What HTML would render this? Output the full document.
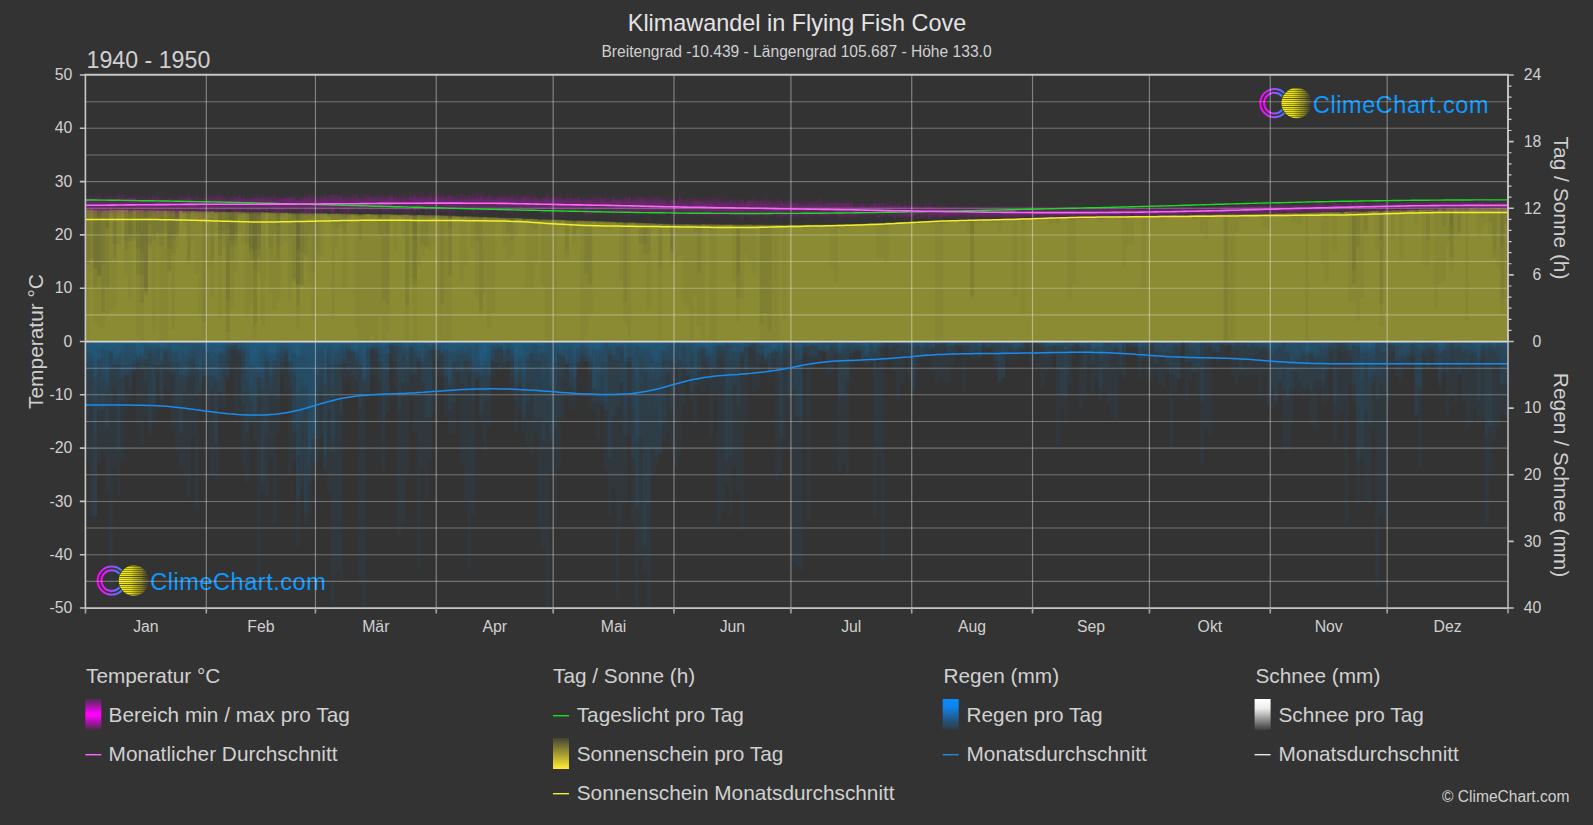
<!DOCTYPE html>
<html lang="de"><head><meta charset="utf-8"><title>Klimawandel in Flying Fish Cove</title>
<style>
html,body{margin:0;padding:0;background:#333333;}
body{width:1593px;height:825px;overflow:hidden;}
svg{display:block;}
text{font-family:"Liberation Sans",Arial,sans-serif;fill:#d0d0d0;}
.tk{font-size:15.8px;}
.lg{font-size:20.8px;}
.ax{font-size:20.9px;}
</style></head><body>
<svg width="1593" height="825" viewBox="0 0 1593 825">
<defs>
<linearGradient id="gRing" x1="0" y1="0" x2="1" y2="0"><stop offset="0" stop-color="#ff00ff"/><stop offset="0.45" stop-color="#b044ff"/><stop offset="1" stop-color="#1e90ff"/></linearGradient>
<linearGradient id="gSun" x1="0" y1="0" x2="1" y2="0"><stop offset="0" stop-color="#fff200"/><stop offset="0.4" stop-color="#e6dc08"/><stop offset="0.75" stop-color="#b0a818" stop-opacity="0.7"/><stop offset="1" stop-color="#8c8420" stop-opacity="0.05"/></linearGradient>
<linearGradient id="gMag" x1="0" y1="0" x2="0" y2="1"><stop offset="0" stop-color="#f000f0" stop-opacity="0.15"/><stop offset="0.46" stop-color="#ff00ff"/><stop offset="0.54" stop-color="#ff00ff"/><stop offset="1" stop-color="#f000f0" stop-opacity="0.1"/></linearGradient>
<linearGradient id="gYel" x1="0" y1="0" x2="0" y2="1"><stop offset="0" stop-color="#444433"/><stop offset="1" stop-color="#ffee33"/></linearGradient>
<linearGradient id="gBlu" x1="0" y1="0" x2="0" y2="1"><stop offset="0" stop-color="#0a8cff"/><stop offset="0.25" stop-color="#0e84f0"/><stop offset="1" stop-color="#1478d0" stop-opacity="0.08"/></linearGradient>
<linearGradient id="gWht" x1="0" y1="0" x2="0" y2="1"><stop offset="0" stop-color="#ffffff"/><stop offset="0.3" stop-color="#eeeeee"/><stop offset="1" stop-color="#eeeeee" stop-opacity="0.05"/></linearGradient>
<clipPath id="cp"><rect x="85.5" y="75.0" width="1422.5" height="533.0"/></clipPath>
<g id="stripes" stroke="#2e2e26" stroke-width="0.9">
<line x1="26" x2="57" y1="2.50" y2="2.50" stroke-opacity="0.5"/><line x1="26" x2="57" y1="4.50" y2="4.50" stroke-opacity="0.5"/><line x1="26" x2="57" y1="6.50" y2="6.50" stroke-opacity="0.5"/><line x1="26" x2="57" y1="8.50" y2="8.50" stroke-opacity="0.5"/><line x1="26" x2="57" y1="10.50" y2="10.50" stroke-opacity="0.5"/><line x1="26" x2="57" y1="12.50" y2="12.50" stroke-opacity="0.5"/><line x1="26" x2="57" y1="14.50" y2="14.50" stroke-opacity="0.85"/><line x1="26" x2="57" y1="16.50" y2="16.50" stroke-opacity="0.5"/><line x1="26" x2="57" y1="18.50" y2="18.50" stroke-opacity="0.5"/><line x1="26" x2="57" y1="20.50" y2="20.50" stroke-opacity="0.5"/><line x1="26" x2="57" y1="22.50" y2="22.50" stroke-opacity="0.85"/><line x1="26" x2="57" y1="24.50" y2="24.50" stroke-opacity="0.5"/><line x1="26" x2="57" y1="26.50" y2="26.50" stroke-opacity="0.5"/><line x1="26" x2="57" y1="28.50" y2="28.50" stroke-opacity="0.5"/><line x1="26" x2="57" y1="30.50" y2="30.50" stroke-opacity="0.5"/><line x1="26" x2="57" y1="32.50" y2="32.50" stroke-opacity="0.5"/><line x1="26" x2="57" y1="34.50" y2="34.50" stroke-opacity="0.5"/>
</g>
<clipPath id="cs"><circle cx="41.6" cy="19.1" r="15.1"/></clipPath>
<g id="logo">
<circle cx="19.4" cy="19.1" r="14.1" fill="none" stroke="url(#gRing)" stroke-width="2"/>
<circle cx="19.4" cy="19.1" r="10.35" fill="none" stroke="url(#gRing)" stroke-width="2"/>
<circle cx="41.6" cy="19.1" r="15.9" fill="#333333"/>
<circle cx="41.6" cy="19.1" r="15.1" fill="url(#gSun)"/>
<text x="58" y="28.6" style="font-size:23.5px;fill:#0d98ff;letter-spacing:0.54px">ClimeChart.com</text>
</g>
</defs>
<rect width="1593" height="825" fill="#333333"/>

<g transform="translate(1255,84)"><use href="#logo"/><g clip-path="url(#cs)"><use href="#stripes"/></g></g>
<g transform="translate(92.3,561.5)"><use href="#logo"/><g clip-path="url(#cs)"><use href="#stripes" y="0.5"/></g></g>
<g clip-path="url(#cp)">
<path d="M85.50,341.5V209.1H89.40V271.5H93.29V321.3H97.19V274.6H101.09V209.8H104.99V210.5H108.88V212.9H112.78V243.7H116.68V244.4H120.58V210.2H124.47V209.7H128.37V234.4H132.27V210.4H136.16V274.6H140.06V303.1H143.96V293.5H147.86V243.8H151.75V210.2H155.65V210.5H159.55V341.5H163.45V340.0H167.34V210.6H171.24V252.9H175.14V212.9H179.03V210.6H182.93V211.5H186.83V213.4H190.73V211.0H194.62V210.8H198.52V213.1H202.42V211.1H206.32V211.7H210.21V296.8H214.11V211.2H218.01V211.3H221.90V211.5H225.80V212.0H229.70V235.4H233.60V239.4H237.49V212.2H241.39V212.1H245.29V213.4H249.18V304.9H253.08V323.8H256.98V212.3H260.88V212.8H264.77V212.4H268.67V212.7H272.57V212.6H276.47V213.3H280.36V212.8H284.26V212.5H288.16V213.7H292.05V212.6H295.95V249.8H299.85V252.4H303.75V215.0H307.64V213.1H311.54V214.2H315.44V213.5H319.34V213.6H323.23V213.2H327.13V213.9H331.03V213.8H334.92V213.4H338.82V213.5H342.72V214.6H346.62V214.2H350.51V214.7H354.41V216.5H358.31V214.8H362.21V213.9H366.10V214.2H370.00V214.7H373.90V214.2H377.79V217.1H381.69V216.7H385.59V215.9H389.49V214.8H393.38V216.0H397.28V214.5H401.18V235.4H405.08V215.1H408.97V215.8H412.87V215.2H416.77V214.8H420.66V244.2H424.56V245.8H428.46V215.3H432.36V215.0H436.25V215.2H440.15V215.7H444.05V215.4H447.95V216.9H451.84V217.1H455.74V215.8H459.64V216.5H463.53V217.5H467.43V218.2H471.33V217.4H475.23V218.0H479.12V219.2H483.02V216.9H486.92V218.9H490.82V217.4H494.71V217.9H498.61V218.9H502.51V218.7H506.40V217.9H510.30V217.9H514.20V218.1H518.10V218.6H521.99V219.8H525.89V219.0H529.79V219.4H533.68V219.9H537.58V218.9H541.48V220.3H545.38V219.2H549.27V219.8H553.17V220.0H557.07V219.7H560.97V220.5H564.86V220.8H568.76V221.7H572.66V222.8H576.55V220.5H580.45V220.8H584.35V221.7H588.25V221.0H592.14V221.2H596.04V221.9H599.94V221.5H603.84V222.8H607.73V223.3H611.63V221.8H615.53V222.6H619.42V223.5H623.32V225.5H627.22V222.6H631.12V222.7H635.01V224.5H638.91V224.9H642.81V223.1H646.71V223.6H650.60V223.2H654.50V225.0H658.40V223.7H662.29V224.6H666.19V225.3H670.09V224.6H673.99V224.2H677.88V224.1H681.78V224.4H685.68V225.6H689.58V224.2H693.47V224.1H697.37V224.6H701.27V224.3H705.16V224.2H709.06V224.3H712.96V224.9H716.86V225.4H720.75V224.8H724.65V224.5H728.55V224.7H732.45V225.2H736.34V227.0H740.24V228.9H744.14V224.7H748.03V224.5H751.93V226.1H755.83V226.9H759.73V225.1H763.62V225.9H767.52V331.5H771.42V341.5H775.32V341.5H779.21V225.6H783.11V224.7H787.01V224.8H790.90V224.8H794.80V225.1H798.70V224.9H802.60V224.7H806.49V224.7H810.39V225.6H814.29V224.6H818.18V224.9H822.08V225.0H825.98V224.6H829.88V225.1H833.77V225.0H837.67V224.7H841.57V225.5H845.47V224.4H849.36V224.1H853.26V224.4H857.16V224.2H861.05V223.8H864.95V225.7H868.85V224.9H872.75V223.2H876.64V257.3H880.54V254.4H884.44V263.1H888.34V222.7H892.23V222.8H896.13V222.4H900.03V222.5H903.92V224.0H907.82V222.0H911.72V221.4H915.62V222.1H919.51V222.4H923.41V221.1H927.31V222.2H931.21V223.5H935.10V221.5H939.00V220.9H942.90V221.5H946.79V221.5H950.69V221.2H954.59V220.3H958.49V223.3H962.38V222.7H966.28V220.2H970.18V220.4H974.08V219.5H977.97V223.4H981.87V219.3H985.77V220.1H989.66V220.3H993.56V219.1H997.46V219.1H1001.36V218.9H1005.25V218.6H1009.15V218.5H1013.05V220.4H1016.95V218.8H1020.84V218.6H1024.74V218.1H1028.64V218.9H1032.53V219.3H1036.43V218.6H1040.33V217.8H1044.23V218.9H1048.12V217.4H1052.02V219.0H1055.92V218.1H1059.82V217.5H1063.71V217.8H1067.61V218.0H1071.51V217.3H1075.40V218.6H1079.30V217.3H1083.20V218.8H1087.10V218.3H1090.99V216.7H1094.89V217.5H1098.79V216.8H1102.68V216.4H1106.58V217.0H1110.48V216.8H1114.38V218.2H1118.27V216.1H1122.17V216.7H1126.07V216.3H1129.97V215.9H1133.86V217.0H1137.76V216.4H1141.66V215.6H1145.55V216.4H1149.45V215.8H1153.35V219.2H1157.25V215.5H1161.14V215.3H1165.04V216.4H1168.94V215.6H1172.84V215.5H1176.73V216.9H1180.63V215.3H1184.53V216.9H1188.42V215.8H1192.32V215.1H1196.22V214.8H1200.12V214.6H1204.01V217.7H1207.91V215.0H1211.81V214.6H1215.71V214.7H1219.60V214.3H1223.50V341.5H1227.40V214.3H1231.29V215.5H1235.19V214.2H1239.09V216.9H1242.99V214.6H1246.88V213.9H1250.78V216.2H1254.68V214.1H1258.58V214.8H1262.47V214.3H1266.37V213.6H1270.27V213.5H1274.16V213.3H1278.06V213.2H1281.96V213.2H1285.86V213.1H1289.75V215.6H1293.65V212.9H1297.55V213.4H1301.45V212.8H1305.34V212.8H1309.24V213.7H1313.14V214.8H1317.03V212.8H1320.93V212.1H1324.83V218.5H1328.73V211.9H1332.62V251.7H1336.52V212.4H1340.42V213.6H1344.32V213.1H1348.21V212.3H1352.11V211.8H1356.01V212.9H1359.90V213.0H1363.80V212.9H1367.70V212.1H1371.60V210.9H1375.49V211.1H1379.39V211.2H1383.29V211.2H1387.18V212.0H1391.08V236.6H1394.98V211.2H1398.88V210.5H1402.77V211.3H1406.67V210.0H1410.57V210.3H1414.47V209.6H1418.36V209.7H1422.26V211.8H1426.16V239.9H1430.05V211.1H1433.95V209.6H1437.85V208.9H1441.75V210.1H1445.64V208.6H1449.54V210.1H1453.44V208.5H1457.34V209.4H1461.23V208.5H1465.13V208.7H1469.03V211.1H1472.92V208.9H1476.82V209.2H1480.72V209.4H1484.62V208.2H1488.51V209.8H1492.41V210.3H1496.31V208.2H1500.21V208.8H1504.10V223.7H1508.00V341.5Z" fill="#c6c630" fill-opacity="0.0769"/>
<path d="M85.50,341.5V210.3H89.40V209.1H93.29V209.8H97.19V326.9H101.09V328.9H104.99V315.6H108.88V210.6H112.78V209.6H116.68V211.2H120.58V209.9H124.47V274.3H128.37V299.5H132.27V210.4H136.16V210.0H140.06V211.1H143.96V289.6H147.86V211.2H151.75V213.1H155.65V231.8H159.55V210.3H163.45V210.5H167.34V270.4H171.24V233.4H175.14V233.0H179.03V211.0H182.93V211.2H186.83V211.0H190.73V210.8H194.62V211.4H198.52V210.9H202.42V211.5H206.32V213.4H210.21V211.3H214.11V212.1H218.01V212.2H221.90V236.9H225.80V229.1H229.70V240.4H233.60V212.1H237.49V214.8H241.39V212.1H245.29V212.9H249.18V213.5H253.08V212.3H256.98V216.1H260.88V212.9H264.77V212.7H268.67V293.3H272.57V310.0H276.47V298.8H280.36V212.9H284.26V213.6H288.16V237.8H292.05V215.0H295.95V213.4H299.85V213.0H303.75V253.8H307.64V214.9H311.54V213.0H315.44V263.1H319.34V213.5H323.23V213.6H327.13V216.8H331.03V224.5H334.92V227.3H338.82V227.7H342.72V213.5H346.62V215.3H350.51V213.6H354.41V214.1H358.31V213.7H362.21V215.3H366.10V341.5H370.00V334.5H373.90V341.5H377.79V218.4H381.69V214.4H385.59V214.4H389.49V214.9H393.38V215.1H397.28V215.4H401.18V214.6H405.08V215.5H408.97V216.9H412.87V216.9H416.77V217.3H420.66V217.1H424.56V217.8H428.46V215.0H432.36V217.2H436.25V215.4H440.15V215.6H444.05V215.9H447.95V218.3H451.84V216.5H455.74V216.2H459.64V216.4H463.53V216.1H467.43V217.8H471.33V216.4H475.23V216.8H479.12V217.1H483.02V217.1H486.92V217.7H490.82V217.4H494.71V218.1H498.61V219.9H502.51V219.3H506.40V217.8H510.30V218.1H514.20V218.5H518.10V219.1H521.99V218.7H525.89V218.7H529.79V219.0H533.68V219.0H537.58V220.7H541.48V220.1H545.38V219.7H549.27V220.4H553.17V220.1H557.07V220.3H560.97V220.2H564.86V220.5H568.76V223.9H572.66V221.6H576.55V222.0H580.45V220.7H584.35V221.3H588.25V221.3H592.14V221.1H596.04V221.6H599.94V229.0H603.84V229.7H607.73V230.0H611.63V222.0H615.53V223.3H619.42V223.1H623.32V223.3H627.22V222.4H631.12V222.5H635.01V222.6H638.91V222.9H642.81V222.9H646.71V226.0H650.60V225.2H654.50V223.6H658.40V223.8H662.29V226.6H666.19V223.8H670.09V252.7H673.99V263.2H677.88V256.2H681.78V224.6H685.68V224.4H689.58V224.9H693.47V225.3H697.37V224.8H701.27V225.7H705.16V224.3H709.06V225.1H712.96V228.4H716.86V224.4H720.75V224.9H724.65V225.2H728.55V224.7H732.45V227.4H736.34V225.0H740.24V225.0H744.14V226.6H748.03V224.5H751.93V226.4H755.83V224.7H759.73V224.6H763.62V225.2H767.52V225.2H771.42V224.7H775.32V225.0H779.21V225.1H783.11V227.5H787.01V227.0H790.90V225.6H794.80V227.2H798.70V226.5H802.60V225.1H806.49V224.8H810.39V224.6H814.29V224.6H818.18V224.5H822.08V228.1H825.98V227.6H829.88V269.1H833.77V281.5H837.67V225.2H841.57V225.3H845.47V224.2H849.36V224.7H853.26V224.8H857.16V224.0H861.05V223.9H864.95V224.1H868.85V223.5H872.75V223.1H876.64V223.3H880.54V224.0H884.44V222.9H888.34V224.2H892.23V223.3H896.13V223.0H900.03V223.9H903.92V221.8H907.82V221.7H911.72V223.6H915.62V223.4H919.51V221.3H923.41V222.4H927.31V221.0H931.21V221.0H935.10V220.8H939.00V220.9H942.90V220.9H946.79V222.5H950.69V220.7H954.59V220.2H958.49V220.3H962.38V219.9H966.28V219.8H970.18V220.1H974.08V220.2H977.97V219.7H981.87V219.7H985.77V219.3H989.66V220.0H993.56V219.4H997.46V230.8H1001.36V219.3H1005.25V218.8H1009.15V218.8H1013.05V218.4H1016.95V219.6H1020.84V218.4H1024.74V220.8H1028.64V218.3H1032.53V217.9H1036.43V218.8H1040.33V218.8H1044.23V219.4H1048.12V217.6H1052.02V218.8H1055.92V219.1H1059.82V217.5H1063.71V217.7H1067.61V217.9H1071.51V217.0H1075.40V218.8H1079.30V217.9H1083.20V218.5H1087.10V216.7H1090.99V216.6H1094.89V216.7H1098.79V216.8H1102.68V217.6H1106.58V219.2H1110.48V216.4H1114.38V216.2H1118.27V216.1H1122.17V216.0H1126.07V217.3H1129.97V216.1H1133.86V216.4H1137.76V215.7H1141.66V217.3H1145.55V215.7H1149.45V215.5H1153.35V216.0H1157.25V215.3H1161.14V215.6H1165.04V216.5H1168.94V216.2H1172.84V215.2H1176.73V215.7H1180.63V216.4H1184.53V217.1H1188.42V214.8H1192.32V216.2H1196.22V214.7H1200.12V215.7H1204.01V215.4H1207.91V217.2H1211.81V214.4H1215.71V214.4H1219.60V215.3H1223.50V214.5H1227.40V215.8H1231.29V214.1H1235.19V214.4H1239.09V215.0H1242.99V214.1H1246.88V214.8H1250.78V214.9H1254.68V214.9H1258.58V215.5H1262.47V214.1H1266.37V213.7H1270.27V213.7H1274.16V213.8H1278.06V213.3H1281.96V214.3H1285.86V213.1H1289.75V222.2H1293.65V222.8H1297.55V223.5H1301.45V215.1H1305.34V214.0H1309.24V212.7H1313.14V212.7H1317.03V213.8H1320.93V213.0H1324.83V212.3H1328.73V212.5H1332.62V213.6H1336.52V211.7H1340.42V216.0H1344.32V212.3H1348.21V211.6H1352.11V212.8H1356.01V211.3H1359.90V211.1H1363.80V211.8H1367.70V211.2H1371.60V210.8H1375.49V211.8H1379.39V210.6H1383.29V210.5H1387.18V210.5H1391.08V211.1H1394.98V210.4H1398.88V210.8H1402.77V211.5H1406.67V211.7H1410.57V209.8H1414.47V209.9H1418.36V209.9H1422.26V209.3H1426.16V209.7H1430.05V209.6H1433.95V307.6H1437.85V283.4H1441.75V280.8H1445.64V241.6H1449.54V236.4H1453.44V208.8H1457.34V232.3H1461.23V208.5H1465.13V209.2H1469.03V208.8H1472.92V210.5H1476.82V209.8H1480.72V208.5H1484.62V208.4H1488.51V209.5H1492.41V252.7H1496.31V266.8H1500.21V247.1H1504.10V208.0H1508.00V341.5Z" fill="#c6c630" fill-opacity="0.0769"/>
<path d="M85.50,341.5V209.9H89.40V209.6H93.29V210.6H97.19V210.5H101.09V211.6H104.99V209.4H108.88V309.8H112.78V306.8H116.68V209.9H120.58V210.0H124.47V209.7H128.37V211.6H132.27V209.8H136.16V210.6H140.06V252.9H143.96V211.5H147.86V210.5H151.75V210.3H155.65V245.3H159.55V246.5H163.45V210.4H167.34V210.4H171.24V211.4H175.14V217.4H179.03V214.7H182.93V211.3H186.83V211.0H190.73V212.4H194.62V211.0H198.52V211.3H202.42V338.5H206.32V211.0H210.21V211.4H214.11V212.4H218.01V211.3H221.90V212.0H225.80V300.4H229.70V259.2H233.60V211.8H237.49V211.6H241.39V212.4H245.29V212.6H249.18V223.4H253.08V258.5H256.98V249.0H260.88V219.4H264.77V212.1H268.67V213.6H272.57V212.5H276.47V212.9H280.36V213.1H284.26V213.3H288.16V301.1H292.05V281.6H295.95V284.3H299.85V213.8H303.75V214.3H307.64V214.9H311.54V213.3H315.44V213.0H319.34V256.8H323.23V213.4H327.13V213.4H331.03V319.0H334.92V214.3H338.82V224.1H342.72V214.3H346.62V213.6H350.51V214.1H354.41V214.4H358.31V214.7H362.21V214.0H366.10V213.9H370.00V214.7H373.90V215.5H377.79V314.5H381.69V300.5H385.59V304.5H389.49V214.7H393.38V215.1H397.28V215.5H401.18V216.3H405.08V215.1H408.97V214.6H412.87V239.8H416.77V214.9H420.66V215.1H424.56V216.0H428.46V216.9H432.36V215.5H436.25V215.1H440.15V303.8H444.05V215.5H447.95V216.2H451.84V216.2H455.74V216.3H459.64V216.0H463.53V217.0H467.43V217.3H471.33V217.3H475.23V298.5H479.12V316.9H483.02V217.4H486.92V218.7H490.82V217.9H494.71V219.2H498.61V217.9H502.51V218.7H506.40V233.6H510.30V239.9H514.20V236.7H518.10V218.2H521.99V220.7H525.89V218.9H529.79V218.6H533.68V218.7H537.58V221.3H541.48V220.4H545.38V223.1H549.27V221.8H553.17V220.0H557.07V219.9H560.97V219.8H564.86V220.2H568.76V221.0H572.66V222.4H576.55V220.4H580.45V341.5H584.35V335.2H588.25V222.1H592.14V221.0H596.04V221.3H599.94V221.3H603.84V222.6H607.73V222.5H611.63V221.8H615.53V222.3H619.42V222.1H623.32V226.7H627.22V224.0H631.12V225.8H635.01V224.2H638.91V261.6H642.81V261.3H646.71V224.7H650.60V223.4H654.50V224.4H658.40V223.7H662.29V224.1H666.19V225.6H670.09V224.4H673.99V226.0H677.88V224.9H681.78V224.4H685.68V224.4H689.58V227.5H693.47V224.9H697.37V224.2H701.27V224.4H705.16V224.8H709.06V228.0H712.96V224.7H716.86V226.8H720.75V225.9H724.65V225.0H728.55V224.4H732.45V224.5H736.34V225.1H740.24V225.7H744.14V224.7H748.03V224.5H751.93V224.6H755.83V224.7H759.73V224.8H763.62V226.1H767.52V225.2H771.42V225.3H775.32V225.0H779.21V225.0H783.11V225.5H787.01V226.0H790.90V225.0H794.80V224.8H798.70V225.7H802.60V227.6H806.49V224.9H810.39V225.1H814.29V225.3H818.18V224.7H822.08V225.3H825.98V227.7H829.88V224.7H833.77V224.9H837.67V224.4H841.57V224.9H845.47V227.4H849.36V224.8H853.26V224.2H857.16V224.1H861.05V224.5H864.95V223.5H868.85V223.3H872.75V223.7H876.64V224.4H880.54V222.9H884.44V225.3H888.34V223.0H892.23V222.6H896.13V222.1H900.03V222.2H903.92V221.9H907.82V221.8H911.72V222.4H915.62V221.4H919.51V221.7H923.41V221.3H927.31V221.7H931.21V221.0H935.10V222.0H939.00V222.9H942.90V220.8H946.79V220.7H950.69V221.0H954.59V221.3H958.49V220.0H962.38V220.9H966.28V221.3H970.18V295.9H974.08V220.0H977.97V220.9H981.87V220.0H985.77V219.3H989.66V219.3H993.56V219.7H997.46V218.8H1001.36V220.1H1005.25V219.7H1009.15V218.7H1013.05V218.8H1016.95V219.6H1020.84V218.6H1024.74V218.2H1028.64V220.3H1032.53V218.3H1036.43V218.0H1040.33V218.2H1044.23V217.8H1048.12V217.7H1052.02V218.3H1055.92V218.7H1059.82V217.2H1063.71V217.3H1067.61V217.6H1071.51V217.5H1075.40V217.4H1079.30V217.1H1083.20V218.1H1087.10V216.9H1090.99V216.6H1094.89V217.6H1098.79V217.7H1102.68V216.6H1106.58V216.5H1110.48V217.0H1114.38V218.4H1118.27V216.3H1122.17V266.3H1126.07V216.2H1129.97V217.1H1133.86V216.3H1137.76V216.1H1141.66V288.7H1145.55V215.5H1149.45V216.2H1153.35V215.6H1157.25V215.8H1161.14V218.1H1165.04V215.2H1168.94V215.8H1172.84V215.1H1176.73V215.2H1180.63V215.0H1184.53V216.9H1188.42V215.0H1192.32V218.4H1196.22V214.7H1200.12V215.7H1204.01V215.0H1207.91V214.6H1211.81V214.8H1215.71V215.6H1219.60V214.8H1223.50V215.7H1227.40V214.4H1231.29V215.7H1235.19V215.8H1239.09V215.1H1242.99V213.9H1246.88V214.1H1250.78V213.8H1254.68V213.8H1258.58V214.9H1262.47V214.2H1266.37V214.8H1270.27V213.7H1274.16V213.7H1278.06V215.3H1281.96V213.1H1285.86V213.1H1289.75V214.3H1293.65V213.6H1297.55V212.7H1301.45V213.5H1305.34V212.8H1309.24V212.4H1313.14V212.3H1317.03V213.5H1320.93V212.2H1324.83V213.1H1328.73V212.0H1332.62V213.8H1336.52V212.6H1340.42V212.5H1344.32V211.6H1348.21V211.5H1352.11V212.0H1356.01V211.2H1359.90V212.7H1363.80V233.8H1367.70V211.4H1371.60V211.0H1375.49V211.4H1379.39V213.4H1383.29V210.8H1387.18V211.8H1391.08V210.5H1394.98V212.1H1398.88V259.8H1402.77V210.1H1406.67V211.2H1410.57V209.7H1414.47V225.0H1418.36V209.6H1422.26V209.6H1426.16V209.8H1430.05V211.8H1433.95V210.7H1437.85V209.2H1441.75V208.7H1445.64V209.4H1449.54V209.3H1453.44V208.7H1457.34V209.3H1461.23V212.0H1465.13V208.5H1469.03V208.7H1472.92V210.0H1476.82V208.4H1480.72V217.1H1484.62V222.9H1488.51V221.8H1492.41V208.3H1496.31V209.4H1500.21V208.2H1504.10V208.1H1508.00V341.5Z" fill="#c6c630" fill-opacity="0.0769"/>
<path d="M85.50,341.5V209.9H89.40V210.4H93.29V210.4H97.19V209.7H101.09V211.5H104.99V227.4H108.88V209.4H112.78V209.9H116.68V210.3H120.58V209.8H124.47V209.8H128.37V213.4H132.27V239.9H136.16V232.4H140.06V210.6H143.96V212.2H147.86V210.4H151.75V210.1H155.65V210.2H159.55V217.6H163.45V210.4H167.34V272.1H171.24V210.9H175.14V210.6H179.03V210.9H182.93V211.7H186.83V212.0H190.73V211.4H194.62V211.1H198.52V212.6H202.42V211.2H206.32V212.3H210.21V211.3H214.11V213.6H218.01V317.8H221.90V211.3H225.80V332.1H229.70V211.5H233.60V245.0H237.49V212.4H241.39V212.7H245.29V212.5H249.18V260.4H253.08V269.7H256.98V272.7H260.88V212.1H264.77V212.6H268.67V213.4H272.57V212.8H276.47V215.5H280.36V213.1H284.26V212.8H288.16V214.5H292.05V213.1H295.95V213.4H299.85V213.7H303.75V214.6H307.64V213.1H311.54V214.8H315.44V213.8H319.34V213.5H323.23V213.5H327.13V216.8H331.03V215.9H334.92V213.4H338.82V213.8H342.72V216.8H346.62V213.6H350.51V213.7H354.41V214.3H358.31V214.5H362.21V213.8H366.10V214.1H370.00V214.0H373.90V214.3H377.79V214.3H381.69V214.3H385.59V214.3H389.49V214.7H393.38V214.5H397.28V215.7H401.18V214.9H405.08V214.6H408.97V215.5H412.87V216.0H416.77V215.1H420.66V214.8H424.56V215.8H428.46V216.2H432.36V217.0H436.25V216.2H440.15V216.0H444.05V215.8H447.95V215.8H451.84V215.7H455.74V217.4H459.64V280.6H463.53V265.5H467.43V216.6H471.33V216.5H475.23V216.9H479.12V308.9H483.02V217.1H486.92V217.0H490.82V217.6H494.71V217.6H498.61V218.5H502.51V218.3H506.40V218.3H510.30V221.2H514.20V219.7H518.10V218.3H521.99V218.6H525.89V218.9H529.79V218.7H533.68V220.0H537.58V220.2H541.48V219.4H545.38V221.3H549.27V220.1H553.17V219.7H557.07V220.5H560.97V220.8H564.86V219.9H568.76V223.3H572.66V222.4H576.55V220.9H580.45V221.0H584.35V220.7H588.25V221.3H592.14V221.2H596.04V221.3H599.94V221.3H603.84V221.5H607.73V221.7H611.63V222.7H615.53V222.7H619.42V222.6H623.32V301.7H627.22V336.5H631.12V222.7H635.01V222.6H638.91V222.8H642.81V223.0H646.71V224.1H650.60V225.7H654.50V224.9H658.40V341.5H662.29V223.7H666.19V224.3H670.09V226.0H673.99V225.7H677.88V224.8H681.78V224.1H685.68V224.1H689.58V224.4H693.47V224.2H697.37V226.3H701.27V224.5H705.16V228.6H709.06V230.7H712.96V229.7H716.86V225.7H720.75V225.0H724.65V224.4H728.55V225.4H732.45V225.5H736.34V225.5H740.24V225.5H744.14V225.5H748.03V225.8H751.93V225.0H755.83V227.4H759.73V225.2H763.62V224.9H767.52V229.1H771.42V225.0H775.32V224.7H779.21V225.8H783.11V226.2H787.01V225.1H790.90V224.8H794.80V225.6H798.70V225.5H802.60V225.9H806.49V224.7H810.39V226.2H814.29V225.9H818.18V226.3H822.08V225.8H825.98V225.4H829.88V225.1H833.77V226.1H837.67V224.5H841.57V225.3H845.47V225.6H849.36V225.5H853.26V224.1H857.16V224.1H861.05V226.1H864.95V224.8H868.85V223.4H872.75V223.7H876.64V224.4H880.54V224.5H884.44V222.6H888.34V222.4H892.23V222.5H896.13V222.1H900.03V222.1H903.92V221.8H907.82V222.6H911.72V222.5H915.62V221.8H919.51V223.1H923.41V221.2H927.31V221.1H931.21V221.7H935.10V221.4H939.00V220.7H942.90V222.6H946.79V221.2H950.69V220.2H954.59V220.5H958.49V220.8H962.38V219.9H966.28V220.1H970.18V220.5H974.08V220.3H977.97V220.1H981.87V219.3H985.77V219.5H989.66V222.8H993.56V221.5H997.46V220.3H1001.36V218.7H1005.25V218.6H1009.15V218.7H1013.05V219.9H1016.95V218.4H1020.84V218.3H1024.74V218.2H1028.64V219.0H1032.53V218.4H1036.43V219.4H1040.33V217.7H1044.23V217.6H1048.12V219.1H1052.02V217.5H1055.92V218.4H1059.82V218.1H1063.71V217.4H1067.61V217.3H1071.51V218.2H1075.40V216.9H1079.30V219.6H1083.20V216.8H1087.10V216.8H1090.99V217.5H1094.89V216.6H1098.79V221.9H1102.68V216.9H1106.58V216.4H1110.48V216.4H1114.38V216.9H1118.27V217.9H1122.17V216.3H1126.07V216.4H1129.97V216.6H1133.86V216.7H1137.76V216.9H1141.66V216.0H1145.55V216.0H1149.45V217.3H1153.35V217.5H1157.25V215.8H1161.14V220.4H1165.04V215.4H1168.94V215.2H1172.84V217.2H1176.73V215.0H1180.63V216.0H1184.53V214.9H1188.42V216.5H1192.32V215.8H1196.22V215.5H1200.12V215.4H1204.01V214.7H1207.91V216.2H1211.81V215.1H1215.71V215.2H1219.60V214.5H1223.50V215.1H1227.40V214.4H1231.29V215.4H1235.19V214.0H1239.09V214.1H1242.99V214.1H1246.88V214.3H1250.78V215.6H1254.68V213.7H1258.58V214.4H1262.47V213.6H1266.37V214.0H1270.27V213.8H1274.16V213.5H1278.06V213.8H1281.96V213.5H1285.86V213.3H1289.75V213.8H1293.65V213.1H1297.55V216.0H1301.45V212.9H1305.34V216.6H1309.24V212.6H1313.14V215.0H1317.03V212.3H1320.93V212.2H1324.83V212.1H1328.73V213.0H1332.62V212.1H1336.52V212.0H1340.42V212.7H1344.32V211.6H1348.21V211.4H1352.11V269.6H1356.01V246.7H1359.90V211.6H1363.80V230.0H1367.70V213.1H1371.60V211.2H1375.49V211.1H1379.39V211.7H1383.29V212.3H1387.18V210.7H1391.08V210.4H1394.98V213.1H1398.88V210.6H1402.77V210.6H1406.67V209.8H1410.57V211.3H1414.47V210.1H1418.36V210.7H1422.26V265.4H1426.16V209.3H1430.05V209.1H1433.95V210.7H1437.85V209.5H1441.75V209.1H1445.64V208.6H1449.54V208.5H1453.44V208.9H1457.34V208.8H1461.23V208.8H1465.13V208.4H1469.03V208.7H1472.92V208.3H1476.82V208.8H1480.72V208.3H1484.62V208.4H1488.51V235.8H1492.41V258.2H1496.31V208.1H1500.21V210.0H1504.10V208.5H1508.00V341.5Z" fill="#c6c630" fill-opacity="0.0769"/>
<path d="M85.50,341.5V262.7H89.40V258.5H93.29V269.1H97.19V209.2H101.09V210.8H104.99V210.5H108.88V210.3H112.78V257.9H116.68V209.7H120.58V209.8H124.47V209.7H128.37V209.8H132.27V210.7H136.16V248.2H140.06V209.9H143.96V217.4H147.86V216.3H151.75V211.8H155.65V210.7H159.55V211.0H163.45V210.4H167.34V212.2H171.24V210.5H175.14V210.7H179.03V210.6H182.93V211.3H186.83V210.7H190.73V213.3H194.62V215.9H198.52V219.0H202.42V217.5H206.32V212.1H210.21V211.6H214.11V212.7H218.01V212.2H221.90V212.8H225.80V213.2H229.70V212.8H233.60V211.7H237.49V212.3H241.39V213.0H245.29V213.1H249.18V214.2H253.08V249.9H256.98V212.0H260.88V213.2H264.77V212.4H268.67V213.1H272.57V212.3H276.47V212.7H280.36V213.3H284.26V212.6H288.16V212.9H292.05V224.0H295.95V214.7H299.85V212.8H303.75V213.7H307.64V213.6H311.54V216.4H315.44V213.3H319.34V214.2H323.23V213.2H327.13V214.1H331.03V213.5H334.92V213.4H338.82V215.6H342.72V213.8H346.62V217.7H350.51V214.6H354.41V214.7H358.31V214.8H362.21V218.2H366.10V214.1H370.00V217.9H373.90V214.4H377.79V214.2H381.69V341.5H385.59V334.2H389.49V214.4H393.38V214.9H397.28V214.4H401.18V214.7H405.08V307.1H408.97V215.5H412.87V215.7H416.77V214.9H420.66V214.8H424.56V216.5H428.46V215.0H432.36V217.9H436.25V217.8H440.15V215.6H444.05V218.2H447.95V218.0H451.84V215.8H455.74V217.0H459.64V218.9H463.53V217.7H467.43V216.4H471.33V248.0H475.23V241.6H479.12V217.4H483.02V216.8H486.92V217.4H490.82V217.2H494.71V217.3H498.61V217.8H502.51V246.3H506.40V218.5H510.30V220.7H514.20V218.1H518.10V218.5H521.99V220.1H525.89V220.0H529.79V218.7H533.68V219.8H537.58V219.0H541.48V221.7H545.38V219.5H549.27V220.2H553.17V220.1H557.07V220.3H560.97V220.0H564.86V251.3H568.76V220.4H572.66V221.1H576.55V220.4H580.45V221.3H584.35V274.2H588.25V284.0H592.14V222.0H596.04V224.5H599.94V222.0H603.84V222.2H607.73V222.5H611.63V222.5H615.53V222.4H619.42V222.3H623.32V222.9H627.22V222.6H631.12V223.5H635.01V224.6H638.91V224.2H642.81V224.3H646.71V223.1H650.60V223.2H654.50V223.6H658.40V267.5H662.29V223.8H666.19V223.9H670.09V223.9H673.99V224.4H677.88V224.1H681.78V224.7H685.68V306.4H689.58V224.7H693.47V224.3H697.37V224.8H701.27V224.3H705.16V225.4H709.06V226.8H712.96V224.3H716.86V225.1H720.75V225.9H724.65V225.3H728.55V224.5H732.45V224.4H736.34V275.6H740.24V224.5H744.14V254.6H748.03V224.5H751.93V226.2H755.83V224.6H759.73V224.9H763.62V225.9H767.52V224.8H771.42V225.3H775.32V225.3H779.21V224.8H783.11V318.7H787.01V225.8H790.90V225.0H794.80V225.3H798.70V225.1H802.60V227.2H806.49V225.6H810.39V227.2H814.29V225.9H818.18V225.9H822.08V224.8H825.98V226.1H829.88V224.8H833.77V225.9H837.67V225.4H841.57V224.9H845.47V224.4H849.36V225.0H853.26V224.9H857.16V224.8H861.05V223.7H864.95V223.7H868.85V224.0H872.75V224.8H876.64V223.2H880.54V224.8H884.44V225.9H888.34V222.5H892.23V223.4H896.13V222.5H900.03V222.0H903.92V222.0H907.82V221.6H911.72V221.4H915.62V222.4H919.51V221.7H923.41V221.4H927.31V222.8H931.21V223.9H935.10V221.3H939.00V220.9H942.90V221.3H946.79V220.8H950.69V222.2H954.59V220.4H958.49V220.1H962.38V219.9H966.28V232.8H970.18V233.5H974.08V219.6H977.97V221.6H981.87V220.3H985.77V219.9H989.66V221.6H993.56V219.8H997.46V219.9H1001.36V218.8H1005.25V218.9H1009.15V219.3H1013.05V218.3H1016.95V218.5H1020.84V218.6H1024.74V218.0H1028.64V218.2H1032.53V217.8H1036.43V219.9H1040.33V217.6H1044.23V218.3H1048.12V224.5H1052.02V223.0H1055.92V224.3H1059.82V217.5H1063.71V218.1H1067.61V219.4H1071.51V217.1H1075.40V218.5H1079.30V216.8H1083.20V216.8H1087.10V218.8H1090.99V217.4H1094.89V216.5H1098.79V217.5H1102.68V217.4H1106.58V218.2H1110.48V217.5H1114.38V216.6H1118.27V216.5H1122.17V219.1H1126.07V244.9H1129.97V245.4H1133.86V216.2H1137.76V215.8H1141.66V216.0H1145.55V216.3H1149.45V215.7H1153.35V215.9H1157.25V216.2H1161.14V215.7H1165.04V216.5H1168.94V215.8H1172.84V215.4H1176.73V216.2H1180.63V215.7H1184.53V215.4H1188.42V214.8H1192.32V218.7H1196.22V214.9H1200.12V215.1H1204.01V215.4H1207.91V216.9H1211.81V214.8H1215.71V214.5H1219.60V215.4H1223.50V341.5H1227.40V341.5H1231.29V341.5H1235.19V214.6H1239.09V219.6H1242.99V214.3H1246.88V215.8H1250.78V213.8H1254.68V213.7H1258.58V215.6H1262.47V213.9H1266.37V215.2H1270.27V214.3H1274.16V213.7H1278.06V213.3H1281.96V214.1H1285.86V213.5H1289.75V213.6H1293.65V213.0H1297.55V212.8H1301.45V212.7H1305.34V213.5H1309.24V212.6H1313.14V212.7H1317.03V212.2H1320.93V265.0H1324.83V281.4H1328.73V212.2H1332.62V212.4H1336.52V212.2H1340.42V213.0H1344.32V211.5H1348.21V211.7H1352.11V215.2H1356.01V211.4H1359.90V212.1H1363.80V211.9H1367.70V211.3H1371.60V212.1H1375.49V212.0H1379.39V211.2H1383.29V210.9H1387.18V210.5H1391.08V212.1H1394.98V213.9H1398.88V210.4H1402.77V209.9H1406.67V210.7H1410.57V211.0H1414.47V211.2H1418.36V210.8H1422.26V210.3H1426.16V266.2H1430.05V209.1H1433.95V208.9H1437.85V209.9H1441.75V225.7H1445.64V208.8H1449.54V209.0H1453.44V209.2H1457.34V208.4H1461.23V209.6H1465.13V209.5H1469.03V208.5H1472.92V208.5H1476.82V208.4H1480.72V208.7H1484.62V211.1H1488.51V208.6H1492.41V210.5H1496.31V208.3H1500.21V208.3H1504.10V208.7H1508.00V341.5Z" fill="#c6c630" fill-opacity="0.0769"/>
<path d="M85.50,341.5V209.2H89.40V209.1H93.29V210.2H97.19V209.6H101.09V210.4H104.99V228.9H108.88V209.7H112.78V211.5H116.68V210.3H120.58V209.7H124.47V210.2H128.37V209.8H132.27V209.9H136.16V210.6H140.06V210.0H143.96V210.0H147.86V210.1H151.75V210.2H155.65V210.7H159.55V210.4H163.45V210.7H167.34V210.9H171.24V210.7H175.14V220.9H179.03V210.7H182.93V213.2H186.83V211.1H190.73V240.9H194.62V212.1H198.52V212.3H202.42V212.0H206.32V213.0H210.21V211.8H214.11V211.3H218.01V256.1H221.90V248.8H225.80V341.5H229.70V306.7H233.60V211.5H237.49V212.6H241.39V211.7H245.29V212.2H249.18V212.2H253.08V212.0H256.98V213.5H260.88V325.8H264.77V212.4H268.67V213.3H272.57V214.3H276.47V212.3H280.36V212.8H284.26V213.5H288.16V213.0H292.05V213.4H295.95V212.7H299.85V213.1H303.75V256.4H307.64V212.9H311.54V213.8H315.44V213.3H319.34V214.3H323.23V213.3H327.13V213.8H331.03V214.0H334.92V213.4H338.82V214.9H342.72V214.2H346.62V213.6H350.51V215.3H354.41V213.7H358.31V216.0H362.21V214.8H366.10V214.5H370.00V213.9H373.90V214.4H377.79V214.6H381.69V214.5H385.59V214.6H389.49V216.8H393.38V215.0H397.28V215.0H401.18V214.9H405.08V214.9H408.97V214.8H412.87V341.5H416.77V215.9H420.66V215.4H424.56V215.7H428.46V216.5H432.36V215.4H436.25V215.4H440.15V215.2H444.05V215.9H447.95V217.1H451.84V217.7H455.74V217.6H459.64V217.0H463.53V216.8H467.43V216.4H471.33V218.8H475.23V218.3H479.12V217.4H483.02V293.0H486.92V328.9H490.82V312.8H494.71V219.3H498.61V217.8H502.51V218.3H506.40V220.6H510.30V218.1H514.20V218.0H518.10V220.8H521.99V220.2H525.89V218.5H529.79V219.4H533.68V219.7H537.58V220.0H541.48V219.9H545.38V219.9H549.27V220.2H553.17V220.4H557.07V219.7H560.97V220.0H564.86V220.2H568.76V220.1H572.66V220.8H576.55V221.2H580.45V223.7H584.35V220.8H588.25V221.0H592.14V221.3H596.04V223.4H599.94V222.4H603.84V221.6H607.73V221.7H611.63V221.9H615.53V224.1H619.42V222.5H623.32V224.0H627.22V222.3H631.12V225.5H635.01V223.3H638.91V223.1H642.81V253.1H646.71V253.0H650.60V225.2H654.50V226.0H658.40V224.0H662.29V224.2H666.19V225.2H670.09V250.4H673.99V224.3H677.88V224.3H681.78V224.7H685.68V224.3H689.58V225.4H693.47V225.1H697.37V226.6H701.27V225.4H705.16V224.8H709.06V224.4H712.96V224.5H716.86V226.3H720.75V225.2H724.65V224.4H728.55V225.0H732.45V225.7H736.34V225.9H740.24V226.1H744.14V226.7H748.03V261.6H751.93V273.3H755.83V225.5H759.73V224.6H763.62V225.6H767.52V225.3H771.42V224.9H775.32V224.9H779.21V225.8H783.11V225.0H787.01V225.1H790.90V225.2H794.80V226.1H798.70V224.7H802.60V224.8H806.49V224.8H810.39V225.7H814.29V224.6H818.18V225.3H822.08V225.1H825.98V224.9H829.88V224.8H833.77V225.1H837.67V224.4H841.57V224.6H845.47V224.7H849.36V224.3H853.26V224.6H857.16V224.1H861.05V223.7H864.95V223.6H868.85V223.6H872.75V223.1H876.64V224.4H880.54V223.4H884.44V222.6H888.34V223.3H892.23V224.4H896.13V222.1H900.03V222.3H903.92V221.7H907.82V222.3H911.72V221.5H915.62V223.8H919.51V221.7H923.41V221.9H927.31V221.3H931.21V221.2H935.10V220.7H939.00V222.4H942.90V220.7H946.79V220.6H950.69V220.6H954.59V220.3H958.49V220.0H962.38V220.2H966.28V223.1H970.18V219.6H974.08V219.5H977.97V221.0H981.87V219.3H985.77V219.2H989.66V220.8H993.56V219.1H997.46V219.0H1001.36V220.1H1005.25V219.5H1009.15V221.7H1013.05V218.5H1016.95V218.3H1020.84V218.1H1024.74V218.3H1028.64V217.9H1032.53V218.6H1036.43V217.7H1040.33V218.1H1044.23V218.2H1048.12V217.5H1052.02V218.4H1055.92V221.5H1059.82V217.7H1063.71V217.8H1067.61V217.5H1071.51V220.5H1075.40V218.6H1079.30V220.0H1083.20V217.2H1087.10V217.0H1090.99V216.6H1094.89V216.6H1098.79V219.3H1102.68V217.2H1106.58V216.8H1110.48V216.4H1114.38V218.7H1118.27V216.1H1122.17V216.9H1126.07V216.8H1129.97V217.0H1133.86V217.0H1137.76V216.7H1141.66V216.4H1145.55V216.1H1149.45V216.9H1153.35V215.5H1157.25V215.6H1161.14V216.7H1165.04V217.2H1168.94V216.1H1172.84V215.1H1176.73V216.6H1180.63V218.1H1184.53V214.9H1188.42V215.3H1192.32V215.2H1196.22V215.5H1200.12V214.8H1204.01V214.7H1207.91V218.7H1211.81V215.1H1215.71V215.0H1219.60V214.6H1223.50V214.3H1227.40V214.2H1231.29V214.2H1235.19V215.1H1239.09V215.3H1242.99V216.6H1246.88V217.4H1250.78V213.9H1254.68V213.7H1258.58V213.7H1262.47V213.9H1266.37V215.8H1270.27V213.4H1274.16V213.9H1278.06V213.7H1281.96V213.5H1285.86V213.8H1289.75V213.1H1293.65V216.2H1297.55V214.2H1301.45V214.4H1305.34V341.5H1309.24V213.5H1313.14V214.4H1317.03V213.5H1320.93V212.7H1324.83V212.1H1328.73V212.6H1332.62V212.5H1336.52V212.9H1340.42V213.5H1344.32V212.4H1348.21V211.5H1352.11V211.4H1356.01V213.1H1359.90V213.1H1363.80V211.5H1367.70V211.0H1371.60V210.9H1375.49V210.9H1379.39V326.2H1383.29V211.0H1387.18V211.0H1391.08V210.3H1394.98V210.4H1398.88V210.7H1402.77V210.7H1406.67V210.3H1410.57V209.8H1414.47V210.1H1418.36V209.5H1422.26V209.7H1426.16V209.7H1430.05V209.3H1433.95V214.3H1437.85V209.9H1441.75V211.1H1445.64V211.0H1449.54V227.5H1453.44V235.4H1457.34V238.3H1461.23V208.4H1465.13V212.7H1469.03V209.0H1472.92V209.3H1476.82V210.1H1480.72V208.2H1484.62V209.0H1488.51V208.5H1492.41V208.1H1496.31V208.1H1500.21V208.3H1504.10V208.3H1508.00V341.5Z" fill="#c6c630" fill-opacity="0.0769"/>
<path d="M85.50,341.5V210.3H89.40V209.8H93.29V286.9H97.19V276.0H101.09V312.0H104.99V209.7H108.88V209.6H112.78V210.3H116.68V209.8H120.58V209.6H124.47V210.1H128.37V209.7H132.27V211.1H136.16V210.1H140.06V274.3H143.96V295.8H147.86V249.1H151.75V235.4H155.65V210.3H159.55V211.2H163.45V211.2H167.34V210.5H171.24V210.5H175.14V237.0H179.03V211.7H182.93V225.5H186.83V260.5H190.73V210.8H194.62V210.9H198.52V212.0H202.42V211.4H206.32V268.5H210.21V261.3H214.11V232.0H218.01V238.9H221.90V231.0H225.80V212.0H229.70V212.1H233.60V213.8H237.49V213.5H241.39V214.1H245.29V214.8H249.18V248.2H253.08V213.3H256.98V214.0H260.88V212.2H264.77V213.3H268.67V248.2H272.57V212.5H276.47V260.5H280.36V213.4H284.26V213.4H288.16V212.5H292.05V214.9H295.95V213.1H299.85V214.2H303.75V213.0H307.64V213.7H311.54V213.0H315.44V213.8H319.34V214.0H323.23V213.6H327.13V214.4H331.03V213.3H334.92V213.4H338.82V213.5H342.72V222.7H346.62V223.4H350.51V214.0H354.41V216.1H358.31V241.1H362.21V213.8H366.10V214.8H370.00V215.0H373.90V215.0H377.79V214.1H381.69V214.1H385.59V233.4H389.49V216.1H393.38V214.8H397.28V216.8H401.18V214.5H405.08V214.6H408.97V214.7H412.87V214.6H416.77V214.7H420.66V214.9H424.56V215.4H428.46V214.9H432.36V215.6H436.25V215.4H440.15V217.2H444.05V215.9H447.95V215.5H451.84V216.4H455.74V215.9H459.64V217.0H463.53V216.3H467.43V218.2H471.33V216.5H475.23V216.9H479.12V216.9H483.02V217.6H486.92V217.5H490.82V217.7H494.71V217.8H498.61V218.3H502.51V217.8H506.40V217.7H510.30V218.1H514.20V218.2H518.10V219.0H521.99V218.3H525.89V220.6H529.79V221.6H533.68V218.9H537.58V220.0H541.48V219.1H545.38V220.7H549.27V221.0H553.17V220.1H557.07V223.5H560.97V220.3H564.86V259.6H568.76V220.5H572.66V220.2H576.55V221.1H580.45V221.2H584.35V221.2H588.25V222.1H592.14V221.1H596.04V221.1H599.94V221.4H603.84V221.7H607.73V221.6H611.63V222.4H615.53V221.9H619.42V222.3H623.32V222.3H627.22V223.0H631.12V222.5H635.01V223.0H638.91V223.3H642.81V223.0H646.71V225.0H650.60V223.6H654.50V224.1H658.40V223.5H662.29V223.6H666.19V224.0H670.09V224.5H673.99V224.0H677.88V224.0H681.78V224.2H685.68V224.5H689.58V224.2H693.47V224.7H697.37V224.9H701.27V224.2H705.16V225.5H709.06V224.3H712.96V225.0H716.86V225.8H720.75V225.2H724.65V224.3H728.55V224.4H732.45V224.4H736.34V224.5H740.24V225.1H744.14V227.4H748.03V224.9H751.93V225.9H755.83V224.8H759.73V341.5H763.62V341.5H767.52V341.5H771.42V225.1H775.32V224.9H779.21V224.9H783.11V224.8H787.01V224.8H790.90V227.1H794.80V225.9H798.70V224.9H802.60V225.5H806.49V225.2H810.39V224.7H814.29V228.5H818.18V224.8H822.08V225.2H825.98V224.8H829.88V225.0H833.77V228.6H837.67V225.6H841.57V224.5H845.47V225.3H849.36V224.7H853.26V224.2H857.16V224.5H861.05V223.9H864.95V225.0H868.85V223.6H872.75V223.2H876.64V224.7H880.54V222.9H884.44V223.7H888.34V224.2H892.23V223.4H896.13V224.8H900.03V221.9H903.92V222.1H907.82V222.5H911.72V221.5H915.62V225.3H919.51V221.2H923.41V222.1H927.31V220.9H931.21V221.5H935.10V220.9H939.00V220.6H942.90V220.5H946.79V220.4H950.69V221.1H954.59V220.3H958.49V222.3H962.38V220.0H966.28V220.1H970.18V221.4H974.08V220.4H977.97V219.4H981.87V220.5H985.77V219.6H989.66V219.2H993.56V222.4H997.46V220.6H1001.36V219.9H1005.25V218.9H1009.15V219.1H1013.05V218.4H1016.95V218.2H1020.84V220.7H1024.74V218.4H1028.64V218.1H1032.53V219.2H1036.43V218.3H1040.33V218.6H1044.23V217.6H1048.12V218.0H1052.02V217.8H1055.92V217.6H1059.82V217.4H1063.71V217.1H1067.61V298.5H1071.51V283.6H1075.40V216.9H1079.30V217.1H1083.20V217.7H1087.10V217.2H1090.99V216.6H1094.89V217.4H1098.79V217.4H1102.68V219.3H1106.58V217.9H1110.48V216.3H1114.38V216.5H1118.27V216.1H1122.17V216.1H1126.07V216.5H1129.97V216.1H1133.86V215.8H1137.76V216.6H1141.66V217.9H1145.55V217.1H1149.45V215.5H1153.35V215.7H1157.25V215.4H1161.14V215.8H1165.04V217.7H1168.94V215.3H1172.84V216.3H1176.73V215.6H1180.63V215.6H1184.53V216.5H1188.42V215.2H1192.32V215.1H1196.22V215.9H1200.12V214.8H1204.01V214.7H1207.91V215.0H1211.81V214.9H1215.71V214.7H1219.60V214.6H1223.50V214.2H1227.40V214.7H1231.29V214.1H1235.19V215.4H1239.09V214.0H1242.99V215.0H1246.88V213.9H1250.78V213.8H1254.68V214.3H1258.58V215.2H1262.47V216.9H1266.37V213.7H1270.27V214.7H1274.16V213.6H1278.06V213.7H1281.96V214.4H1285.86V214.4H1289.75V213.0H1293.65V213.1H1297.55V215.7H1301.45V213.4H1305.34V213.3H1309.24V212.7H1313.14V212.9H1317.03V212.5H1320.93V212.3H1324.83V212.3H1328.73V212.7H1332.62V211.8H1336.52V211.7H1340.42V212.0H1344.32V212.1H1348.21V213.3H1352.11V211.3H1356.01V213.3H1359.90V211.4H1363.80V212.0H1367.70V212.3H1371.60V211.2H1375.49V249.6H1379.39V212.4H1383.29V211.6H1387.18V211.6H1391.08V210.4H1394.98V210.2H1398.88V211.1H1402.77V210.7H1406.67V210.0H1410.57V209.7H1414.47V209.8H1418.36V210.3H1422.26V209.7H1426.16V210.1H1430.05V209.2H1433.95V209.9H1437.85V208.9H1441.75V210.7H1445.64V208.8H1449.54V208.5H1453.44V209.9H1457.34V208.8H1461.23V208.9H1465.13V208.5H1469.03V208.5H1472.92V208.7H1476.82V237.7H1480.72V225.5H1484.62V208.8H1488.51V208.4H1492.41V208.6H1496.31V208.1H1500.21V208.7H1504.10V208.8H1508.00V341.5Z" fill="#c6c630" fill-opacity="0.0769"/>
<path d="M85.50,341.5V341.5H89.40V210.2H93.29V209.2H97.19V220.8H101.09V209.3H104.99V287.0H108.88V210.6H112.78V209.5H116.68V209.6H120.58V210.2H124.47V250.4H128.37V241.1H132.27V209.9H136.16V210.2H140.06V210.3H143.96V290.9H147.86V210.1H151.75V334.8H155.65V210.5H159.55V211.7H163.45V212.0H167.34V210.6H171.24V329.6H175.14V217.7H179.03V211.0H182.93V210.7H186.83V211.1H190.73V211.1H194.62V212.1H198.52V318.1H202.42V322.1H206.32V211.4H210.21V211.1H214.11V214.2H218.01V229.9H221.90V211.9H225.80V211.4H229.70V212.4H233.60V211.7H237.49V212.0H241.39V211.7H245.29V213.0H249.18V213.0H253.08V213.5H256.98V212.5H260.88V212.1H264.77V214.2H268.67V212.3H272.57V234.6H276.47V225.7H280.36V212.4H284.26V212.5H288.16V213.0H292.05V278.9H295.95V306.0H299.85V215.1H303.75V213.5H307.64V213.0H311.54V319.8H315.44V213.1H319.34V213.3H323.23V213.4H327.13V215.2H331.03V213.8H334.92V215.0H338.82V214.2H342.72V214.1H346.62V214.9H350.51V213.8H354.41V214.0H358.31V215.9H362.21V214.6H366.10V214.3H370.00V214.8H373.90V215.3H377.79V215.2H381.69V214.8H385.59V215.1H389.49V214.5H393.38V214.9H397.28V216.3H401.18V214.5H405.08V214.5H408.97V214.8H412.87V214.9H416.77V215.1H420.66V215.1H424.56V215.1H428.46V215.5H432.36V215.2H436.25V216.3H440.15V215.3H444.05V218.3H447.95V228.1H451.84V217.7H455.74V216.8H459.64V217.9H463.53V216.6H467.43V216.6H471.33V217.3H475.23V216.7H479.12V217.2H483.02V217.5H486.92V217.1H490.82V217.1H494.71V217.8H498.61V218.1H502.51V218.6H506.40V219.8H510.30V218.0H514.20V218.2H518.10V218.2H521.99V221.3H525.89V219.0H529.79V218.6H533.68V229.2H537.58V221.3H541.48V219.2H545.38V220.2H549.27V219.4H553.17V341.5H557.07V219.6H560.97V220.7H564.86V220.8H568.76V220.3H572.66V220.8H576.55V220.4H580.45V221.9H584.35V221.2H588.25V220.8H592.14V221.4H596.04V221.6H599.94V221.5H603.84V221.9H607.73V222.6H611.63V222.5H615.53V226.3H619.42V279.3H623.32V323.1H627.22V223.9H631.12V222.6H635.01V223.3H638.91V244.1H642.81V244.3H646.71V223.3H650.60V223.6H654.50V224.1H658.40V224.0H662.29V224.1H666.19V224.2H670.09V227.8H673.99V224.5H677.88V226.3H681.78V228.5H685.68V225.0H689.58V227.5H693.47V231.7H697.37V325.6H701.27V341.5H705.16V225.3H709.06V224.2H712.96V224.5H716.86V224.3H720.75V224.5H724.65V225.0H728.55V224.9H732.45V282.7H736.34V321.3H740.24V299.2H744.14V224.8H748.03V224.5H751.93V224.9H755.83V224.8H759.73V324.3H763.62V313.1H767.52V224.6H771.42V225.0H775.32V225.3H779.21V225.0H783.11V225.7H787.01V224.9H790.90V224.8H794.80V225.7H798.70V225.4H802.60V225.6H806.49V224.7H810.39V226.0H814.29V224.6H818.18V227.3H822.08V224.5H825.98V224.4H829.88V224.7H833.77V225.3H837.67V228.6H841.57V225.4H845.47V225.2H849.36V224.2H853.26V224.0H857.16V224.7H861.05V224.2H864.95V224.1H868.85V223.5H872.75V223.4H876.64V224.9H880.54V223.2H884.44V225.8H888.34V222.6H892.23V222.2H896.13V223.0H900.03V222.9H903.92V223.2H907.82V222.8H911.72V223.0H915.62V221.4H919.51V221.3H923.41V221.2H927.31V221.1H931.21V222.0H935.10V221.4H939.00V221.7H942.90V221.3H946.79V221.1H950.69V220.4H954.59V221.9H958.49V221.3H962.38V221.1H966.28V222.2H970.18V220.1H974.08V220.0H977.97V220.0H981.87V219.7H985.77V219.8H989.66V219.9H993.56V218.9H997.46V219.0H1001.36V219.8H1005.25V218.6H1009.15V218.6H1013.05V218.8H1016.95V219.8H1020.84V218.3H1024.74V219.5H1028.64V218.6H1032.53V218.8H1036.43V218.0H1040.33V220.8H1044.23V218.5H1048.12V217.5H1052.02V218.8H1055.92V217.9H1059.82V218.8H1063.71V218.2H1067.61V220.1H1071.51V219.2H1075.40V217.9H1079.30V218.1H1083.20V216.8H1087.10V218.1H1090.99V217.8H1094.89V219.1H1098.79V216.5H1102.68V217.2H1106.58V217.7H1110.48V217.1H1114.38V216.2H1118.27V219.6H1122.17V216.6H1126.07V216.0H1129.97V215.9H1133.86V216.2H1137.76V216.2H1141.66V216.4H1145.55V215.6H1149.45V216.2H1153.35V218.3H1157.25V216.6H1161.14V216.4H1165.04V215.9H1168.94V217.1H1172.84V215.2H1176.73V216.4H1180.63V216.1H1184.53V215.3H1188.42V215.4H1192.32V214.9H1196.22V214.7H1200.12V215.0H1204.01V214.9H1207.91V215.2H1211.81V214.8H1215.71V214.4H1219.60V214.4H1223.50V215.8H1227.40V214.2H1231.29V214.3H1235.19V215.9H1239.09V214.7H1242.99V214.0H1246.88V215.7H1250.78V214.1H1254.68V214.5H1258.58V214.7H1262.47V213.6H1266.37V214.7H1270.27V215.0H1274.16V214.7H1278.06V213.4H1281.96V213.9H1285.86V213.7H1289.75V212.9H1293.65V213.4H1297.55V214.1H1301.45V213.2H1305.34V212.5H1309.24V213.0H1313.14V213.1H1317.03V213.5H1320.93V213.9H1324.83V212.0H1328.73V212.2H1332.62V212.2H1336.52V213.5H1340.42V213.7H1344.32V211.9H1348.21V301.9H1352.11V300.8H1356.01V212.0H1359.90V214.0H1363.80V211.8H1367.70V213.1H1371.60V211.6H1375.49V211.1H1379.39V303.8H1383.29V210.9H1387.18V211.8H1391.08V211.0H1394.98V210.5H1398.88V210.6H1402.77V212.1H1406.67V210.1H1410.57V209.8H1414.47V211.7H1418.36V209.6H1422.26V209.6H1426.16V209.8H1430.05V210.4H1433.95V212.4H1437.85V209.0H1441.75V208.9H1445.64V213.6H1449.54V257.2H1453.44V210.2H1457.34V208.8H1461.23V208.7H1465.13V210.2H1469.03V208.5H1472.92V208.6H1476.82V208.7H1480.72V208.6H1484.62V208.3H1488.51V208.5H1492.41V208.3H1496.31V208.8H1500.21V299.0H1504.10V208.0H1508.00V341.5Z" fill="#c6c630" fill-opacity="0.0769"/>
<path d="M85.50,341.5V265.5H89.40V209.2H93.29V267.4H97.19V276.8H101.09V265.0H104.99V210.5H108.88V209.6H112.78V210.1H116.68V212.7H120.58V211.2H124.47V241.1H128.37V238.2H132.27V238.1H136.16V210.1H140.06V210.1H143.96V210.0H147.86V210.3H151.75V210.7H155.65V210.8H159.55V210.4H163.45V210.3H167.34V238.6H171.24V239.4H175.14V247.1H179.03V212.1H182.93V210.7H186.83V213.6H190.73V211.4H194.62V212.6H198.52V211.8H202.42V211.0H206.32V211.1H210.21V211.9H214.11V212.2H218.01V212.2H221.90V211.9H225.80V212.2H229.70V212.4H233.60V271.4H237.49V211.8H241.39V243.1H245.29V244.2H249.18V212.2H253.08V212.5H256.98V236.4H260.88V212.1H264.77V213.5H268.67V212.8H272.57V214.1H276.47V212.4H280.36V212.5H284.26V212.6H288.16V214.4H292.05V213.3H295.95V283.9H299.85V285.4H303.75V212.9H307.64V214.1H311.54V213.0H315.44V215.2H319.34V213.7H323.23V216.1H327.13V214.1H331.03V214.1H334.92V213.5H338.82V214.3H342.72V289.2H346.62V214.4H350.51V214.7H354.41V328.4H358.31V214.8H362.21V214.7H366.10V214.6H370.00V214.5H373.90V215.1H377.79V215.7H381.69V215.3H385.59V214.3H389.49V214.3H393.38V214.3H397.28V215.1H401.18V216.7H405.08V341.5H408.97V216.6H412.87V215.5H416.77V215.9H420.66V216.5H424.56V215.0H428.46V215.2H432.36V215.0H436.25V216.0H440.15V217.5H444.05V215.4H447.95V215.6H451.84V215.9H455.74V217.2H459.64V216.4H463.53V216.3H467.43V216.7H471.33V216.7H475.23V216.8H479.12V216.7H483.02V217.8H486.92V217.2H490.82V217.9H494.71V217.3H498.61V220.7H502.51V217.7H506.40V218.5H510.30V223.1H514.20V218.4H518.10V218.5H521.99V219.5H525.89V218.5H529.79V218.9H533.68V219.5H537.58V220.5H541.48V286.5H545.38V219.4H549.27V220.3H553.17V219.5H557.07V219.8H560.97V220.7H564.86V220.6H568.76V221.1H572.66V234.5H576.55V229.9H580.45V220.8H584.35V221.1H588.25V222.5H592.14V221.4H596.04V221.5H599.94V222.5H603.84V221.6H607.73V221.9H611.63V222.5H615.53V222.3H619.42V222.9H623.32V223.0H627.22V222.5H631.12V222.6H635.01V224.0H638.91V223.3H642.81V223.1H646.71V223.1H650.60V223.7H654.50V225.0H658.40V223.7H662.29V228.4H666.19V223.8H670.09V266.3H673.99V225.1H677.88V224.7H681.78V224.3H685.68V224.4H689.58V224.1H693.47V226.2H697.37V224.7H701.27V224.6H705.16V224.7H709.06V341.5H712.96V341.5H716.86V224.6H720.75V224.5H724.65V226.4H728.55V224.5H732.45V226.0H736.34V297.6H740.24V227.3H744.14V224.8H748.03V226.2H751.93V224.5H755.83V225.9H759.73V224.9H763.62V224.6H767.52V226.1H771.42V225.6H775.32V225.2H779.21V224.7H783.11V226.0H787.01V225.3H790.90V225.0H794.80V225.2H798.70V226.2H802.60V224.8H806.49V225.0H810.39V225.8H814.29V225.4H818.18V225.0H822.08V224.6H825.98V224.5H829.88V224.9H833.77V225.4H837.67V224.6H841.57V226.4H845.47V225.1H849.36V224.7H853.26V225.2H857.16V223.8H861.05V225.6H864.95V223.9H868.85V223.3H872.75V226.6H876.64V222.9H880.54V224.9H884.44V222.7H888.34V222.6H892.23V222.8H896.13V224.1H900.03V222.0H903.92V222.4H907.82V222.8H911.72V221.9H915.62V221.3H919.51V223.6H923.41V221.8H927.31V222.0H931.21V220.8H935.10V341.5H939.00V341.5H942.90V220.8H946.79V221.1H950.69V220.4H954.59V220.5H958.49V221.5H962.38V222.9H966.28V220.1H970.18V220.9H974.08V220.2H977.97V220.5H981.87V219.7H985.77V219.5H989.66V219.0H993.56V219.5H997.46V218.8H1001.36V220.4H1005.25V218.8H1009.15V218.4H1013.05V219.0H1016.95V218.6H1020.84V220.7H1024.74V219.7H1028.64V219.0H1032.53V217.9H1036.43V218.2H1040.33V218.5H1044.23V217.5H1048.12V218.5H1052.02V218.9H1055.92V220.0H1059.82V217.8H1063.71V217.2H1067.61V217.3H1071.51V218.5H1075.40V217.1H1079.30V217.7H1083.20V217.7H1087.10V217.2H1090.99V218.0H1094.89V216.7H1098.79V217.3H1102.68V216.8H1106.58V216.3H1110.48V216.7H1114.38V216.3H1118.27V216.5H1122.17V216.7H1126.07V216.0H1129.97V217.6H1133.86V216.7H1137.76V216.0H1141.66V216.5H1145.55V219.3H1149.45V215.5H1153.35V215.9H1157.25V216.4H1161.14V215.3H1165.04V216.3H1168.94V215.4H1172.84V215.1H1176.73V215.4H1180.63V215.5H1184.53V216.5H1188.42V214.9H1192.32V214.8H1196.22V214.8H1200.12V233.8H1204.01V238.5H1207.91V214.5H1211.81V214.9H1215.71V216.8H1219.60V217.0H1223.50V214.3H1227.40V214.4H1231.29V214.6H1235.19V231.2H1239.09V216.7H1242.99V214.8H1246.88V214.2H1250.78V214.6H1254.68V214.7H1258.58V215.4H1262.47V215.6H1266.37V214.0H1270.27V214.7H1274.16V216.6H1278.06V213.9H1281.96V214.3H1285.86V213.0H1289.75V213.4H1293.65V212.8H1297.55V212.7H1301.45V212.6H1305.34V212.9H1309.24V213.2H1313.14V213.3H1317.03V213.4H1320.93V212.1H1324.83V212.8H1328.73V212.6H1332.62V212.7H1336.52V212.8H1340.42V213.3H1344.32V211.8H1348.21V213.2H1352.11V211.5H1356.01V211.3H1359.90V212.6H1363.80V211.0H1367.70V212.6H1371.60V211.2H1375.49V211.1H1379.39V212.5H1383.29V211.8H1387.18V210.4H1391.08V212.9H1394.98V210.4H1398.88V211.0H1402.77V212.5H1406.67V211.5H1410.57V210.3H1414.47V212.2H1418.36V210.5H1422.26V209.6H1426.16V212.2H1430.05V209.8H1433.95V209.3H1437.85V209.3H1441.75V208.9H1445.64V209.3H1449.54V270.6H1453.44V208.6H1457.34V208.4H1461.23V208.7H1465.13V210.4H1469.03V208.5H1472.92V209.1H1476.82V209.2H1480.72V209.1H1484.62V208.6H1488.51V208.4H1492.41V208.1H1496.31V208.3H1500.21V313.9H1504.10V298.7H1508.00V341.5Z" fill="#c6c630" fill-opacity="0.0769"/>
<path d="M85.50,341.5V209.3H89.40V209.8H93.29V209.5H97.19V215.3H101.09V218.3H104.99V209.9H108.88V213.8H112.78V209.5H116.68V209.9H120.58V210.4H124.47V210.1H128.37V210.0H132.27V210.2H136.16V336.5H140.06V341.5H143.96V210.1H147.86V210.2H151.75V211.4H155.65V210.4H159.55V210.4H163.45V210.6H167.34V212.3H171.24V213.0H175.14V213.0H179.03V210.9H182.93V212.8H186.83V220.2H190.73V211.4H194.62V274.1H198.52V211.4H202.42V214.4H206.32V212.3H210.21V211.7H214.11V212.4H218.01V212.5H221.90V211.4H225.80V211.7H229.70V245.6H233.60V233.9H237.49V231.8H241.39V214.3H245.29V316.9H249.18V211.8H253.08V338.6H256.98V212.0H260.88V212.0H264.77V212.2H268.67V212.6H272.57V212.3H276.47V213.0H280.36V214.5H284.26V213.9H288.16V212.6H292.05V212.9H295.95V214.0H299.85V213.1H303.75V214.4H307.64V281.9H311.54V271.6H315.44V214.2H319.34V213.1H323.23V213.4H327.13V214.7H331.03V214.0H334.92V214.5H338.82V213.4H342.72V233.3H346.62V213.6H350.51V214.4H354.41V215.1H358.31V214.2H362.21V215.1H366.10V213.9H370.00V214.0H373.90V215.1H377.79V218.0H381.69V214.5H385.59V214.2H389.49V214.6H393.38V250.7H397.28V214.8H401.18V214.9H405.08V214.5H408.97V277.4H412.87V278.8H416.77V214.7H420.66V216.6H424.56V214.8H428.46V217.7H432.36V216.6H436.25V341.1H440.15V215.5H444.05V216.7H447.95V275.3H451.84V215.7H455.74V216.2H459.64V217.5H463.53V216.7H467.43V220.0H471.33V217.6H475.23V218.5H479.12V218.8H483.02V217.6H486.92V219.0H490.82V218.0H494.71V217.3H498.61V217.4H502.51V218.6H506.40V218.8H510.30V221.9H514.20V218.9H518.10V218.2H521.99V219.3H525.89V289.5H529.79V289.5H533.68V261.3H537.58V220.1H541.48V219.0H545.38V341.5H549.27V341.5H553.17V220.7H557.07V224.3H560.97V221.2H564.86V223.5H568.76V220.6H572.66V243.9H576.55V221.1H580.45V220.5H584.35V220.7H588.25V315.2H592.14V222.8H596.04V222.1H599.94V221.8H603.84V221.4H607.73V221.6H611.63V222.2H615.53V222.5H619.42V225.7H623.32V222.9H627.22V223.1H631.12V223.0H635.01V222.6H638.91V223.1H642.81V223.9H646.71V309.4H650.60V225.9H654.50V223.3H658.40V224.5H662.29V225.1H666.19V225.1H670.09V224.0H673.99V226.0H677.88V225.3H681.78V303.1H685.68V224.2H689.58V341.5H693.47V295.8H697.37V273.0H701.27V224.4H705.16V225.0H709.06V224.4H712.96V224.3H716.86V224.3H720.75V224.3H724.65V225.0H728.55V224.5H732.45V224.8H736.34V224.5H740.24V224.7H744.14V224.5H748.03V225.5H751.93V225.9H755.83V225.2H759.73V225.6H763.62V224.8H767.52V226.8H771.42V225.5H775.32V224.8H779.21V225.4H783.11V225.3H787.01V226.6H790.90V226.0H794.80V224.9H798.70V225.7H802.60V224.7H806.49V225.3H810.39V226.2H814.29V224.8H818.18V225.5H822.08V225.0H825.98V224.6H829.88V224.4H833.77V224.4H837.67V224.3H841.57V224.3H845.47V224.6H849.36V225.3H853.26V224.0H857.16V224.4H861.05V223.6H864.95V223.5H868.85V223.5H872.75V224.5H876.64V223.1H880.54V223.5H884.44V222.6H888.34V222.8H892.23V223.2H896.13V223.1H900.03V221.9H903.92V221.9H907.82V221.8H911.72V221.7H915.62V221.7H919.51V222.6H923.41V221.1H927.31V221.2H931.21V221.4H935.10V220.7H939.00V221.9H942.90V220.6H946.79V221.0H950.69V221.2H954.59V220.6H958.49V221.7H962.38V219.9H966.28V219.8H970.18V299.5H974.08V223.1H977.97V219.4H981.87V220.4H985.77V219.5H989.66V220.3H993.56V219.6H997.46V220.2H1001.36V218.8H1005.25V220.8H1009.15V218.9H1013.05V296.2H1016.95V218.2H1020.84V316.5H1024.74V218.3H1028.64V218.0H1032.53V218.1H1036.43V218.7H1040.33V219.9H1044.23V218.1H1048.12V217.8H1052.02V217.4H1055.92V218.5H1059.82V217.8H1063.71V218.1H1067.61V217.1H1071.51V217.6H1075.40V217.4H1079.30V217.1H1083.20V216.8H1087.10V216.9H1090.99V218.1H1094.89V217.8H1098.79V217.0H1102.68V218.3H1106.58V216.5H1110.48V216.2H1114.38V217.5H1118.27V216.1H1122.17V217.8H1126.07V215.9H1129.97V216.4H1133.86V215.8H1137.76V216.5H1141.66V216.2H1145.55V215.6H1149.45V216.0H1153.35V215.4H1157.25V216.0H1161.14V215.5H1165.04V217.4H1168.94V215.7H1172.84V215.3H1176.73V215.8H1180.63V215.1H1184.53V215.8H1188.42V215.8H1192.32V215.0H1196.22V215.0H1200.12V215.4H1204.01V214.6H1207.91V216.1H1211.81V215.6H1215.71V214.5H1219.60V215.1H1223.50V215.0H1227.40V214.6H1231.29V215.1H1235.19V214.6H1239.09V214.5H1242.99V214.4H1246.88V214.6H1250.78V213.8H1254.68V214.5H1258.58V213.8H1262.47V226.5H1266.37V229.3H1270.27V215.0H1274.16V213.6H1278.06V214.1H1281.96V213.4H1285.86V217.9H1289.75V216.6H1293.65V213.2H1297.55V214.9H1301.45V214.8H1305.34V212.7H1309.24V212.9H1313.14V212.5H1317.03V212.5H1320.93V212.8H1324.83V212.7H1328.73V212.5H1332.62V212.0H1336.52V212.4H1340.42V214.3H1344.32V211.9H1348.21V212.5H1352.11V211.6H1356.01V212.5H1359.90V211.9H1363.80V213.3H1367.70V210.9H1371.60V211.8H1375.49V210.7H1379.39V240.2H1383.29V210.9H1387.18V212.5H1391.08V210.6H1394.98V210.2H1398.88V210.1H1402.77V212.9H1406.67V211.3H1410.57V210.7H1414.47V210.2H1418.36V209.8H1422.26V209.8H1426.16V209.2H1430.05V209.7H1433.95V211.0H1437.85V208.8H1441.75V210.5H1445.64V208.9H1449.54V208.6H1453.44V208.6H1457.34V208.7H1461.23V210.6H1465.13V209.8H1469.03V208.3H1472.92V208.6H1476.82V208.3H1480.72V208.6H1484.62V209.2H1488.51V208.2H1492.41V208.8H1496.31V208.5H1500.21V208.1H1504.10V208.9H1508.00V341.5Z" fill="#c6c630" fill-opacity="0.0769"/>
<path d="M85.50,341.5V209.0H89.40V209.4H93.29V210.7H97.19V211.2H101.09V209.9H104.99V210.9H108.88V209.6H112.78V210.0H116.68V209.6H120.58V209.6H124.47V210.4H128.37V211.5H132.27V210.0H136.16V209.9H140.06V210.9H143.96V211.0H147.86V224.5H151.75V240.5H155.65V233.9H159.55V233.0H163.45V231.0H167.34V249.0H171.24V210.5H175.14V210.5H179.03V210.8H182.93V212.0H186.83V265.2H190.73V210.9H194.62V212.1H198.52V211.0H202.42V211.9H206.32V211.1H210.21V211.9H214.11V211.7H218.01V211.9H221.90V212.6H225.80V212.6H229.70V211.5H233.60V211.7H237.49V215.2H241.39V212.2H245.29V211.8H249.18V251.5H253.08V211.9H256.98V258.4H260.88V213.4H264.77V212.2H268.67V212.2H272.57V213.5H276.47V244.7H280.36V244.5H284.26V242.4H288.16V213.7H292.05V214.2H295.95V328.9H299.85V285.1H303.75V212.8H307.64V235.8H311.54V215.1H315.44V251.1H319.34V213.3H323.23V214.6H327.13V213.2H331.03V213.7H334.92V248.5H338.82V214.1H342.72V213.7H346.62V215.3H350.51V215.2H354.41V214.0H358.31V341.5H362.21V341.5H366.10V213.9H370.00V214.1H373.90V214.0H377.79V234.2H381.69V214.3H385.59V214.2H389.49V214.6H393.38V214.4H397.28V215.3H401.18V214.5H405.08V215.0H408.97V216.5H412.87V284.8H416.77V266.4H420.66V255.3H424.56V248.4H428.46V250.3H432.36V245.3H436.25V215.2H440.15V341.5H444.05V341.5H447.95V341.5H451.84V215.7H455.74V216.4H459.64V216.4H463.53V217.4H467.43V216.3H471.33V218.9H475.23V216.5H479.12V217.9H483.02V217.4H486.92V217.7H490.82V219.4H494.71V218.5H498.61V218.7H502.51V217.6H506.40V259.6H510.30V256.7H514.20V219.6H518.10V219.4H521.99V218.7H525.89V219.7H529.79V225.9H533.68V218.8H537.58V220.8H541.48V222.4H545.38V219.7H549.27V219.3H553.17V219.7H557.07V222.1H560.97V219.8H564.86V220.9H568.76V221.6H572.66V220.8H576.55V223.2H580.45V221.0H584.35V222.0H588.25V221.1H592.14V221.6H596.04V222.2H599.94V221.6H603.84V223.1H607.73V221.6H611.63V222.1H615.53V222.5H619.42V222.1H623.32V222.2H627.22V223.2H631.12V222.6H635.01V226.1H638.91V222.9H642.81V223.6H646.71V223.1H650.60V223.5H654.50V224.8H658.40V224.0H662.29V225.4H666.19V225.3H670.09V224.4H673.99V224.2H677.88V225.5H681.78V226.3H685.68V224.3H689.58V224.2H693.47V225.8H697.37V225.0H701.27V224.5H705.16V224.4H709.06V224.9H712.96V226.6H716.86V224.5H720.75V225.5H724.65V224.6H728.55V225.2H732.45V224.9H736.34V224.4H740.24V224.6H744.14V224.5H748.03V228.3H751.93V225.1H755.83V225.0H759.73V226.0H763.62V224.8H767.52V224.7H771.42V225.8H775.32V225.4H779.21V225.6H783.11V224.8H787.01V226.6H790.90V225.8H794.80V224.9H798.70V225.7H802.60V228.2H806.49V224.9H810.39V227.2H814.29V227.5H818.18V226.2H822.08V225.1H825.98V225.0H829.88V224.8H833.77V225.7H837.67V224.5H841.57V225.0H845.47V224.9H849.36V226.6H853.26V226.1H857.16V224.4H861.05V223.6H864.95V224.6H868.85V224.0H872.75V223.4H876.64V223.1H880.54V222.8H884.44V223.1H888.34V222.7H892.23V222.6H896.13V222.1H900.03V222.6H903.92V221.7H907.82V221.7H911.72V222.7H915.62V221.4H919.51V222.3H923.41V221.7H927.31V221.2H931.21V221.6H935.10V221.4H939.00V222.8H942.90V223.5H946.79V220.3H950.69V220.6H954.59V220.1H958.49V220.1H962.38V220.5H966.28V219.8H970.18V219.9H974.08V220.8H977.97V220.7H981.87V219.9H985.77V222.1H989.66V219.2H993.56V219.3H997.46V219.6H1001.36V219.2H1005.25V219.5H1009.15V218.5H1013.05V219.5H1016.95V218.4H1020.84V218.1H1024.74V218.1H1028.64V217.8H1032.53V217.8H1036.43V221.1H1040.33V218.0H1044.23V217.8H1048.12V217.8H1052.02V218.0H1055.92V217.3H1059.82V218.5H1063.71V218.4H1067.61V218.0H1071.51V219.1H1075.40V218.1H1079.30V217.0H1083.20V217.0H1087.10V217.3H1090.99V216.9H1094.89V217.0H1098.79V217.0H1102.68V217.8H1106.58V217.0H1110.48V217.9H1114.38V217.0H1118.27V216.1H1122.17V220.0H1126.07V216.1H1129.97V215.9H1133.86V215.8H1137.76V216.4H1141.66V216.6H1145.55V215.9H1149.45V217.9H1153.35V215.6H1157.25V218.0H1161.14V216.7H1165.04V215.4H1168.94V215.2H1172.84V215.1H1176.73V215.8H1180.63V215.2H1184.53V218.1H1188.42V214.9H1192.32V216.2H1196.22V215.1H1200.12V214.6H1204.01V215.8H1207.91V215.3H1211.81V214.7H1215.71V214.8H1219.60V214.5H1223.50V214.4H1227.40V214.9H1231.29V214.8H1235.19V214.3H1239.09V214.3H1242.99V218.9H1246.88V214.2H1250.78V214.4H1254.68V213.9H1258.58V213.7H1262.47V214.4H1266.37V213.5H1270.27V214.7H1274.16V213.6H1278.06V213.7H1281.96V214.1H1285.86V214.1H1289.75V213.3H1293.65V214.0H1297.55V213.5H1301.45V214.2H1305.34V213.8H1309.24V214.0H1313.14V212.6H1317.03V212.3H1320.93V212.1H1324.83V212.4H1328.73V212.4H1332.62V212.1H1336.52V211.9H1340.42V211.6H1344.32V211.9H1348.21V211.5H1352.11V283.6H1356.01V320.9H1359.90V297.8H1363.80V211.7H1367.70V211.1H1371.60V211.2H1375.49V211.5H1379.39V210.7H1383.29V211.2H1387.18V211.6H1391.08V210.5H1394.98V210.8H1398.88V212.1H1402.77V211.0H1406.67V210.3H1410.57V209.7H1414.47V212.0H1418.36V209.4H1422.26V210.7H1426.16V209.4H1430.05V209.9H1433.95V210.4H1437.85V209.5H1441.75V211.9H1445.64V208.6H1449.54V208.5H1453.44V208.8H1457.34V213.3H1461.23V211.9H1465.13V319.4H1469.03V208.5H1472.92V208.5H1476.82V209.1H1480.72V208.3H1484.62V210.2H1488.51V208.8H1492.41V209.3H1496.31V208.9H1500.21V208.5H1504.10V210.1H1508.00V341.5Z" fill="#c6c630" fill-opacity="0.0769"/>
<path d="M85.50,341.5V353.2H89.40V357.0H93.29V401.1H97.19V412.1H101.09V409.6H104.99V391.1H108.88V350.6H112.78V362.9H116.68V358.1H120.58V458.2H124.47V365.2H128.37V357.4H132.27V373.1H136.16V356.6H140.06V341.5H143.96V341.5H147.86V344.3H151.75V344.6H155.65V345.7H159.55V346.7H163.45V346.1H167.34V345.8H171.24V359.0H175.14V350.5H179.03V341.5H182.93V341.5H186.83V341.5H190.73V341.5H194.62V341.5H198.52V341.5H202.42V346.2H206.32V346.1H210.21V345.0H214.11V378.5H218.01V407.4H221.90V354.0H225.80V375.6H229.70V341.5H233.60V341.5H237.49V348.6H241.39V346.7H245.29V346.0H249.18V365.2H253.08V367.8H256.98V378.1H260.88V371.7H264.77V360.9H268.67V395.3H272.57V395.7H276.47V345.6H280.36V343.4H284.26V390.8H288.16V386.9H292.05V371.8H295.95V391.7H299.85V341.5H303.75V343.7H307.64V344.1H311.54V343.8H315.44V344.0H319.34V348.8H323.23V352.0H327.13V341.5H331.03V341.5H334.92V352.7H338.82V362.4H342.72V351.5H346.62V350.8H350.51V351.1H354.41V351.9H358.31V368.4H362.21V370.0H366.10V347.8H370.00V349.4H373.90V347.3H377.79V352.8H381.69V420.2H385.59V392.9H389.49V343.3H393.38V343.2H397.28V343.5H401.18V353.1H405.08V349.8H408.97V354.1H412.87V341.5H416.77V341.5H420.66V341.5H424.56V418.8H428.46V416.8H432.36V412.8H436.25V349.5H440.15V351.8H444.05V350.2H447.95V351.4H451.84V341.5H455.74V341.5H459.64V341.5H463.53V341.5H467.43V352.7H471.33V370.4H475.23V376.9H479.12V360.1H483.02V360.8H486.92V353.7H490.82V361.8H494.71V367.7H498.61V371.6H502.51V358.8H506.40V360.6H510.30V377.6H514.20V384.9H518.10V355.7H521.99V341.5H525.89V341.5H529.79V341.5H533.68V354.2H537.58V356.1H541.48V441.1H545.38V422.7H549.27V470.7H553.17V341.5H557.07V341.5H560.97V341.5H564.86V341.5H568.76V410.3H572.66V389.0H576.55V343.1H580.45V344.1H584.35V343.9H588.25V343.3H592.14V347.7H596.04V347.0H599.94V341.5H603.84V341.5H607.73V355.7H611.63V359.3H615.53V347.3H619.42V347.7H623.32V435.3H627.22V435.2H631.12V407.8H635.01V443.2H638.91V384.2H642.81V371.8H646.71V371.2H650.60V359.2H654.50V361.7H658.40V366.8H662.29V350.0H666.19V346.3H670.09V343.7H673.99V344.4H677.88V344.0H681.78V346.0H685.68V344.9H689.58V341.5H693.47V341.5H697.37V341.5H701.27V361.1H705.16V356.9H709.06V363.0H712.96V345.4H716.86V345.5H720.75V348.0H724.65V341.5H728.55V341.5H732.45V373.7H736.34V368.0H740.24V358.0H744.14V346.1H748.03V346.0H751.93V346.9H755.83V345.8H759.73V356.2H763.62V358.3H767.52V370.0H771.42V368.3H775.32V341.5H779.21V341.5H783.11V341.5H787.01V341.5H790.90V341.5H794.80V346.6H798.70V346.3H802.60V341.5H806.49V345.3H810.39V343.8H814.29V345.4H818.18V341.5H822.08V341.5H825.98V347.9H829.88V347.7H833.77V349.0H837.67V344.8H841.57V347.4H845.47V350.0H849.36V346.5H853.26V349.3H857.16V344.4H861.05V345.9H864.95V347.0H868.85V341.5H872.75V341.5H876.64V341.5H880.54V341.5H884.44V341.5H888.34V341.5H892.23V341.5H896.13V341.5H900.03V341.5H903.92V353.8H907.82V354.7H911.72V365.9H915.62V357.2H919.51V356.4H923.41V347.7H927.31V347.0H931.21V341.5H935.10V341.5H939.00V341.5H942.90V341.5H946.79V344.5H950.69V345.8H954.59V341.5H958.49V341.5H962.38V341.5H966.28V341.5H970.18V349.5H974.08V349.2H977.97V346.2H981.87V349.9H985.77V348.1H989.66V347.4H993.56V344.1H997.46V343.0H1001.36V343.7H1005.25V344.3H1009.15V344.4H1013.05V346.6H1016.95V346.7H1020.84V341.5H1024.74V341.5H1028.64V341.5H1032.53V341.5H1036.43V341.5H1040.33V341.5H1044.23V341.5H1048.12V345.1H1052.02V343.4H1055.92V345.3H1059.82V341.5H1063.71V341.5H1067.61V341.5H1071.51V341.5H1075.40V341.5H1079.30V346.7H1083.20V347.3H1087.10V355.7H1090.99V359.8H1094.89V351.3H1098.79V359.3H1102.68V367.4H1106.58V366.5H1110.48V341.5H1114.38V349.0H1118.27V350.3H1122.17V347.7H1126.07V349.0H1129.97V341.5H1133.86V341.5H1137.76V341.5H1141.66V341.5H1145.55V341.5H1149.45V341.5H1153.35V364.5H1157.25V341.5H1161.14V341.5H1165.04V341.5H1168.94V341.5H1172.84V341.5H1176.73V379.4H1180.63V341.5H1184.53V341.5H1188.42V341.5H1192.32V341.5H1196.22V341.5H1200.12V341.5H1204.01V341.5H1207.91V341.5H1211.81V345.1H1215.71V344.0H1219.60V344.1H1223.50V345.4H1227.40V344.0H1231.29V344.7H1235.19V341.5H1239.09V341.5H1242.99V341.5H1246.88V341.5H1250.78V341.5H1254.68V341.5H1258.58V341.5H1262.47V341.5H1266.37V341.5H1270.27V341.5H1274.16V368.3H1278.06V380.7H1281.96V341.5H1285.86V341.5H1289.75V341.5H1293.65V341.5H1297.55V341.5H1301.45V341.5H1305.34V351.4H1309.24V352.8H1313.14V361.6H1317.03V354.3H1320.93V347.3H1324.83V352.5H1328.73V352.7H1332.62V442.3H1336.52V341.5H1340.42V341.5H1344.32V341.5H1348.21V349.3H1352.11V345.9H1356.01V346.2H1359.90V378.3H1363.80V363.5H1367.70V377.3H1371.60V375.6H1375.49V398.8H1379.39V377.6H1383.29V391.2H1387.18V401.4H1391.08V345.9H1394.98V345.4H1398.88V344.5H1402.77V354.4H1406.67V355.5H1410.57V355.2H1414.47V346.1H1418.36V348.4H1422.26V341.5H1426.16V341.5H1430.05V344.4H1433.95V344.9H1437.85V345.4H1441.75V343.0H1445.64V343.5H1449.54V343.0H1453.44V345.9H1457.34V346.9H1461.23V343.7H1465.13V343.6H1469.03V350.5H1472.92V351.5H1476.82V423.8H1480.72V418.6H1484.62V437.1H1488.51V425.9H1492.41V343.7H1496.31V344.5H1500.21V341.5H1504.10V341.5H1508.00V341.5Z" fill="#1c74ba" fill-opacity="0.083"/>
<path d="M85.50,341.5V364.3H89.40V363.5H93.29V361.2H97.19V361.4H101.09V341.5H104.99V493.3H108.88V595.4H112.78V467.4H116.68V495.3H120.58V365.0H124.47V372.4H128.37V368.8H132.27V350.6H136.16V356.7H140.06V369.6H143.96V345.3H147.86V344.1H151.75V344.7H155.65V343.4H159.55V341.5H163.45V341.5H167.34V341.5H171.24V341.5H175.14V451.5H179.03V374.8H182.93V375.6H186.83V375.6H190.73V344.5H194.62V344.4H198.52V343.8H202.42V350.5H206.32V350.5H210.21V352.5H214.11V355.1H218.01V350.4H221.90V343.8H225.80V343.9H229.70V344.9H233.60V341.5H237.49V341.5H241.39V391.8H245.29V368.4H249.18V354.3H253.08V355.8H256.98V352.4H260.88V377.4H264.77V362.2H268.67V363.5H272.57V343.1H276.47V344.3H280.36V368.1H284.26V347.5H288.16V344.6H292.05V344.6H295.95V344.9H299.85V347.5H303.75V525.3H307.64V466.3H311.54V437.7H315.44V438.7H319.34V366.6H323.23V360.0H327.13V369.7H331.03V344.6H334.92V345.3H338.82V346.0H342.72V358.7H346.62V370.5H350.51V376.5H354.41V363.5H358.31V365.5H362.21V376.6H366.10V370.2H370.00V374.8H373.90V377.2H377.79V344.6H381.69V343.9H385.59V345.1H389.49V344.6H393.38V346.3H397.28V345.3H401.18V344.3H405.08V382.5H408.97V390.6H412.87V431.1H416.77V567.4H420.66V469.5H424.56V499.3H428.46V461.0H432.36V341.5H436.25V341.5H440.15V341.5H444.05V376.8H447.95V387.4H451.84V350.7H455.74V350.3H459.64V345.0H463.53V343.8H467.43V345.5H471.33V373.1H475.23V377.8H479.12V375.3H483.02V401.3H486.92V341.5H490.82V346.8H494.71V347.1H498.61V346.1H502.51V364.2H506.40V360.4H510.30V358.5H514.20V367.6H518.10V345.2H521.99V344.2H525.89V346.7H529.79V349.3H533.68V344.4H537.58V345.8H541.48V345.6H545.38V344.2H549.27V343.5H553.17V361.8H557.07V351.8H560.97V354.6H564.86V349.0H568.76V348.5H572.66V358.1H576.55V362.3H580.45V341.5H584.35V341.5H588.25V407.5H592.14V410.2H596.04V390.7H599.94V349.7H603.84V469.9H607.73V458.0H611.63V415.9H615.53V406.3H619.42V382.8H623.32V350.4H627.22V347.6H631.12V350.3H635.01V346.9H638.91V346.3H642.81V341.5H646.71V341.5H650.60V354.4H654.50V363.8H658.40V454.1H662.29V423.0H666.19V373.4H670.09V363.6H673.99V346.1H677.88V344.9H681.78V345.4H685.68V376.5H689.58V387.4H693.47V385.7H697.37V372.0H701.27V351.4H705.16V365.4H709.06V437.9H712.96V393.9H716.86V523.2H720.75V511.2H724.65V460.4H728.55V361.5H732.45V350.9H736.34V345.0H740.24V347.2H744.14V372.9H748.03V370.4H751.93V341.5H755.83V341.5H759.73V341.5H763.62V360.7H767.52V353.8H771.42V350.5H775.32V351.5H779.21V351.9H783.11V350.0H787.01V396.5H790.90V389.6H794.80V389.3H798.70V414.8H802.60V353.8H806.49V348.3H810.39V346.0H814.29V346.1H818.18V348.0H822.08V347.4H825.98V349.9H829.88V346.6H833.77V353.8H837.67V353.3H841.57V350.9H845.47V341.5H849.36V350.4H853.26V349.6H857.16V348.4H861.05V348.4H864.95V362.7H868.85V345.0H872.75V343.5H876.64V345.1H880.54V347.1H884.44V346.0H888.34V341.5H892.23V341.5H896.13V344.8H900.03V345.6H903.92V346.4H907.82V345.6H911.72V344.1H915.62V341.5H919.51V341.5H923.41V341.5H927.31V341.5H931.21V372.2H935.10V383.1H939.00V376.8H942.90V341.5H946.79V341.5H950.69V341.5H954.59V341.5H958.49V341.5H962.38V341.5H966.28V341.5H970.18V351.4H974.08V350.5H977.97V357.6H981.87V341.5H985.77V341.5H989.66V341.5H993.56V359.7H997.46V362.2H1001.36V357.0H1005.25V358.1H1009.15V341.5H1013.05V341.5H1016.95V341.5H1020.84V341.5H1024.74V341.5H1028.64V341.5H1032.53V341.5H1036.43V341.5H1040.33V341.5H1044.23V341.5H1048.12V341.5H1052.02V341.5H1055.92V368.6H1059.82V395.0H1063.71V396.4H1067.61V367.1H1071.51V341.5H1075.40V341.5H1079.30V341.5H1083.20V369.3H1087.10V364.5H1090.99V363.2H1094.89V341.5H1098.79V341.5H1102.68V341.5H1106.58V341.5H1110.48V343.6H1114.38V345.0H1118.27V352.9H1122.17V341.5H1126.07V341.5H1129.97V341.5H1133.86V341.5H1137.76V341.5H1141.66V341.5H1145.55V341.5H1149.45V341.5H1153.35V341.5H1157.25V355.7H1161.14V353.4H1165.04V351.9H1168.94V352.9H1172.84V343.9H1176.73V344.7H1180.63V341.5H1184.53V341.5H1188.42V354.7H1192.32V349.9H1196.22V342.7H1200.12V343.2H1204.01V343.7H1207.91V343.2H1211.81V348.9H1215.71V348.8H1219.60V344.5H1223.50V345.5H1227.40V345.3H1231.29V344.7H1235.19V341.5H1239.09V341.5H1242.99V341.5H1246.88V341.5H1250.78V341.5H1254.68V341.5H1258.58V341.5H1262.47V341.5H1266.37V341.5H1270.27V341.5H1274.16V341.5H1278.06V341.5H1281.96V341.5H1285.86V348.5H1289.75V350.0H1293.65V353.4H1297.55V355.5H1301.45V351.0H1305.34V355.2H1309.24V424.3H1313.14V427.3H1317.03V341.5H1320.93V341.5H1324.83V341.5H1328.73V341.5H1332.62V341.5H1336.52V341.5H1340.42V341.5H1344.32V341.5H1348.21V341.5H1352.11V341.5H1356.01V341.5H1359.90V353.8H1363.80V352.9H1367.70V350.8H1371.60V353.9H1375.49V349.2H1379.39V349.8H1383.29V351.8H1387.18V356.0H1391.08V351.8H1394.98V341.5H1398.88V341.5H1402.77V341.5H1406.67V346.4H1410.57V343.9H1414.47V415.2H1418.36V387.2H1422.26V361.5H1426.16V369.2H1430.05V360.1H1433.95V345.2H1437.85V348.0H1441.75V348.8H1445.64V341.5H1449.54V341.5H1453.44V403.1H1457.34V374.3H1461.23V341.5H1465.13V341.5H1469.03V341.5H1472.92V345.7H1476.82V346.0H1480.72V344.2H1484.62V343.5H1488.51V344.0H1492.41V362.7H1496.31V341.5H1500.21V341.5H1504.10V341.5H1508.00V341.5Z" fill="#1c74ba" fill-opacity="0.083"/>
<path d="M85.50,341.5V364.0H89.40V358.9H93.29V345.8H97.19V350.1H101.09V348.0H104.99V371.6H108.88V376.8H112.78V365.8H116.68V341.5H120.58V341.5H124.47V341.5H128.37V343.8H132.27V345.5H136.16V345.4H140.06V356.9H143.96V359.1H147.86V354.2H151.75V404.5H155.65V364.8H159.55V373.6H163.45V341.5H167.34V341.5H171.24V341.5H175.14V341.5H179.03V433.2H182.93V392.8H186.83V350.1H190.73V348.7H194.62V348.6H198.52V371.3H202.42V349.9H206.32V355.1H210.21V358.5H214.11V353.5H218.01V351.6H221.90V374.2H225.80V359.1H229.70V365.8H233.60V341.5H237.49V341.5H241.39V341.5H245.29V433.2H249.18V419.1H253.08V441.1H256.98V344.6H260.88V343.6H264.77V343.3H268.67V343.2H272.57V352.0H276.47V354.6H280.36V357.1H284.26V354.7H288.16V360.3H292.05V351.4H295.95V357.4H299.85V341.5H303.75V341.5H307.64V341.5H311.54V341.5H315.44V341.5H319.34V341.5H323.23V355.5H327.13V348.9H331.03V350.4H334.92V393.5H338.82V413.2H342.72V381.1H346.62V378.3H350.51V351.4H354.41V352.6H358.31V356.3H362.21V378.4H366.10V382.8H370.00V348.1H373.90V345.3H377.79V363.7H381.69V353.4H385.59V352.9H389.49V361.4H393.38V387.6H397.28V375.4H401.18V384.3H405.08V360.3H408.97V346.9H412.87V349.5H416.77V346.7H420.66V346.6H424.56V353.3H428.46V350.5H432.36V351.0H436.25V351.1H440.15V341.5H444.05V341.5H447.95V383.5H451.84V371.2H455.74V395.1H459.64V463.9H463.53V501.0H467.43V569.2H471.33V516.7H475.23V369.1H479.12V374.6H483.02V361.0H486.92V373.4H490.82V346.3H494.71V354.1H498.61V350.0H502.51V350.3H506.40V349.2H510.30V346.2H514.20V352.7H518.10V361.4H521.99V361.6H525.89V359.5H529.79V393.6H533.68V419.0H537.58V417.6H541.48V341.5H545.38V341.5H549.27V341.5H553.17V341.5H557.07V354.0H560.97V358.7H564.86V359.2H568.76V347.9H572.66V350.6H576.55V348.2H580.45V341.5H584.35V341.5H588.25V370.4H592.14V388.3H596.04V373.5H599.94V345.0H603.84V343.9H607.73V345.6H611.63V346.2H615.53V346.7H619.42V341.5H623.32V346.3H627.22V345.9H631.12V344.9H635.01V345.1H638.91V347.3H642.81V349.2H646.71V348.8H650.60V475.3H654.50V465.7H658.40V453.5H662.29V344.5H666.19V344.9H670.09V344.3H673.99V341.5H677.88V341.5H681.78V341.5H685.68V341.5H689.58V348.8H693.47V348.4H697.37V347.3H701.27V346.3H705.16V349.2H709.06V351.7H712.96V353.3H716.86V344.2H720.75V344.4H724.65V344.2H728.55V344.3H732.45V359.6H736.34V362.1H740.24V354.8H744.14V341.5H748.03V341.5H751.93V341.5H755.83V341.5H759.73V345.8H763.62V345.3H767.52V347.3H771.42V347.5H775.32V345.3H779.21V345.2H783.11V343.5H787.01V346.3H790.90V349.0H794.80V348.6H798.70V356.9H802.60V345.5H806.49V344.9H810.39V343.9H814.29V344.3H818.18V343.7H822.08V343.3H825.98V359.1H829.88V341.5H833.77V341.5H837.67V341.5H841.57V341.5H845.47V341.5H849.36V353.1H853.26V350.9H857.16V349.4H861.05V345.2H864.95V347.7H868.85V341.5H872.75V341.5H876.64V341.5H880.54V341.5H884.44V341.5H888.34V341.5H892.23V341.5H896.13V400.0H900.03V384.3H903.92V341.5H907.82V345.4H911.72V347.7H915.62V341.5H919.51V341.5H923.41V341.5H927.31V350.6H931.21V348.2H935.10V341.5H939.00V341.5H942.90V341.5H946.79V345.1H950.69V345.6H954.59V346.2H958.49V345.3H962.38V350.0H966.28V352.5H970.18V356.3H974.08V349.7H977.97V356.8H981.87V341.5H985.77V341.5H989.66V341.5H993.56V341.5H997.46V341.5H1001.36V341.5H1005.25V341.5H1009.15V341.5H1013.05V341.5H1016.95V341.5H1020.84V341.5H1024.74V341.5H1028.64V341.5H1032.53V341.5H1036.43V341.5H1040.33V341.5H1044.23V341.5H1048.12V344.3H1052.02V344.4H1055.92V344.6H1059.82V341.5H1063.71V341.5H1067.61V341.5H1071.51V345.7H1075.40V343.6H1079.30V345.7H1083.20V341.5H1087.10V341.5H1090.99V341.5H1094.89V341.5H1098.79V344.5H1102.68V341.5H1106.58V341.5H1110.48V341.5H1114.38V341.5H1118.27V341.5H1122.17V341.5H1126.07V341.5H1129.97V341.5H1133.86V341.5H1137.76V377.5H1141.66V341.5H1145.55V341.5H1149.45V341.5H1153.35V352.2H1157.25V351.2H1161.14V341.5H1165.04V341.5H1168.94V341.5H1172.84V341.5H1176.73V341.5H1180.63V341.5H1184.53V341.5H1188.42V341.5H1192.32V341.5H1196.22V341.5H1200.12V341.5H1204.01V341.5H1207.91V341.5H1211.81V341.5H1215.71V341.5H1219.60V341.5H1223.50V341.5H1227.40V341.5H1231.29V341.5H1235.19V341.5H1239.09V341.5H1242.99V341.5H1246.88V341.5H1250.78V341.5H1254.68V341.5H1258.58V347.8H1262.47V343.9H1266.37V343.4H1270.27V346.8H1274.16V349.3H1278.06V345.9H1281.96V341.5H1285.86V389.2H1289.75V345.2H1293.65V344.5H1297.55V344.8H1301.45V341.5H1305.34V341.5H1309.24V341.5H1313.14V379.5H1317.03V390.2H1320.93V386.4H1324.83V343.9H1328.73V344.0H1332.62V341.5H1336.52V341.5H1340.42V341.5H1344.32V341.5H1348.21V341.5H1352.11V341.5H1356.01V504.4H1359.90V458.2H1363.80V350.1H1367.70V349.5H1371.60V348.4H1375.49V341.5H1379.39V341.5H1383.29V341.5H1387.18V341.5H1391.08V343.8H1394.98V346.4H1398.88V356.3H1402.77V357.4H1406.67V341.5H1410.57V341.5H1414.47V341.5H1418.36V350.5H1422.26V354.7H1426.16V341.5H1430.05V341.5H1433.95V362.3H1437.85V379.9H1441.75V373.6H1445.64V346.4H1449.54V341.5H1453.44V341.5H1457.34V341.5H1461.23V341.5H1465.13V341.5H1469.03V344.6H1472.92V344.2H1476.82V341.5H1480.72V341.5H1484.62V341.5H1488.51V341.5H1492.41V349.1H1496.31V346.2H1500.21V345.7H1504.10V346.4H1508.00V341.5Z" fill="#1c74ba" fill-opacity="0.083"/>
<path d="M85.50,341.5V341.5H89.40V341.5H93.29V341.5H97.19V341.5H101.09V344.3H104.99V344.2H108.88V345.7H112.78V386.6H116.68V379.4H120.58V377.0H124.47V375.0H128.37V373.8H132.27V371.0H136.16V366.7H140.06V341.5H143.96V341.5H147.86V425.4H151.75V403.3H155.65V393.7H159.55V400.3H163.45V347.9H167.34V349.7H171.24V353.8H175.14V349.2H179.03V343.1H182.93V341.5H186.83V341.5H190.73V348.2H194.62V348.7H198.52V346.6H202.42V345.7H206.32V446.7H210.21V475.3H214.11V443.9H218.01V355.9H221.90V365.0H225.80V341.5H229.70V341.5H233.60V341.5H237.49V341.5H241.39V465.5H245.29V483.3H249.18V365.7H253.08V364.8H256.98V347.7H260.88V348.8H264.77V348.4H268.67V373.8H272.57V365.4H276.47V365.2H280.36V375.3H284.26V348.0H288.16V348.7H292.05V346.2H295.95V546.1H299.85V416.6H303.75V409.3H307.64V448.7H311.54V432.7H315.44V351.7H319.34V348.1H323.23V452.7H327.13V493.6H331.03V436.7H334.92V369.2H338.82V359.7H342.72V363.2H346.62V343.6H350.51V343.7H354.41V378.8H358.31V363.9H362.21V379.6H366.10V341.5H370.00V341.5H373.90V353.5H377.79V360.5H381.69V389.3H385.59V373.1H389.49V341.5H393.38V341.5H397.28V341.5H401.18V341.5H405.08V343.8H408.97V343.5H412.87V344.0H416.77V345.0H420.66V361.2H424.56V341.5H428.46V341.5H432.36V341.5H436.25V358.1H440.15V354.6H444.05V417.1H447.95V409.8H451.84V401.9H455.74V370.6H459.64V383.9H463.53V391.0H467.43V348.6H471.33V347.3H475.23V366.1H479.12V365.6H483.02V365.3H486.92V341.5H490.82V341.5H494.71V341.5H498.61V341.5H502.51V341.5H506.40V341.5H510.30V356.3H514.20V354.2H518.10V379.5H521.99V390.1H525.89V383.0H529.79V454.7H533.68V433.7H537.58V529.9H541.48V548.7H545.38V661.7H549.27V349.9H553.17V346.8H557.07V349.9H560.97V341.5H564.86V363.8H568.76V353.2H572.66V362.6H576.55V347.6H580.45V346.6H584.35V346.8H588.25V348.8H592.14V388.8H596.04V402.3H599.94V374.3H603.84V409.5H607.73V354.4H611.63V355.3H615.53V361.1H619.42V348.4H623.32V362.9H627.22V362.6H631.12V522.3H635.01V507.8H638.91V437.3H642.81V545.8H646.71V341.5H650.60V341.5H654.50V341.5H658.40V341.5H662.29V341.5H666.19V341.5H670.09V341.5H673.99V341.5H677.88V341.5H681.78V341.5H685.68V341.5H689.58V341.5H693.47V356.3H697.37V353.3H701.27V346.7H705.16V346.8H709.06V368.9H712.96V354.0H716.86V341.5H720.75V341.5H724.65V341.5H728.55V341.5H732.45V341.5H736.34V341.5H740.24V349.7H744.14V366.9H748.03V346.0H751.93V344.1H755.83V353.9H759.73V365.1H763.62V357.3H767.52V341.5H771.42V351.4H775.32V348.5H779.21V348.2H783.11V358.9H787.01V353.4H790.90V562.0H794.80V566.8H798.70V571.0H802.60V341.5H806.49V341.5H810.39V353.9H814.29V355.5H818.18V350.1H822.08V351.7H825.98V341.5H829.88V341.5H833.77V341.5H837.67V471.5H841.57V463.2H845.47V474.4H849.36V341.5H853.26V341.5H857.16V341.5H861.05V341.5H864.95V341.5H868.85V344.4H872.75V346.5H876.64V345.9H880.54V344.6H884.44V348.4H888.34V349.1H892.23V341.5H896.13V341.5H900.03V350.0H903.92V345.7H907.82V344.2H911.72V341.5H915.62V341.5H919.51V345.6H923.41V345.2H927.31V343.2H931.21V342.8H935.10V344.1H939.00V344.0H942.90V380.9H946.79V381.5H950.69V343.9H954.59V344.0H958.49V344.0H962.38V390.9H966.28V341.5H970.18V341.5H974.08V341.5H977.97V350.0H981.87V341.5H985.77V341.5H989.66V341.5H993.56V341.5H997.46V341.5H1001.36V341.5H1005.25V353.6H1009.15V359.7H1013.05V361.1H1016.95V341.5H1020.84V341.5H1024.74V341.5H1028.64V341.5H1032.53V341.5H1036.43V344.1H1040.33V344.4H1044.23V345.2H1048.12V341.5H1052.02V341.5H1055.92V445.1H1059.82V407.9H1063.71V424.5H1067.61V345.9H1071.51V347.3H1075.40V350.0H1079.30V347.6H1083.20V341.5H1087.10V341.5H1090.99V341.5H1094.89V341.5H1098.79V401.1H1102.68V391.5H1106.58V402.8H1110.48V352.6H1114.38V347.8H1118.27V364.0H1122.17V355.8H1126.07V343.9H1129.97V344.7H1133.86V345.8H1137.76V359.5H1141.66V357.9H1145.55V350.8H1149.45V341.5H1153.35V341.5H1157.25V341.5H1161.14V341.5H1165.04V341.5H1168.94V344.8H1172.84V345.8H1176.73V345.4H1180.63V341.5H1184.53V361.8H1188.42V360.9H1192.32V372.8H1196.22V367.5H1200.12V341.5H1204.01V341.5H1207.91V341.5H1211.81V341.5H1215.71V341.5H1219.60V341.5H1223.50V341.5H1227.40V341.5H1231.29V341.5H1235.19V341.5H1239.09V341.5H1242.99V341.5H1246.88V341.5H1250.78V341.5H1254.68V341.5H1258.58V341.5H1262.47V341.5H1266.37V341.5H1270.27V356.8H1274.16V341.5H1278.06V341.5H1281.96V341.5H1285.86V341.5H1289.75V360.9H1293.65V364.8H1297.55V359.6H1301.45V355.8H1305.34V364.4H1309.24V341.5H1313.14V341.5H1317.03V345.1H1320.93V347.2H1324.83V347.9H1328.73V341.5H1332.62V341.5H1336.52V341.5H1340.42V341.5H1344.32V345.7H1348.21V350.1H1352.11V361.5H1356.01V458.3H1359.90V448.9H1363.80V501.4H1367.70V504.5H1371.60V347.7H1375.49V346.4H1379.39V344.5H1383.29V344.1H1387.18V344.5H1391.08V345.3H1394.98V343.4H1398.88V344.1H1402.77V345.0H1406.67V345.4H1410.57V341.5H1414.47V341.5H1418.36V341.5H1422.26V341.5H1426.16V341.5H1430.05V341.5H1433.95V341.5H1437.85V341.5H1441.75V341.5H1445.64V341.5H1449.54V341.5H1453.44V341.5H1457.34V341.5H1461.23V349.3H1465.13V347.6H1469.03V344.7H1472.92V344.4H1476.82V401.5H1480.72V341.5H1484.62V341.5H1488.51V341.5H1492.41V341.5H1496.31V428.2H1500.21V412.5H1504.10V414.7H1508.00V341.5Z" fill="#1c74ba" fill-opacity="0.083"/>
<path d="M85.50,341.5V353.0H89.40V354.2H93.29V516.3H97.19V369.1H101.09V367.9H104.99V428.1H108.88V404.4H112.78V348.4H116.68V349.6H120.58V351.1H124.47V352.0H128.37V365.1H132.27V359.9H136.16V353.3H140.06V360.1H143.96V359.2H147.86V436.9H151.75V422.0H155.65V365.1H159.55V406.3H163.45V386.4H167.34V392.1H171.24V373.8H175.14V377.6H179.03V375.0H182.93V380.4H186.83V497.2H190.73V437.4H194.62V509.5H198.52V410.7H202.42V375.8H206.32V411.9H210.21V385.7H214.11V372.1H218.01V379.6H221.90V344.0H225.80V343.1H229.70V349.1H233.60V345.0H237.49V348.8H241.39V405.9H245.29V379.8H249.18V402.4H253.08V419.3H256.98V584.8H260.88V482.5H264.77V495.7H268.67V377.0H272.57V353.4H276.47V352.9H280.36V350.9H284.26V350.1H288.16V361.8H292.05V367.5H295.95V355.3H299.85V356.4H303.75V358.7H307.64V356.8H311.54V461.5H315.44V461.5H319.34V437.9H323.23V467.7H327.13V346.3H331.03V603.7H334.92V572.1H338.82V581.8H342.72V348.2H346.62V346.7H350.51V341.5H354.41V341.5H358.31V341.5H362.21V392.2H366.10V391.4H370.00V341.5H373.90V341.5H377.79V341.5H381.69V366.0H385.59V353.9H389.49V353.9H393.38V341.5H397.28V409.9H401.18V381.2H405.08V370.2H408.97V341.5H412.87V341.5H416.77V341.5H420.66V341.5H424.56V341.5H428.46V349.4H432.36V347.4H436.25V349.2H440.15V353.4H444.05V354.9H447.95V349.4H451.84V349.5H455.74V349.2H459.64V346.3H463.53V355.6H467.43V358.9H471.33V388.9H475.23V380.1H479.12V386.8H483.02V377.3H486.92V378.7H490.82V344.4H494.71V346.0H498.61V346.2H502.51V364.7H506.40V370.4H510.30V360.6H514.20V384.8H518.10V413.8H521.99V377.1H525.89V341.5H529.79V341.5H533.68V341.5H537.58V351.8H541.48V394.7H545.38V389.6H549.27V384.7H553.17V390.6H557.07V416.6H560.97V419.1H564.86V393.0H568.76V387.8H572.66V380.0H576.55V368.4H580.45V355.5H584.35V360.9H588.25V368.4H592.14V348.2H596.04V349.7H599.94V353.3H603.84V348.9H607.73V341.5H611.63V341.5H615.53V344.0H619.42V344.6H623.32V361.3H627.22V358.9H631.12V365.4H635.01V346.7H638.91V355.3H642.81V361.8H646.71V404.7H650.60V392.3H654.50V406.8H658.40V361.8H662.29V352.9H666.19V355.4H670.09V356.7H673.99V363.2H677.88V367.7H681.78V344.3H685.68V344.8H689.58V343.5H693.47V376.9H697.37V386.9H701.27V348.5H705.16V348.2H709.06V346.5H712.96V345.9H716.86V344.5H720.75V346.3H724.65V391.6H728.55V390.8H732.45V385.6H736.34V405.2H740.24V351.3H744.14V346.5H748.03V341.5H751.93V341.5H755.83V341.5H759.73V341.5H763.62V341.5H767.52V341.5H771.42V358.8H775.32V373.8H779.21V379.0H783.11V341.5H787.01V341.5H790.90V341.5H794.80V341.5H798.70V341.5H802.60V341.5H806.49V341.5H810.39V341.5H814.29V341.5H818.18V341.5H822.08V341.5H825.98V341.5H829.88V341.5H833.77V341.5H837.67V348.3H841.57V347.6H845.47V347.4H849.36V341.5H853.26V341.5H857.16V346.3H861.05V343.8H864.95V346.0H868.85V341.5H872.75V348.2H876.64V341.5H880.54V341.5H884.44V341.5H888.34V341.5H892.23V346.6H896.13V341.5H900.03V341.5H903.92V341.5H907.82V341.5H911.72V341.5H915.62V341.5H919.51V341.5H923.41V341.5H927.31V341.5H931.21V341.5H935.10V347.0H939.00V348.6H942.90V348.8H946.79V345.8H950.69V345.8H954.59V343.9H958.49V341.5H962.38V341.5H966.28V354.8H970.18V360.1H974.08V360.5H977.97V355.1H981.87V345.9H985.77V349.3H989.66V345.9H993.56V346.9H997.46V382.0H1001.36V377.6H1005.25V341.5H1009.15V341.5H1013.05V341.5H1016.95V344.3H1020.84V343.8H1024.74V343.6H1028.64V365.0H1032.53V365.2H1036.43V367.7H1040.33V389.6H1044.23V347.0H1048.12V346.4H1052.02V345.9H1055.92V341.5H1059.82V341.5H1063.71V373.3H1067.61V383.2H1071.51V341.5H1075.40V341.5H1079.30V345.4H1083.20V345.2H1087.10V345.7H1090.99V349.7H1094.89V348.8H1098.79V345.7H1102.68V341.5H1106.58V341.5H1110.48V341.5H1114.38V341.5H1118.27V341.5H1122.17V341.5H1126.07V341.5H1129.97V341.5H1133.86V341.5H1137.76V341.5H1141.66V347.6H1145.55V349.5H1149.45V341.5H1153.35V341.5H1157.25V343.2H1161.14V342.7H1165.04V341.5H1168.94V341.5H1172.84V341.5H1176.73V341.5H1180.63V341.5H1184.53V350.5H1188.42V348.7H1192.32V353.2H1196.22V353.7H1200.12V341.5H1204.01V341.5H1207.91V341.5H1211.81V341.5H1215.71V363.8H1219.60V341.5H1223.50V341.5H1227.40V341.5H1231.29V341.5H1235.19V341.5H1239.09V375.0H1242.99V375.5H1246.88V376.4H1250.78V341.5H1254.68V346.6H1258.58V348.3H1262.47V346.6H1266.37V348.4H1270.27V354.4H1274.16V349.4H1278.06V341.5H1281.96V341.5H1285.86V341.5H1289.75V341.5H1293.65V357.7H1297.55V360.9H1301.45V355.5H1305.34V360.5H1309.24V352.9H1313.14V356.5H1317.03V341.5H1320.93V341.5H1324.83V341.5H1328.73V341.5H1332.62V404.0H1336.52V421.6H1340.42V412.3H1344.32V341.5H1348.21V341.5H1352.11V341.5H1356.01V347.9H1359.90V345.9H1363.80V346.0H1367.70V341.5H1371.60V341.5H1375.49V341.5H1379.39V341.5H1383.29V341.5H1387.18V341.5H1391.08V341.5H1394.98V360.7H1398.88V365.0H1402.77V365.2H1406.67V362.3H1410.57V348.6H1414.47V346.6H1418.36V353.6H1422.26V353.0H1426.16V355.7H1430.05V352.2H1433.95V354.8H1437.85V354.6H1441.75V355.9H1445.64V341.5H1449.54V341.5H1453.44V341.5H1457.34V341.5H1461.23V352.7H1465.13V348.9H1469.03V354.1H1472.92V348.8H1476.82V349.7H1480.72V341.5H1484.62V341.5H1488.51V341.5H1492.41V344.3H1496.31V343.7H1500.21V343.4H1504.10V344.6H1508.00V341.5Z" fill="#1c74ba" fill-opacity="0.083"/>
<path d="M85.50,341.5V349.6H89.40V350.9H93.29V357.9H97.19V358.4H101.09V356.4H104.99V355.7H108.88V350.5H112.78V360.5H116.68V355.4H120.58V371.0H124.47V341.5H128.37V341.5H132.27V341.5H136.16V424.9H140.06V444.3H143.96V418.4H147.86V346.9H151.75V344.7H155.65V344.9H159.55V361.3H163.45V355.9H167.34V360.4H171.24V425.7H175.14V410.8H179.03V467.0H182.93V477.5H186.83V371.4H190.73V357.5H194.62V369.9H198.52V386.1H202.42V366.8H206.32V375.8H210.21V375.4H214.11V482.3H218.01V392.3H221.90V395.2H225.80V344.9H229.70V345.6H233.60V344.9H237.49V350.4H241.39V350.5H245.29V348.1H249.18V386.6H253.08V413.8H256.98V376.8H260.88V388.0H264.77V355.5H268.67V353.3H272.57V358.9H276.47V398.6H280.36V343.2H284.26V343.3H288.16V343.0H292.05V432.8H295.95V501.4H299.85V377.9H303.75V512.3H307.64V482.0H311.54V353.3H315.44V367.8H319.34V383.2H323.23V384.0H327.13V352.0H331.03V382.9H334.92V347.8H338.82V341.5H342.72V341.5H346.62V341.5H350.51V394.5H354.41V393.5H358.31V341.5H362.21V341.5H366.10V341.5H370.00V349.6H373.90V348.9H377.79V347.0H381.69V348.0H385.59V344.7H389.49V344.2H393.38V342.9H397.28V341.5H401.18V341.5H405.08V341.5H408.97V341.5H412.87V341.5H416.77V351.1H420.66V343.3H424.56V344.1H428.46V343.1H432.36V350.9H436.25V376.6H440.15V367.8H444.05V376.2H447.95V344.4H451.84V351.0H455.74V349.2H459.64V350.2H463.53V361.0H467.43V366.1H471.33V365.4H475.23V372.2H479.12V356.0H483.02V354.4H486.92V367.6H490.82V360.0H494.71V349.0H498.61V350.4H502.51V353.5H506.40V345.4H510.30V343.8H514.20V370.9H518.10V371.9H521.99V374.2H525.89V370.0H529.79V354.3H533.68V344.1H537.58V345.0H541.48V341.5H545.38V341.5H549.27V341.5H553.17V351.4H557.07V355.5H560.97V351.6H564.86V341.5H568.76V363.8H572.66V352.6H576.55V351.8H580.45V365.6H584.35V355.1H588.25V354.2H592.14V364.6H596.04V355.1H599.94V360.7H603.84V362.9H607.73V349.3H611.63V363.2H615.53V341.5H619.42V341.5H623.32V341.5H627.22V341.5H631.12V367.9H635.01V742.2H638.91V554.7H642.81V569.8H646.71V702.6H650.60V372.9H654.50V366.6H658.40V376.2H662.29V341.5H666.19V341.5H670.09V447.5H673.99V466.6H677.88V456.5H681.78V405.2H685.68V371.3H689.58V361.7H693.47V376.3H697.37V341.5H701.27V341.5H705.16V341.5H709.06V341.5H712.96V341.5H716.86V351.1H720.75V351.4H724.65V485.2H728.55V515.7H732.45V465.9H736.34V493.3H740.24V529.7H744.14V424.5H748.03V345.5H751.93V391.8H755.83V386.9H759.73V347.6H763.62V350.4H767.52V351.7H771.42V349.1H775.32V348.8H779.21V438.0H783.11V439.3H787.01V419.7H790.90V341.5H794.80V341.5H798.70V341.5H802.60V348.2H806.49V346.4H810.39V341.5H814.29V341.5H818.18V341.5H822.08V341.5H825.98V341.5H829.88V341.5H833.77V341.5H837.67V341.5H841.57V341.5H845.47V341.5H849.36V341.5H853.26V343.6H857.16V343.1H861.05V341.5H864.95V341.5H868.85V341.5H872.75V351.4H876.64V348.2H880.54V348.3H884.44V341.5H888.34V341.5H892.23V341.5H896.13V341.5H900.03V341.5H903.92V341.5H907.82V341.5H911.72V389.0H915.62V346.2H919.51V347.6H923.41V341.5H927.31V341.5H931.21V349.3H935.10V345.3H939.00V341.5H942.90V341.5H946.79V341.5H950.69V341.5H954.59V341.5H958.49V341.5H962.38V341.5H966.28V341.5H970.18V341.5H974.08V341.5H977.97V341.5H981.87V341.5H985.77V341.5H989.66V341.5H993.56V341.5H997.46V341.5H1001.36V341.5H1005.25V341.5H1009.15V347.6H1013.05V348.4H1016.95V353.1H1020.84V349.4H1024.74V350.1H1028.64V346.3H1032.53V341.5H1036.43V341.5H1040.33V341.5H1044.23V357.9H1048.12V356.6H1052.02V356.2H1055.92V341.5H1059.82V341.5H1063.71V341.5H1067.61V341.5H1071.51V341.5H1075.40V341.5H1079.30V341.5H1083.20V341.5H1087.10V341.5H1090.99V346.7H1094.89V349.2H1098.79V348.8H1102.68V341.5H1106.58V341.5H1110.48V350.3H1114.38V348.3H1118.27V355.2H1122.17V341.5H1126.07V341.5H1129.97V341.5H1133.86V341.5H1137.76V358.2H1141.66V361.6H1145.55V358.3H1149.45V341.5H1153.35V341.5H1157.25V341.5H1161.14V341.5H1165.04V341.5H1168.94V341.5H1172.84V341.5H1176.73V347.9H1180.63V346.4H1184.53V401.2H1188.42V347.1H1192.32V347.8H1196.22V348.8H1200.12V350.8H1204.01V341.5H1207.91V341.5H1211.81V341.5H1215.71V351.9H1219.60V358.4H1223.50V341.5H1227.40V341.5H1231.29V341.5H1235.19V341.5H1239.09V341.5H1242.99V341.5H1246.88V341.5H1250.78V374.0H1254.68V341.5H1258.58V341.5H1262.47V346.2H1266.37V347.9H1270.27V341.5H1274.16V341.5H1278.06V341.5H1281.96V351.1H1285.86V352.3H1289.75V341.5H1293.65V341.5H1297.55V341.5H1301.45V341.5H1305.34V349.6H1309.24V350.0H1313.14V350.0H1317.03V341.5H1320.93V341.5H1324.83V341.5H1328.73V341.5H1332.62V341.5H1336.52V341.5H1340.42V341.5H1344.32V341.5H1348.21V384.3H1352.11V384.6H1356.01V341.5H1359.90V424.8H1363.80V412.9H1367.70V423.4H1371.60V429.3H1375.49V341.5H1379.39V341.5H1383.29V341.5H1387.18V344.2H1391.08V343.4H1394.98V376.3H1398.88V357.3H1402.77V363.5H1406.67V366.4H1410.57V341.5H1414.47V341.5H1418.36V341.5H1422.26V350.8H1426.16V350.2H1430.05V348.9H1433.95V350.5H1437.85V351.0H1441.75V349.9H1445.64V359.1H1449.54V363.0H1453.44V341.5H1457.34V341.5H1461.23V402.0H1465.13V428.8H1469.03V423.1H1472.92V409.1H1476.82V359.6H1480.72V346.4H1484.62V348.6H1488.51V346.1H1492.41V347.9H1496.31V356.2H1500.21V360.5H1504.10V354.5H1508.00V341.5Z" fill="#1c74ba" fill-opacity="0.083"/>
<path d="M85.50,341.5V372.6H89.40V368.8H93.29V376.3H97.19V461.1H101.09V452.3H104.99V341.5H108.88V341.5H112.78V341.5H116.68V353.2H120.58V378.3H124.47V375.0H128.37V387.7H132.27V370.2H136.16V363.2H140.06V358.6H143.96V362.7H147.86V349.0H151.75V354.4H155.65V348.0H159.55V358.7H163.45V350.9H167.34V351.6H171.24V349.7H175.14V351.1H179.03V351.8H182.93V351.5H186.83V349.1H190.73V341.5H194.62V341.5H198.52V341.5H202.42V341.5H206.32V386.4H210.21V391.2H214.11V353.2H218.01V352.1H221.90V351.3H225.80V347.5H229.70V345.8H233.60V422.3H237.49V415.0H241.39V341.5H245.29V341.5H249.18V341.5H253.08V341.5H256.98V353.6H260.88V348.6H264.77V351.0H268.67V353.3H272.57V360.9H276.47V367.8H280.36V361.9H284.26V361.8H288.16V372.1H292.05V353.3H295.95V353.7H299.85V351.2H303.75V354.1H307.64V513.7H311.54V441.7H315.44V391.0H319.34V392.2H323.23V383.9H327.13V365.2H331.03V363.6H334.92V363.9H338.82V341.5H342.72V341.5H346.62V349.6H350.51V356.1H354.41V352.3H358.31V408.5H362.21V385.1H366.10V398.5H370.00V341.5H373.90V341.5H377.79V421.1H381.69V470.0H385.59V412.2H389.49V345.3H393.38V346.8H397.28V346.4H401.18V345.3H405.08V348.1H408.97V345.6H412.87V355.8H416.77V360.4H420.66V356.8H424.56V343.6H428.46V345.4H432.36V344.1H436.25V343.6H440.15V353.1H444.05V348.2H447.95V349.3H451.84V353.1H455.74V356.6H459.64V373.5H463.53V359.6H467.43V356.6H471.33V361.9H475.23V343.5H479.12V422.0H483.02V451.8H486.92V397.9H490.82V344.6H494.71V344.4H498.61V346.2H502.51V349.7H506.40V348.6H510.30V394.4H514.20V399.5H518.10V341.5H521.99V341.5H525.89V353.6H529.79V353.2H533.68V360.0H537.58V355.7H541.48V353.9H545.38V367.4H549.27V388.2H553.17V382.4H557.07V376.6H560.97V357.2H564.86V364.2H568.76V341.5H572.66V341.5H576.55V341.5H580.45V341.5H584.35V361.1H588.25V357.6H592.14V388.9H596.04V351.3H599.94V349.1H603.84V341.5H607.73V341.5H611.63V341.5H615.53V345.1H619.42V344.0H623.32V358.6H627.22V356.0H631.12V458.3H635.01V436.6H638.91V356.6H642.81V352.6H646.71V349.7H650.60V449.7H654.50V454.9H658.40V429.0H662.29V440.4H666.19V433.3H670.09V410.0H673.99V362.4H677.88V382.0H681.78V341.5H685.68V341.5H689.58V341.5H693.47V343.4H697.37V343.5H701.27V349.4H705.16V355.2H709.06V352.4H712.96V341.5H716.86V346.4H720.75V346.3H724.65V343.5H728.55V345.3H732.45V345.2H736.34V344.7H740.24V341.5H744.14V341.5H748.03V341.5H751.93V341.5H755.83V344.4H759.73V344.1H763.62V364.7H767.52V377.5H771.42V350.8H775.32V480.8H779.21V472.1H783.11V341.5H787.01V341.5H790.90V341.5H794.80V343.8H798.70V343.3H802.60V344.4H806.49V355.3H810.39V357.5H814.29V355.6H818.18V350.8H822.08V341.5H825.98V341.5H829.88V341.5H833.77V341.5H837.67V351.4H841.57V341.5H845.47V341.5H849.36V353.0H853.26V346.1H857.16V345.7H861.05V345.0H864.95V352.8H868.85V362.2H872.75V355.1H876.64V354.7H880.54V341.5H884.44V341.5H888.34V358.7H892.23V372.0H896.13V345.1H900.03V343.8H903.92V343.7H907.82V341.5H911.72V341.5H915.62V345.9H919.51V346.1H923.41V341.5H927.31V341.5H931.21V341.5H935.10V341.5H939.00V341.5H942.90V341.5H946.79V341.5H950.69V341.5H954.59V341.5H958.49V345.9H962.38V341.5H966.28V341.5H970.18V345.8H974.08V344.3H977.97V345.9H981.87V345.9H985.77V346.6H989.66V349.3H993.56V341.5H997.46V341.5H1001.36V341.5H1005.25V341.5H1009.15V351.0H1013.05V353.5H1016.95V348.3H1020.84V341.5H1024.74V341.5H1028.64V341.5H1032.53V341.5H1036.43V341.5H1040.33V341.5H1044.23V369.7H1048.12V368.2H1052.02V341.5H1055.92V341.5H1059.82V341.5H1063.71V341.5H1067.61V345.9H1071.51V345.9H1075.40V344.0H1079.30V346.5H1083.20V344.1H1087.10V344.3H1090.99V345.5H1094.89V346.6H1098.79V347.5H1102.68V346.6H1106.58V349.9H1110.48V346.1H1114.38V345.4H1118.27V347.0H1122.17V345.3H1126.07V341.5H1129.97V341.5H1133.86V341.5H1137.76V341.5H1141.66V341.5H1145.55V341.5H1149.45V341.5H1153.35V341.5H1157.25V341.5H1161.14V344.4H1165.04V343.7H1168.94V343.7H1172.84V341.5H1176.73V341.5H1180.63V341.5H1184.53V341.5H1188.42V341.5H1192.32V344.1H1196.22V343.8H1200.12V464.3H1204.01V427.5H1207.91V435.4H1211.81V352.4H1215.71V341.5H1219.60V341.5H1223.50V341.5H1227.40V341.5H1231.29V341.5H1235.19V341.5H1239.09V341.5H1242.99V341.5H1246.88V348.5H1250.78V350.3H1254.68V345.9H1258.58V341.5H1262.47V341.5H1266.37V404.6H1270.27V407.3H1274.16V404.7H1278.06V381.3H1281.96V360.0H1285.86V353.7H1289.75V370.5H1293.65V372.6H1297.55V344.6H1301.45V349.7H1305.34V351.3H1309.24V341.5H1313.14V341.5H1317.03V379.6H1320.93V403.4H1324.83V399.5H1328.73V346.9H1332.62V341.5H1336.52V341.5H1340.42V341.5H1344.32V341.5H1348.21V341.5H1352.11V341.5H1356.01V341.5H1359.90V341.5H1363.80V341.5H1367.70V346.4H1371.60V381.6H1375.49V375.7H1379.39V383.7H1383.29V364.7H1387.18V341.5H1391.08V341.5H1394.98V341.5H1398.88V341.5H1402.77V341.5H1406.67V341.5H1410.57V341.5H1414.47V341.5H1418.36V341.5H1422.26V341.5H1426.16V341.5H1430.05V341.5H1433.95V341.5H1437.85V348.2H1441.75V348.6H1445.64V341.5H1449.54V341.5H1453.44V365.9H1457.34V372.9H1461.23V362.6H1465.13V365.7H1469.03V341.5H1472.92V365.7H1476.82V362.3H1480.72V355.8H1484.62V355.6H1488.51V341.5H1492.41V341.5H1496.31V363.8H1500.21V384.7H1504.10V374.7H1508.00V341.5Z" fill="#1c74ba" fill-opacity="0.083"/>
<path d="M85.50,341.5V459.1H89.40V516.4H93.29V515.6H97.19V349.2H101.09V348.6H104.99V349.9H108.88V353.0H112.78V359.8H116.68V363.6H120.58V341.5H124.47V344.4H128.37V344.5H132.27V343.5H136.16V361.3H140.06V352.6H143.96V341.5H147.86V341.5H151.75V350.5H155.65V350.8H159.55V346.6H163.45V349.0H167.34V341.5H171.24V352.1H175.14V353.1H179.03V360.5H182.93V357.7H186.83V358.7H190.73V358.6H194.62V370.2H198.52V379.0H202.42V375.1H206.32V350.7H210.21V376.3H214.11V382.3H218.01V391.2H221.90V409.3H225.80V380.1H229.70V345.7H233.60V351.4H237.49V348.0H241.39V350.8H245.29V370.1H249.18V397.1H253.08V369.5H256.98V377.4H260.88V396.4H264.77V341.5H268.67V351.3H272.57V355.9H276.47V352.7H280.36V352.1H284.26V352.8H288.16V476.1H292.05V460.3H295.95V456.8H299.85V474.3H303.75V341.5H307.64V341.5H311.54V341.5H315.44V341.5H319.34V341.5H323.23V341.5H327.13V341.5H331.03V355.7H334.92V354.3H338.82V363.9H342.72V349.2H346.62V349.8H350.51V348.6H354.41V356.6H358.31V350.4H362.21V356.3H366.10V346.6H370.00V347.1H373.90V348.9H377.79V379.0H381.69V369.8H385.59V370.6H389.49V341.5H393.38V341.5H397.28V534.7H401.18V522.8H405.08V474.0H408.97V345.4H412.87V346.0H416.77V357.4H420.66V363.7H424.56V355.9H428.46V345.1H432.36V343.2H436.25V344.7H440.15V377.5H444.05V389.2H447.95V379.9H451.84V362.2H455.74V371.5H459.64V370.8H463.53V350.1H467.43V346.3H471.33V341.5H475.23V341.5H479.12V367.2H483.02V366.8H486.92V359.1H490.82V360.4H494.71V344.0H498.61V341.5H502.51V341.5H506.40V341.5H510.30V351.3H514.20V376.7H518.10V366.5H521.99V410.8H525.89V444.9H529.79V353.1H533.68V343.3H537.58V343.0H541.48V348.6H545.38V353.3H549.27V365.1H553.17V362.7H557.07V347.4H560.97V348.6H564.86V349.9H568.76V371.6H572.66V377.5H576.55V362.6H580.45V351.1H584.35V361.8H588.25V359.7H592.14V344.8H596.04V438.2H599.94V405.5H603.84V401.5H607.73V514.8H611.63V487.4H615.53V599.1H619.42V529.5H623.32V502.7H627.22V343.4H631.12V343.6H635.01V344.4H638.91V344.1H642.81V348.5H646.71V346.8H650.60V348.4H654.50V346.7H658.40V348.7H662.29V350.1H666.19V351.0H670.09V349.9H673.99V352.7H677.88V347.9H681.78V367.9H685.68V363.0H689.58V344.9H693.47V344.2H697.37V346.0H701.27V346.3H705.16V360.7H709.06V355.9H712.96V368.4H716.86V357.6H720.75V346.3H724.65V344.4H728.55V456.8H732.45V350.8H736.34V352.9H740.24V351.5H744.14V341.5H748.03V341.5H751.93V349.8H755.83V354.3H759.73V353.4H763.62V341.5H767.52V341.5H771.42V341.5H775.32V341.5H779.21V353.9H783.11V351.2H787.01V354.7H790.90V341.5H794.80V360.4H798.70V360.1H802.60V341.5H806.49V341.5H810.39V341.5H814.29V341.5H818.18V348.8H822.08V351.3H825.98V375.2H829.88V371.8H833.77V361.6H837.67V355.2H841.57V341.5H845.47V341.5H849.36V341.5H853.26V346.4H857.16V355.0H861.05V358.8H864.95V356.0H868.85V350.9H872.75V370.1H876.64V359.1H880.54V341.5H884.44V341.5H888.34V341.5H892.23V341.5H896.13V341.5H900.03V341.5H903.92V341.5H907.82V377.8H911.72V392.8H915.62V369.8H919.51V356.3H923.41V354.9H927.31V349.5H931.21V349.2H935.10V341.5H939.00V341.5H942.90V341.5H946.79V355.9H950.69V365.3H954.59V341.5H958.49V341.5H962.38V345.3H966.28V346.4H970.18V341.5H974.08V341.5H977.97V341.5H981.87V341.5H985.77V347.6H989.66V345.6H993.56V345.6H997.46V343.9H1001.36V341.5H1005.25V341.5H1009.15V341.5H1013.05V341.5H1016.95V341.5H1020.84V341.5H1024.74V341.5H1028.64V341.5H1032.53V346.1H1036.43V345.6H1040.33V341.5H1044.23V354.3H1048.12V350.5H1052.02V349.0H1055.92V345.5H1059.82V345.9H1063.71V341.5H1067.61V341.5H1071.51V341.5H1075.40V341.5H1079.30V341.5H1083.20V341.5H1087.10V341.5H1090.99V393.4H1094.89V378.3H1098.79V389.6H1102.68V356.5H1106.58V352.1H1110.48V352.2H1114.38V341.5H1118.27V341.5H1122.17V341.5H1126.07V341.5H1129.97V341.5H1133.86V341.5H1137.76V347.5H1141.66V350.1H1145.55V346.7H1149.45V345.3H1153.35V341.5H1157.25V341.5H1161.14V341.5H1165.04V364.0H1168.94V373.8H1172.84V376.7H1176.73V378.3H1180.63V341.5H1184.53V341.5H1188.42V344.4H1192.32V344.8H1196.22V344.0H1200.12V341.5H1204.01V341.5H1207.91V341.5H1211.81V341.5H1215.71V341.5H1219.60V341.5H1223.50V349.0H1227.40V345.9H1231.29V350.0H1235.19V341.5H1239.09V341.5H1242.99V341.5H1246.88V345.5H1250.78V343.5H1254.68V345.4H1258.58V347.6H1262.47V345.8H1266.37V347.8H1270.27V351.8H1274.16V350.8H1278.06V347.7H1281.96V449.8H1285.86V451.0H1289.75V425.1H1293.65V341.5H1297.55V341.5H1301.45V341.5H1305.34V341.5H1309.24V341.5H1313.14V341.5H1317.03V341.5H1320.93V356.7H1324.83V358.3H1328.73V341.5H1332.62V341.5H1336.52V341.5H1340.42V341.5H1344.32V341.5H1348.21V341.5H1352.11V400.4H1356.01V407.3H1359.90V351.3H1363.80V359.3H1367.70V358.2H1371.60V356.1H1375.49V586.4H1379.39V515.4H1383.29V524.0H1387.18V341.5H1391.08V341.5H1394.98V360.7H1398.88V381.8H1402.77V360.0H1406.67V351.4H1410.57V358.6H1414.47V341.5H1418.36V341.5H1422.26V341.5H1426.16V347.8H1430.05V348.9H1433.95V367.8H1437.85V372.8H1441.75V363.8H1445.64V372.0H1449.54V341.5H1453.44V341.5H1457.34V341.5H1461.23V341.5H1465.13V341.5H1469.03V341.5H1472.92V341.5H1476.82V341.5H1480.72V341.5H1484.62V349.0H1488.51V354.3H1492.41V351.9H1496.31V341.5H1500.21V341.5H1504.10V341.5H1508.00V341.5Z" fill="#1c74ba" fill-opacity="0.083"/>
<path d="M85.50,341.5V415.2H89.40V404.2H93.29V430.5H97.19V387.1H101.09V380.3H104.99V385.5H108.88V368.0H112.78V365.6H116.68V364.6H120.58V351.8H124.47V354.2H128.37V351.6H132.27V354.4H136.16V356.9H140.06V352.2H143.96V345.8H147.86V345.8H151.75V344.5H155.65V347.0H159.55V363.5H163.45V370.9H167.34V371.8H171.24V370.8H175.14V341.5H179.03V341.5H182.93V374.1H186.83V376.7H190.73V375.8H194.62V395.7H198.52V392.9H202.42V361.3H206.32V352.9H210.21V344.0H214.11V344.4H218.01V343.8H221.90V346.1H225.80V346.0H229.70V345.8H233.60V341.5H237.49V341.5H241.39V341.5H245.29V392.1H249.18V367.1H253.08V375.9H256.98V370.1H260.88V351.3H264.77V358.8H268.67V356.7H272.57V360.1H276.47V347.8H280.36V346.7H284.26V348.9H288.16V350.1H292.05V425.2H295.95V426.8H299.85V423.3H303.75V383.7H307.64V408.4H311.54V425.5H315.44V405.3H319.34V347.0H323.23V473.3H327.13V409.7H331.03V452.4H334.92V360.4H338.82V352.6H342.72V363.6H346.62V348.1H350.51V351.5H354.41V348.0H358.31V582.6H362.21V662.0H366.10V349.3H370.00V346.0H373.90V341.5H377.79V341.5H381.69V347.5H385.59V351.4H389.49V346.1H393.38V351.1H397.28V341.5H401.18V341.5H405.08V346.8H408.97V345.7H412.87V350.5H416.77V349.8H420.66V351.7H424.56V349.5H428.46V348.8H432.36V349.2H436.25V354.4H440.15V349.8H444.05V350.2H447.95V354.6H451.84V345.3H455.74V344.2H459.64V345.4H463.53V343.8H467.43V343.6H471.33V345.0H475.23V344.2H479.12V414.8H483.02V391.1H486.92V351.3H490.82V350.9H494.71V348.3H498.61V347.0H502.51V367.5H506.40V341.5H510.30V341.5H514.20V430.6H518.10V385.1H521.99V433.3H525.89V347.8H529.79V345.3H533.68V349.5H537.58V381.4H541.48V381.7H545.38V341.5H549.27V341.5H553.17V341.5H557.07V341.5H560.97V377.8H564.86V363.5H568.76V341.5H572.66V341.5H576.55V365.2H580.45V344.4H584.35V346.9H588.25V347.2H592.14V402.4H596.04V397.5H599.94V390.1H603.84V341.5H607.73V346.5H611.63V354.2H615.53V358.8H619.42V344.1H623.32V341.5H627.22V341.5H631.12V341.5H635.01V341.5H638.91V341.5H642.81V341.5H646.71V503.0H650.60V357.6H654.50V358.5H658.40V355.2H662.29V377.2H666.19V372.1H670.09V345.6H673.99V368.2H677.88V360.1H681.78V369.1H685.68V375.7H689.58V399.7H693.47V425.1H697.37V348.7H701.27V347.5H705.16V349.9H709.06V345.5H712.96V343.5H716.86V344.5H720.75V344.6H724.65V341.5H728.55V341.5H732.45V341.5H736.34V351.8H740.24V345.1H744.14V348.3H748.03V348.0H751.93V341.5H755.83V341.5H759.73V343.6H763.62V343.9H767.52V352.6H771.42V353.1H775.32V351.6H779.21V341.5H783.11V341.5H787.01V341.5H790.90V341.5H794.80V417.1H798.70V425.2H802.60V347.5H806.49V345.4H810.39V345.8H814.29V345.8H818.18V346.7H822.08V351.8H825.98V350.5H829.88V341.5H833.77V341.5H837.67V398.2H841.57V394.6H845.47V380.3H849.36V341.5H853.26V341.5H857.16V341.5H861.05V361.5H864.95V363.4H868.85V360.4H872.75V353.7H876.64V341.5H880.54V341.5H884.44V341.5H888.34V341.5H892.23V341.5H896.13V341.5H900.03V341.5H903.92V341.5H907.82V341.5H911.72V341.5H915.62V341.5H919.51V357.9H923.41V358.2H927.31V353.5H931.21V341.5H935.10V341.5H939.00V343.7H942.90V344.5H946.79V344.8H950.69V344.6H954.59V344.7H958.49V341.5H962.38V341.5H966.28V341.5H970.18V341.5H974.08V341.5H977.97V341.5H981.87V341.5H985.77V341.5H989.66V341.5H993.56V341.5H997.46V341.5H1001.36V349.0H1005.25V354.5H1009.15V348.8H1013.05V350.8H1016.95V353.8H1020.84V347.8H1024.74V341.5H1028.64V341.5H1032.53V341.5H1036.43V343.7H1040.33V344.5H1044.23V344.9H1048.12V341.5H1052.02V341.5H1055.92V341.5H1059.82V344.2H1063.71V350.0H1067.61V344.6H1071.51V344.1H1075.40V344.9H1079.30V343.7H1083.20V353.5H1087.10V351.7H1090.99V351.6H1094.89V355.5H1098.79V354.4H1102.68V341.5H1106.58V341.5H1110.48V416.4H1114.38V421.3H1118.27V341.5H1122.17V341.5H1126.07V341.5H1129.97V348.2H1133.86V348.2H1137.76V353.3H1141.66V345.6H1145.55V376.8H1149.45V380.9H1153.35V349.0H1157.25V348.3H1161.14V387.2H1165.04V373.1H1168.94V366.2H1172.84V392.6H1176.73V341.5H1180.63V341.5H1184.53V341.5H1188.42V341.5H1192.32V344.3H1196.22V343.4H1200.12V343.5H1204.01V349.7H1207.91V347.6H1211.81V349.1H1215.71V341.5H1219.60V345.1H1223.50V344.7H1227.40V345.0H1231.29V346.5H1235.19V346.8H1239.09V345.6H1242.99V345.0H1246.88V346.7H1250.78V343.4H1254.68V343.9H1258.58V345.1H1262.47V372.4H1266.37V365.6H1270.27V366.7H1274.16V344.8H1278.06V347.9H1281.96V389.6H1285.86V398.0H1289.75V361.9H1293.65V361.0H1297.55V341.5H1301.45V341.5H1305.34V352.2H1309.24V353.5H1313.14V350.4H1317.03V356.0H1320.93V350.0H1324.83V348.6H1328.73V346.9H1332.62V341.5H1336.52V341.5H1340.42V341.5H1344.32V522.3H1348.21V356.5H1352.11V345.8H1356.01V346.4H1359.90V347.3H1363.80V345.8H1367.70V347.4H1371.60V345.6H1375.49V341.5H1379.39V341.5H1383.29V341.5H1387.18V341.5H1391.08V364.1H1394.98V356.8H1398.88V364.6H1402.77V348.9H1406.67V355.0H1410.57V350.0H1414.47V414.6H1418.36V469.3H1422.26V341.5H1426.16V341.5H1430.05V341.5H1433.95V341.5H1437.85V387.8H1441.75V345.2H1445.64V343.5H1449.54V344.3H1453.44V345.6H1457.34V346.6H1461.23V346.3H1465.13V363.2H1469.03V360.0H1472.92V351.7H1476.82V355.7H1480.72V351.3H1484.62V524.4H1488.51V471.5H1492.41V439.4H1496.31V359.8H1500.21V348.8H1504.10V357.0H1508.00V341.5Z" fill="#1c74ba" fill-opacity="0.083"/>
<path d="M85.50,341.5V379.5H89.40V371.3H93.29V378.5H97.19V359.9H101.09V347.2H104.99V350.6H108.88V352.7H112.78V353.2H116.68V353.1H120.58V347.4H124.47V345.3H128.37V344.3H132.27V343.4H136.16V347.8H140.06V369.1H143.96V381.3H147.86V367.4H151.75V363.7H155.65V372.8H159.55V347.2H163.45V351.4H167.34V347.4H171.24V351.6H175.14V362.8H179.03V380.0H182.93V354.0H186.83V355.9H190.73V364.5H194.62V364.0H198.52V368.8H202.42V376.1H206.32V375.3H210.21V343.8H214.11V345.3H218.01V345.3H221.90V343.4H225.80V344.5H229.70V343.5H233.60V343.7H237.49V341.5H241.39V341.5H245.29V341.5H249.18V426.2H253.08V412.0H256.98V397.0H260.88V492.9H264.77V433.8H268.67V458.0H272.57V522.4H276.47V433.6H280.36V341.5H284.26V341.5H288.16V361.9H292.05V375.1H295.95V378.2H299.85V386.5H303.75V389.8H307.64V370.1H311.54V373.8H315.44V375.4H319.34V369.4H323.23V341.5H327.13V341.5H331.03V341.5H334.92V341.5H338.82V344.6H342.72V345.3H346.62V347.2H350.51V350.9H354.41V348.9H358.31V345.3H362.21V344.2H366.10V341.5H370.00V341.5H373.90V341.5H377.79V341.5H381.69V341.5H385.59V341.5H389.49V341.5H393.38V341.5H397.28V341.5H401.18V349.8H405.08V347.8H408.97V347.9H412.87V374.1H416.77V361.7H420.66V382.3H424.56V392.3H428.46V391.2H432.36V344.8H436.25V345.1H440.15V344.3H444.05V343.7H447.95V433.5H451.84V433.8H455.74V353.6H459.64V353.7H463.53V353.4H467.43V341.5H471.33V341.5H475.23V341.5H479.12V341.5H483.02V368.0H486.92V374.3H490.82V377.3H494.71V363.2H498.61V367.2H502.51V344.1H506.40V344.9H510.30V343.5H514.20V343.9H518.10V355.0H521.99V354.6H525.89V356.4H529.79V379.2H533.68V390.2H537.58V362.1H541.48V353.6H545.38V349.1H549.27V441.9H553.17V525.2H557.07V353.5H560.97V354.3H564.86V359.9H568.76V383.3H572.66V395.0H576.55V348.7H580.45V353.5H584.35V348.0H588.25V353.5H592.14V350.0H596.04V349.7H599.94V347.4H603.84V341.5H607.73V341.5H611.63V345.1H615.53V346.0H619.42V381.7H623.32V411.3H627.22V341.5H631.12V341.5H635.01V341.5H638.91V350.2H642.81V348.5H646.71V355.9H650.60V380.8H654.50V379.9H658.40V350.1H662.29V349.8H666.19V341.5H670.09V341.5H673.99V341.5H677.88V359.6H681.78V364.8H685.68V349.7H689.58V352.8H693.47V351.3H697.37V347.1H701.27V345.2H705.16V355.3H709.06V354.4H712.96V362.1H716.86V347.2H720.75V345.7H724.65V341.5H728.55V346.3H732.45V344.8H736.34V344.5H740.24V344.6H744.14V346.3H748.03V345.8H751.93V344.0H755.83V344.5H759.73V346.3H763.62V355.4H767.52V355.8H771.42V349.2H775.32V350.9H779.21V351.0H783.11V345.9H787.01V347.5H790.90V345.6H794.80V348.2H798.70V353.8H802.60V351.3H806.49V520.5H810.39V368.3H814.29V359.4H818.18V363.1H822.08V341.5H825.98V341.5H829.88V344.7H833.77V347.0H837.67V347.9H841.57V344.1H845.47V344.2H849.36V344.3H853.26V341.5H857.16V341.5H861.05V361.2H864.95V357.3H868.85V360.0H872.75V518.4H876.64V455.6H880.54V559.7H884.44V341.5H888.34V341.5H892.23V341.5H896.13V341.5H900.03V341.5H903.92V341.5H907.82V345.9H911.72V346.3H915.62V341.5H919.51V341.5H923.41V341.5H927.31V341.5H931.21V341.5H935.10V341.5H939.00V341.5H942.90V341.5H946.79V341.5H950.69V345.4H954.59V345.2H958.49V345.3H962.38V345.5H966.28V345.3H970.18V341.5H974.08V341.5H977.97V341.5H981.87V341.5H985.77V341.5H989.66V341.5H993.56V370.0H997.46V380.9H1001.36V377.6H1005.25V341.5H1009.15V341.5H1013.05V344.7H1016.95V346.4H1020.84V346.4H1024.74V341.5H1028.64V341.5H1032.53V341.5H1036.43V341.5H1040.33V341.5H1044.23V341.5H1048.12V344.0H1052.02V346.5H1055.92V348.2H1059.82V346.1H1063.71V349.5H1067.61V354.6H1071.51V358.1H1075.40V341.5H1079.30V341.5H1083.20V341.5H1087.10V341.5H1090.99V350.4H1094.89V347.1H1098.79V341.5H1102.68V341.5H1106.58V341.5H1110.48V341.5H1114.38V341.5H1118.27V341.5H1122.17V341.5H1126.07V341.5H1129.97V346.8H1133.86V346.5H1137.76V346.9H1141.66V341.5H1145.55V341.5H1149.45V341.5H1153.35V371.0H1157.25V383.4H1161.14V352.1H1165.04V352.9H1168.94V447.9H1172.84V341.5H1176.73V341.5H1180.63V341.5H1184.53V341.5H1188.42V380.3H1192.32V372.1H1196.22V392.9H1200.12V401.5H1204.01V348.3H1207.91V346.2H1211.81V344.7H1215.71V341.5H1219.60V343.6H1223.50V341.5H1227.40V341.5H1231.29V353.7H1235.19V350.8H1239.09V349.6H1242.99V346.1H1246.88V347.5H1250.78V345.1H1254.68V375.3H1258.58V398.6H1262.47V345.3H1266.37V343.5H1270.27V389.0H1274.16V401.0H1278.06V394.0H1281.96V341.5H1285.86V341.5H1289.75V387.8H1293.65V389.5H1297.55V392.3H1301.45V388.1H1305.34V383.2H1309.24V343.1H1313.14V356.3H1317.03V363.1H1320.93V341.5H1324.83V341.5H1328.73V341.5H1332.62V347.7H1336.52V346.6H1340.42V346.5H1344.32V350.5H1348.21V349.9H1352.11V345.1H1356.01V344.0H1359.90V351.4H1363.80V341.5H1367.70V384.6H1371.60V370.9H1375.49V341.5H1379.39V341.5H1383.29V341.5H1387.18V341.5H1391.08V341.5H1394.98V341.5H1398.88V341.5H1402.77V341.5H1406.67V341.5H1410.57V341.5H1414.47V384.0H1418.36V389.2H1422.26V341.5H1426.16V341.5H1430.05V343.7H1433.95V344.4H1437.85V353.2H1441.75V351.1H1445.64V350.0H1449.54V350.6H1453.44V349.3H1457.34V341.5H1461.23V341.5H1465.13V341.5H1469.03V353.6H1472.92V355.6H1476.82V356.9H1480.72V344.9H1484.62V345.6H1488.51V347.1H1492.41V346.7H1496.31V341.5H1500.21V384.8H1504.10V383.3H1508.00V341.5Z" fill="#1c74ba" fill-opacity="0.083"/>
<path d="M85.50,341.5V341.5H89.40V341.5H93.29V366.0H97.19V357.0H101.09V409.4H104.99V379.5H108.88V350.0H112.78V347.0H116.68V451.4H120.58V401.3H124.47V409.3H128.37V399.9H132.27V363.4H136.16V354.6H140.06V354.7H143.96V350.5H147.86V351.4H151.75V349.0H155.65V349.3H159.55V347.3H163.45V348.6H167.34V365.0H171.24V365.5H175.14V363.3H179.03V361.3H182.93V341.5H186.83V341.5H190.73V341.5H194.62V344.7H198.52V344.9H202.42V343.8H206.32V343.2H210.21V364.5H214.11V379.7H218.01V353.2H221.90V354.6H225.80V350.2H229.70V350.7H233.60V348.8H237.49V355.7H241.39V354.0H245.29V350.8H249.18V358.1H253.08V360.4H256.98V372.8H260.88V341.5H264.77V373.3H268.67V388.5H272.57V374.6H276.47V341.5H280.36V341.5H284.26V341.5H288.16V363.5H292.05V354.2H295.95V356.3H299.85V489.6H303.75V424.8H307.64V454.3H311.54V477.2H315.44V351.4H319.34V349.7H323.23V369.4H327.13V356.1H331.03V368.0H334.92V350.7H338.82V350.2H342.72V343.9H346.62V344.5H350.51V349.8H354.41V360.4H358.31V355.1H362.21V353.2H366.10V350.5H370.00V348.0H373.90V346.0H377.79V347.8H381.69V347.0H385.59V341.5H389.49V341.5H393.38V361.2H397.28V363.3H401.18V355.4H405.08V365.6H408.97V375.2H412.87V373.9H416.77V357.6H420.66V367.8H424.56V345.3H428.46V345.9H432.36V346.1H436.25V347.5H440.15V347.6H444.05V350.4H447.95V341.5H451.84V361.2H455.74V361.0H459.64V354.2H463.53V351.4H467.43V372.9H471.33V400.8H475.23V360.3H479.12V366.1H483.02V353.0H486.92V427.3H490.82V344.9H494.71V344.2H498.61V344.7H502.51V350.4H506.40V348.6H510.30V350.6H514.20V360.8H518.10V357.9H521.99V420.0H525.89V402.5H529.79V346.2H533.68V345.6H537.58V345.2H541.48V352.7H545.38V357.5H549.27V434.8H553.17V427.4H557.07V468.6H560.97V343.3H564.86V343.6H568.76V341.5H572.66V406.3H576.55V355.4H580.45V358.9H584.35V356.9H588.25V362.9H592.14V351.4H596.04V351.1H599.94V403.8H603.84V409.7H607.73V351.0H611.63V351.3H615.53V347.8H619.42V350.9H623.32V358.9H627.22V356.8H631.12V356.5H635.01V380.4H638.91V364.0H642.81V374.9H646.71V380.3H650.60V343.5H654.50V343.4H658.40V344.3H662.29V360.3H666.19V360.5H670.09V361.2H673.99V341.5H677.88V341.5H681.78V341.5H685.68V369.2H689.58V391.9H693.47V367.4H697.37V368.4H701.27V392.5H705.16V385.6H709.06V380.3H712.96V367.4H716.86V343.5H720.75V357.6H724.65V351.7H728.55V353.3H732.45V352.3H736.34V341.5H740.24V341.5H744.14V341.5H748.03V341.5H751.93V341.5H755.83V364.4H759.73V354.6H763.62V360.1H767.52V362.6H771.42V352.7H775.32V352.7H779.21V356.5H783.11V341.5H787.01V341.5H790.90V341.5H794.80V352.4H798.70V349.1H802.60V342.7H806.49V343.5H810.39V344.1H814.29V343.3H818.18V351.2H822.08V351.4H825.98V352.8H829.88V356.8H833.77V352.5H837.67V353.0H841.57V357.2H845.47V354.2H849.36V355.8H853.26V352.1H857.16V350.9H861.05V355.0H864.95V355.8H868.85V341.5H872.75V341.5H876.64V344.5H880.54V346.3H884.44V341.5H888.34V349.2H892.23V346.1H896.13V354.4H900.03V350.1H903.92V356.8H907.82V353.0H911.72V349.2H915.62V345.2H919.51V348.3H923.41V346.2H927.31V344.2H931.21V346.6H935.10V344.2H939.00V343.8H942.90V342.8H946.79V351.7H950.69V352.9H954.59V353.1H958.49V348.8H962.38V341.5H966.28V341.5H970.18V341.5H974.08V341.5H977.97V341.5H981.87V341.5H985.77V341.5H989.66V341.5H993.56V341.5H997.46V345.1H1001.36V343.8H1005.25V345.9H1009.15V344.0H1013.05V348.8H1016.95V346.1H1020.84V349.9H1024.74V341.5H1028.64V341.5H1032.53V341.5H1036.43V341.5H1040.33V348.7H1044.23V345.2H1048.12V346.4H1052.02V345.0H1055.92V345.2H1059.82V347.4H1063.71V341.5H1067.61V341.5H1071.51V341.5H1075.40V341.5H1079.30V409.0H1083.20V395.9H1087.10V341.5H1090.99V341.5H1094.89V343.8H1098.79V355.7H1102.68V351.0H1106.58V341.5H1110.48V341.5H1114.38V341.5H1118.27V372.7H1122.17V378.6H1126.07V341.5H1129.97V341.5H1133.86V341.5H1137.76V346.1H1141.66V345.5H1145.55V341.5H1149.45V341.5H1153.35V341.5H1157.25V352.3H1161.14V356.6H1165.04V347.1H1168.94V347.8H1172.84V347.7H1176.73V345.6H1180.63V341.5H1184.53V341.5H1188.42V341.5H1192.32V341.5H1196.22V366.4H1200.12V341.5H1204.01V341.5H1207.91V341.5H1211.81V352.5H1215.71V352.0H1219.60V341.5H1223.50V341.5H1227.40V341.5H1231.29V376.6H1235.19V383.7H1239.09V369.9H1242.99V358.2H1246.88V355.2H1250.78V357.9H1254.68V353.8H1258.58V351.1H1262.47V349.8H1266.37V352.1H1270.27V341.5H1274.16V341.5H1278.06V341.5H1281.96V341.5H1285.86V341.5H1289.75V341.5H1293.65V341.5H1297.55V381.4H1301.45V398.8H1305.34V389.0H1309.24V390.1H1313.14V341.5H1317.03V341.5H1320.93V378.6H1324.83V370.7H1328.73V368.5H1332.62V350.0H1336.52V350.2H1340.42V352.0H1344.32V351.1H1348.21V349.6H1352.11V341.5H1356.01V341.5H1359.90V347.3H1363.80V351.0H1367.70V348.5H1371.60V341.5H1375.49V341.5H1379.39V353.8H1383.29V351.1H1387.18V345.8H1391.08V347.3H1394.98V344.8H1398.88V343.2H1402.77V343.7H1406.67V344.0H1410.57V344.1H1414.47V353.0H1418.36V348.6H1422.26V350.1H1426.16V346.7H1430.05V346.3H1433.95V341.5H1437.85V341.5H1441.75V341.5H1445.64V415.4H1449.54V396.4H1453.44V354.3H1457.34V349.5H1461.23V352.9H1465.13V350.9H1469.03V341.5H1472.92V341.5H1476.82V341.5H1480.72V345.6H1484.62V343.9H1488.51V343.8H1492.41V344.7H1496.31V341.5H1500.21V341.5H1504.10V341.5H1508.00V341.5Z" fill="#1c74ba" fill-opacity="0.083"/>
<path d="M85.50,199.7V199.7H89.40V199.9H93.29V199.4H97.19V198.7H101.09V198.5H104.99V204.2H108.88V196.9H112.78V200.4H116.68V196.2H120.58V197.6H124.47V195.4H128.37V198.7H132.27V197.1H136.16V198.5H140.06V201.1H143.96V199.7H147.86V199.3H151.75V200.8H155.65V191.8H159.55V203.4H163.45V201.2H167.34V197.8H171.24V195.4H175.14V196.8H179.03V198.1H182.93V199.1H186.83V194.9H190.73V203.6H194.62V194.1H198.52V201.6H202.42V203.5H206.32V197.6H210.21V200.1H214.11V199.3H218.01V192.9H221.90V198.1H225.80V199.3H229.70V202.1H233.60V198.1H237.49V199.1H241.39V201.7H245.29V198.9H249.18V196.5H253.08V200.3H256.98V198.3H260.88V195.7H264.77V197.5H268.67V198.9H272.57V196.8H276.47V202.0H280.36V197.0H284.26V197.9H288.16V197.2H292.05V197.1H295.95V195.5H299.85V197.5H303.75V198.0H307.64V199.2H311.54V192.5H315.44V199.9H319.34V197.6H323.23V195.7H327.13V199.0H331.03V195.1H334.92V200.6H338.82V200.4H342.72V194.8H346.62V197.0H350.51V200.2H354.41V194.4H358.31V198.2H362.21V194.1H366.10V195.6H370.00V199.7H373.90V202.6H377.79V194.5H381.69V194.1H385.59V197.5H389.49V197.3H393.38V200.0H397.28V195.1H401.18V195.3H405.08V200.6H408.97V201.1H412.87V198.3H416.77V197.1H420.66V198.4H424.56V196.9H428.46V195.0H432.36V199.7H436.25V194.5H440.15V201.1H444.05V194.4H447.95V195.9H451.84V195.9H455.74V192.7H459.64V200.6H463.53V197.2H467.43V198.2H471.33V193.7H475.23V193.1H479.12V197.4H483.02V197.1H486.92V194.6H490.82V199.2H494.71V198.7H498.61V196.0H502.51V199.0H506.40V196.7H510.30V201.8H514.20V197.5H518.10V194.9H521.99V194.2H525.89V196.1H529.79V197.3H533.68V195.8H537.58V197.9H541.48V196.5H545.38V195.7H549.27V203.4H553.17V195.9H557.07V193.9H560.97V194.5H564.86V203.3H568.76V200.8H572.66V200.7H576.55V197.6H580.45V201.5H584.35V202.6H588.25V199.8H592.14V196.4H596.04V197.0H599.94V197.7H603.84V200.5H607.73V201.3H611.63V201.6H615.53V199.6H619.42V202.8H623.32V199.2H627.22V200.2H631.12V200.9H635.01V200.1H638.91V199.0H642.81V200.1H646.71V205.0H650.60V198.7H654.50V198.8H658.40V198.5H662.29V196.1H666.19V203.5H670.09V199.7H673.99V202.5H677.88V197.5H681.78V204.8H685.68V202.0H689.58V199.7H693.47V201.8H697.37V201.9H701.27V202.0H705.16V205.1H709.06V204.4H712.96V204.6H716.86V205.5H720.75V200.4H724.65V200.5H728.55V197.3H732.45V202.5H736.34V207.3H740.24V202.1H744.14V200.8H748.03V199.3H751.93V195.3H755.83V204.1H759.73V200.5H763.62V203.5H767.52V207.0H771.42V204.2H775.32V205.5H779.21V203.7H783.11V204.8H787.01V198.1H790.90V202.5H794.80V204.6H798.70V201.3H802.60V202.9H806.49V205.2H810.39V207.0H814.29V204.2H818.18V206.4H822.08V208.0H825.98V202.6H829.88V202.3H833.77V200.2H837.67V203.7H841.57V203.5H845.47V207.1H849.36V202.8H853.26V206.5H857.16V202.2H861.05V204.8H864.95V206.8H868.85V207.5H872.75V203.2H876.64V205.1H880.54V208.2H884.44V206.5H888.34V208.0H892.23V202.1H896.13V203.8H900.03V208.8H903.92V199.9H907.82V204.6H911.72V204.7H915.62V204.8H919.51V207.2H923.41V205.9H927.31V206.0H931.21V206.5H935.10V207.8H939.00V208.4H942.90V205.4H946.79V207.6H950.69V205.3H954.59V209.5H958.49V210.7H962.38V205.4H966.28V207.2H970.18V210.6H974.08V208.2H977.97V207.3H981.87V208.1H985.77V208.2H989.66V209.4H993.56V204.5H997.46V208.7H1001.36V209.5H1005.25V206.7H1009.15V210.3H1013.05V208.0H1016.95V208.9H1020.84V209.9H1024.74V207.8H1028.64V206.0H1032.53V209.3H1036.43V211.3H1040.33V211.4H1044.23V209.7H1048.12V206.9H1052.02V210.6H1055.92V209.3H1059.82V207.1H1063.71V208.3H1067.61V207.2H1071.51V209.0H1075.40V208.2H1079.30V211.3H1083.20V207.0H1087.10V210.3H1090.99V207.9H1094.89V206.9H1098.79V207.9H1102.68V209.3H1106.58V209.3H1110.48V208.0H1114.38V209.4H1118.27V211.6H1122.17V208.1H1126.07V207.3H1129.97V205.8H1133.86V207.7H1137.76V209.4H1141.66V206.7H1145.55V209.7H1149.45V211.5H1153.35V210.2H1157.25V209.7H1161.14V207.5H1165.04V208.7H1168.94V210.5H1172.84V208.6H1176.73V207.6H1180.63V204.7H1184.53V207.4H1188.42V209.7H1192.32V209.5H1196.22V209.7H1200.12V206.2H1204.01V206.6H1207.91V208.3H1211.81V206.9H1215.71V206.4H1219.60V207.3H1223.50V207.4H1227.40V208.8H1231.29V206.4H1235.19V206.8H1239.09V208.4H1242.99V206.2H1246.88V205.3H1250.78V205.3H1254.68V208.5H1258.58V206.0H1262.47V206.2H1266.37V206.6H1270.27V202.9H1274.16V204.4H1278.06V203.0H1281.96V206.7H1285.86V208.2H1289.75V204.8H1293.65V206.4H1297.55V204.5H1301.45V205.7H1305.34V205.0H1309.24V203.3H1313.14V206.2H1317.03V201.1H1320.93V203.0H1324.83V203.5H1328.73V204.1H1332.62V202.6H1336.52V203.6H1340.42V202.2H1344.32V203.0H1348.21V202.9H1352.11V204.8H1356.01V202.0H1359.90V205.6H1363.80V204.4H1367.70V205.2H1371.60V205.5H1375.49V202.7H1379.39V203.7H1383.29V203.1H1387.18V204.6H1391.08V202.0H1394.98V205.2H1398.88V203.1H1402.77V204.8H1406.67V202.7H1410.57V201.5H1414.47V203.0H1418.36V200.5H1422.26V201.5H1426.16V203.6H1430.05V200.4H1433.95V202.0H1437.85V204.8H1441.75V202.6H1445.64V202.8H1449.54V201.7H1453.44V201.5H1457.34V202.5H1461.23V202.7H1465.13V203.4H1469.03V202.1H1472.92V201.5H1476.82V202.5H1480.72V200.7H1484.62V204.8H1488.51V202.8H1492.41V204.1H1496.31V202.9H1500.21V203.0H1504.10V202.5H1508.00V209.2H1504.10V208.3H1500.21V211.9H1496.31V209.0H1492.41V207.6H1488.51V208.4H1484.62V206.2H1480.72V209.2H1476.82V208.9H1472.92V209.9H1469.03V207.7H1465.13V208.0H1461.23V211.0H1457.34V206.8H1453.44V208.7H1449.54V211.2H1445.64V207.9H1441.75V208.9H1437.85V207.0H1433.95V211.8H1430.05V210.0H1426.16V206.9H1422.26V209.2H1418.36V209.3H1414.47V207.8H1410.57V210.0H1406.67V210.2H1402.77V209.6H1398.88V210.0H1394.98V208.4H1391.08V208.1H1387.18V211.7H1383.29V211.6H1379.39V213.1H1375.49V211.3H1371.60V210.7H1367.70V207.4H1363.80V209.5H1359.90V209.9H1356.01V208.0H1352.11V212.1H1348.21V208.2H1344.32V213.1H1340.42V209.8H1336.52V211.3H1332.62V208.9H1328.73V212.9H1324.83V209.6H1320.93V213.2H1317.03V212.5H1313.14V212.5H1309.24V209.0H1305.34V210.4H1301.45V212.7H1297.55V212.5H1293.65V213.6H1289.75V213.0H1285.86V212.8H1281.96V214.4H1278.06V213.2H1274.16V211.5H1270.27V213.2H1266.37V212.0H1262.47V213.8H1258.58V215.0H1254.68V212.6H1250.78V213.1H1246.88V211.8H1242.99V213.7H1239.09V212.2H1235.19V216.7H1231.29V214.6H1227.40V212.9H1223.50V217.8H1219.60V214.9H1215.71V214.5H1211.81V214.7H1207.91V215.9H1204.01V216.7H1200.12V212.6H1196.22V214.2H1192.32V214.3H1188.42V218.3H1184.53V214.4H1180.63V215.2H1176.73V213.2H1172.84V214.7H1168.94V217.0H1165.04V213.7H1161.14V216.9H1157.25V218.3H1153.35V214.8H1149.45V215.1H1145.55V218.2H1141.66V219.7H1137.76V215.3H1133.86V213.6H1129.97V216.2H1126.07V216.0H1122.17V218.3H1118.27V215.7H1114.38V215.8H1110.48V215.1H1106.58V216.1H1102.68V216.3H1098.79V217.7H1094.89V216.9H1090.99V216.3H1087.10V216.9H1083.20V215.7H1079.30V214.1H1075.40V218.0H1071.51V214.7H1067.61V217.2H1063.71V213.4H1059.82V215.3H1055.92V216.4H1052.02V213.1H1048.12V217.0H1044.23V215.9H1040.33V216.7H1036.43V217.8H1032.53V213.7H1028.64V217.0H1024.74V215.9H1020.84V217.2H1016.95V216.4H1013.05V214.7H1009.15V218.7H1005.25V219.1H1001.36V217.2H997.46V214.0H993.56V212.7H989.66V215.7H985.77V216.3H981.87V216.6H977.97V216.2H974.08V214.5H970.18V213.3H966.28V216.2H962.38V215.4H958.49V214.7H954.59V217.8H950.69V217.4H946.79V216.1H942.90V213.3H939.00V214.4H935.10V218.0H931.21V215.1H927.31V213.6H923.41V215.5H919.51V212.3H915.62V215.8H911.72V217.5H907.82V216.4H903.92V212.9H900.03V216.6H896.13V219.9H892.23V214.7H888.34V213.7H884.44V216.0H880.54V217.3H876.64V212.1H872.75V212.0H868.85V215.5H864.95V212.8H861.05V218.0H857.16V217.7H853.26V217.1H849.36V216.0H845.47V213.1H841.57V218.2H837.67V216.6H833.77V210.1H829.88V222.2H825.98V210.8H822.08V217.2H818.18V214.3H814.29V215.1H810.39V218.0H806.49V211.9H802.60V217.6H798.70V215.5H794.80V216.4H790.90V214.0H787.01V211.0H783.11V210.7H779.21V218.2H775.32V212.9H771.42V214.0H767.52V217.4H763.62V213.9H759.73V210.6H755.83V215.9H751.93V211.0H748.03V214.1H744.14V218.7H740.24V217.1H736.34V213.7H732.45V211.7H728.55V212.2H724.65V212.8H720.75V210.3H716.86V215.0H712.96V209.0H709.06V213.5H705.16V215.4H701.27V212.0H697.37V212.2H693.47V209.7H689.58V212.6H685.68V213.0H681.78V209.9H677.88V216.7H673.99V207.9H670.09V213.6H666.19V211.1H662.29V210.5H658.40V215.2H654.50V211.6H650.60V213.3H646.71V211.1H642.81V213.8H638.91V213.6H635.01V210.7H631.12V213.5H627.22V206.9H623.32V206.4H619.42V213.0H615.53V207.0H611.63V209.4H607.73V212.9H603.84V211.9H599.94V210.0H596.04V215.8H592.14V215.1H588.25V208.9H584.35V206.9H580.45V206.7H576.55V210.8H572.66V210.2H568.76V210.5H564.86V209.4H560.97V214.3H557.07V208.8H553.17V214.5H549.27V207.7H545.38V208.4H541.48V204.8H537.58V207.8H533.68V207.4H529.79V206.5H525.89V206.7H521.99V211.5H518.10V207.3H514.20V205.0H510.30V210.4H506.40V210.5H502.51V209.7H498.61V204.0H494.71V208.6H490.82V209.5H486.92V211.7H483.02V210.3H479.12V211.7H475.23V214.8H471.33V208.5H467.43V203.8H463.53V207.8H459.64V209.4H455.74V208.5H451.84V212.4H447.95V205.9H444.05V210.6H440.15V212.0H436.25V214.0H432.36V208.6H428.46V209.4H424.56V205.4H420.66V212.9H416.77V208.6H412.87V211.7H408.97V216.1H405.08V211.9H401.18V208.3H397.28V205.1H393.38V215.2H389.49V210.4H385.59V210.1H381.69V208.9H377.79V207.9H373.90V212.1H370.00V204.8H366.10V212.2H362.21V210.3H358.31V214.0H354.41V208.4H350.51V204.3H346.62V207.5H342.72V206.9H338.82V216.8H334.92V210.3H331.03V211.7H327.13V211.1H323.23V205.8H319.34V211.6H315.44V212.4H311.54V208.3H307.64V216.0H303.75V210.1H299.85V210.1H295.95V210.2H292.05V207.5H288.16V213.6H284.26V213.0H280.36V207.9H276.47V212.3H272.57V208.2H268.67V212.5H264.77V209.7H260.88V211.0H256.98V208.8H253.08V210.7H249.18V207.6H245.29V209.7H241.39V213.4H237.49V210.9H233.60V209.7H229.70V208.9H225.80V208.7H221.90V212.7H218.01V208.8H214.11V209.7H210.21V213.1H206.32V206.0H202.42V211.2H198.52V210.1H194.62V217.0H190.73V211.4H186.83V210.4H182.93V206.2H179.03V215.5H175.14V207.1H171.24V215.5H167.34V207.6H163.45V210.2H159.55V216.7H155.65V212.3H151.75V209.8H147.86V208.5H143.96V213.1H140.06V209.0H136.16V207.0H132.27V213.7H128.37V213.5H124.47V210.1H120.58V206.5H116.68V207.5H112.78V211.5H108.88V215.7H104.99V209.9H101.09V210.4H97.19V212.3H93.29V208.0H89.40V210.6H85.50Z" fill="#d818d8" fill-opacity="0.036"/>
<path d="M85.50,201.8V201.8H89.40V197.7H93.29V201.9H97.19V199.6H101.09V199.3H104.99V199.8H108.88V198.5H112.78V197.7H116.68V198.9H120.58V198.8H124.47V198.6H128.37V197.8H132.27V197.9H136.16V201.7H140.06V199.8H143.96V198.9H147.86V201.7H151.75V196.1H155.65V200.9H159.55V199.5H163.45V195.9H167.34V202.1H171.24V201.9H175.14V199.2H179.03V199.9H182.93V202.8H186.83V191.6H190.73V200.1H194.62V201.0H198.52V198.9H202.42V202.9H206.32V199.0H210.21V197.5H214.11V196.4H218.01V191.4H221.90V196.3H225.80V198.0H229.70V199.7H233.60V200.2H237.49V195.4H241.39V200.0H245.29V195.5H249.18V196.4H253.08V197.7H256.98V197.6H260.88V196.1H264.77V198.8H268.67V197.7H272.57V201.4H276.47V199.6H280.36V197.7H284.26V200.5H288.16V198.0H292.05V198.4H295.95V200.8H299.85V196.2H303.75V194.3H307.64V193.9H311.54V201.0H315.44V197.1H319.34V199.5H323.23V199.1H327.13V200.4H331.03V195.0H334.92V201.5H338.82V195.2H342.72V193.4H346.62V198.4H350.51V201.1H354.41V193.4H358.31V197.0H362.21V201.6H366.10V199.7H370.00V195.2H373.90V199.8H377.79V195.6H381.69V199.3H385.59V197.6H389.49V198.2H393.38V194.8H397.28V199.0H401.18V202.0H405.08V193.2H408.97V194.9H412.87V197.4H416.77V201.4H420.66V192.0H424.56V195.7H428.46V196.9H432.36V201.5H436.25V197.4H440.15V197.4H444.05V196.5H447.95V194.9H451.84V200.4H455.74V200.3H459.64V195.7H463.53V196.1H467.43V195.4H471.33V200.4H475.23V196.2H479.12V197.5H483.02V196.3H486.92V200.6H490.82V195.0H494.71V196.6H498.61V196.9H502.51V196.3H506.40V196.0H510.30V197.8H514.20V190.7H518.10V194.5H521.99V195.6H525.89V201.8H529.79V199.4H533.68V198.4H537.58V198.5H541.48V197.7H545.38V197.9H549.27V200.5H553.17V194.5H557.07V199.7H560.97V198.8H564.86V203.4H568.76V199.5H572.66V197.6H576.55V201.2H580.45V201.3H584.35V196.7H588.25V199.6H592.14V203.3H596.04V199.8H599.94V197.2H603.84V201.3H607.73V198.6H611.63V199.0H615.53V199.3H619.42V201.6H623.32V199.6H627.22V197.9H631.12V198.9H635.01V200.1H638.91V198.7H642.81V198.9H646.71V197.4H650.60V195.7H654.50V197.0H658.40V199.4H662.29V199.4H666.19V198.0H670.09V199.7H673.99V205.2H677.88V201.2H681.78V202.9H685.68V196.2H689.58V199.1H693.47V201.4H697.37V201.2H701.27V203.5H705.16V196.5H709.06V196.9H712.96V203.7H716.86V200.3H720.75V199.8H724.65V202.5H728.55V199.5H732.45V203.0H736.34V206.1H740.24V199.0H744.14V204.4H748.03V200.9H751.93V199.7H755.83V205.6H759.73V200.7H763.62V202.4H767.52V206.0H771.42V200.5H775.32V200.1H779.21V200.7H783.11V203.2H787.01V201.1H790.90V202.5H794.80V206.0H798.70V206.8H802.60V206.1H806.49V201.7H810.39V204.3H814.29V200.6H818.18V204.8H822.08V207.5H825.98V200.9H829.88V203.1H833.77V201.9H837.67V207.9H841.57V202.6H845.47V202.5H849.36V204.9H853.26V206.9H857.16V204.0H861.05V205.3H864.95V205.8H868.85V203.2H872.75V204.3H876.64V204.1H880.54V205.8H884.44V206.2H888.34V206.6H892.23V200.8H896.13V207.1H900.03V206.2H903.92V206.4H907.82V204.5H911.72V209.1H915.62V206.2H919.51V210.4H923.41V203.0H927.31V206.6H931.21V206.4H935.10V207.3H939.00V207.3H942.90V208.7H946.79V209.7H950.69V207.5H954.59V204.9H958.49V208.8H962.38V209.4H966.28V207.4H970.18V208.0H974.08V205.3H977.97V207.5H981.87V208.8H985.77V207.7H989.66V207.4H993.56V208.2H997.46V208.2H1001.36V206.2H1005.25V209.1H1009.15V208.4H1013.05V210.2H1016.95V208.7H1020.84V211.7H1024.74V210.1H1028.64V206.3H1032.53V208.7H1036.43V209.4H1040.33V207.6H1044.23V207.5H1048.12V210.2H1052.02V210.7H1055.92V208.9H1059.82V209.7H1063.71V211.1H1067.61V208.2H1071.51V209.2H1075.40V210.0H1079.30V209.2H1083.20V210.2H1087.10V208.6H1090.99V209.0H1094.89V208.6H1098.79V206.9H1102.68V209.3H1106.58V209.4H1110.48V209.9H1114.38V208.5H1118.27V210.9H1122.17V208.8H1126.07V208.9H1129.97V208.3H1133.86V209.6H1137.76V208.1H1141.66V207.0H1145.55V207.7H1149.45V210.9H1153.35V208.4H1157.25V208.2H1161.14V208.9H1165.04V208.1H1168.94V208.9H1172.84V208.7H1176.73V208.6H1180.63V207.1H1184.53V208.9H1188.42V209.7H1192.32V210.0H1196.22V209.2H1200.12V208.5H1204.01V208.2H1207.91V208.5H1211.81V206.7H1215.71V208.8H1219.60V204.0H1223.50V208.2H1227.40V206.3H1231.29V207.2H1235.19V206.2H1239.09V205.2H1242.99V205.5H1246.88V208.6H1250.78V205.5H1254.68V208.6H1258.58V203.6H1262.47V203.7H1266.37V206.2H1270.27V204.6H1274.16V205.8H1278.06V203.1H1281.96V204.2H1285.86V206.3H1289.75V205.3H1293.65V205.4H1297.55V207.4H1301.45V204.2H1305.34V206.3H1309.24V205.5H1313.14V201.8H1317.03V203.8H1320.93V202.6H1324.83V205.7H1328.73V205.7H1332.62V205.3H1336.52V203.7H1340.42V206.2H1344.32V204.5H1348.21V203.8H1352.11V204.3H1356.01V204.1H1359.90V202.4H1363.80V201.8H1367.70V204.2H1371.60V203.7H1375.49V201.2H1379.39V201.4H1383.29V201.3H1387.18V205.7H1391.08V204.6H1394.98V203.3H1398.88V204.3H1402.77V205.2H1406.67V205.4H1410.57V203.2H1414.47V204.0H1418.36V204.2H1422.26V203.4H1426.16V204.2H1430.05V203.2H1433.95V202.2H1437.85V199.8H1441.75V202.0H1445.64V201.9H1449.54V202.5H1453.44V202.2H1457.34V202.1H1461.23V202.1H1465.13V203.6H1469.03V202.3H1472.92V199.0H1476.82V203.1H1480.72V202.4H1484.62V203.7H1488.51V203.5H1492.41V203.7H1496.31V199.2H1500.21V203.0H1504.10V201.0H1508.00V208.3H1504.10V210.1H1500.21V210.9H1496.31V209.0H1492.41V207.8H1488.51V210.2H1484.62V211.2H1480.72V207.9H1476.82V207.7H1472.92V209.4H1469.03V212.2H1465.13V211.3H1461.23V207.2H1457.34V208.4H1453.44V208.7H1449.54V210.4H1445.64V207.6H1441.75V211.8H1437.85V208.8H1433.95V207.2H1430.05V208.5H1426.16V208.1H1422.26V210.3H1418.36V207.8H1414.47V212.1H1410.57V211.1H1406.67V210.9H1402.77V209.9H1398.88V209.6H1394.98V210.6H1391.08V209.3H1387.18V208.2H1383.29V209.0H1379.39V207.9H1375.49V211.3H1371.60V211.8H1367.70V211.1H1363.80V209.7H1359.90V210.2H1356.01V210.9H1352.11V211.7H1348.21V210.3H1344.32V211.5H1340.42V208.2H1336.52V210.2H1332.62V211.7H1328.73V212.8H1324.83V210.5H1320.93V213.8H1317.03V212.6H1313.14V212.6H1309.24V213.2H1305.34V215.6H1301.45V209.4H1297.55V211.5H1293.65V213.8H1289.75V215.2H1285.86V212.9H1281.96V215.1H1278.06V212.6H1274.16V214.0H1270.27V213.4H1266.37V216.1H1262.47V215.9H1258.58V213.1H1254.68V212.1H1250.78V214.3H1246.88V214.7H1242.99V213.4H1239.09V214.6H1235.19V216.7H1231.29V214.1H1227.40V216.8H1223.50V213.9H1219.60V215.2H1215.71V212.9H1211.81V213.6H1207.91V213.9H1204.01V213.0H1200.12V216.4H1196.22V215.2H1192.32V215.5H1188.42V213.3H1184.53V216.2H1180.63V213.8H1176.73V212.4H1172.84V214.4H1168.94V214.8H1165.04V216.5H1161.14V213.8H1157.25V213.0H1153.35V216.0H1149.45V214.6H1145.55V216.5H1141.66V215.5H1137.76V217.4H1133.86V213.9H1129.97V217.2H1126.07V218.5H1122.17V214.8H1118.27V213.1H1114.38V217.8H1110.48V215.4H1106.58V217.7H1102.68V217.2H1098.79V214.1H1094.89V214.3H1090.99V216.0H1087.10V215.4H1083.20V217.0H1079.30V213.7H1075.40V219.0H1071.51V213.3H1067.61V217.8H1063.71V215.9H1059.82V218.2H1055.92V216.8H1052.02V218.7H1048.12V213.5H1044.23V217.3H1040.33V214.2H1036.43V217.5H1032.53V216.5H1028.64V214.7H1024.74V216.4H1020.84V216.3H1016.95V217.6H1013.05V219.2H1009.15V219.1H1005.25V213.0H1001.36V214.3H997.46V218.0H993.56V215.6H989.66V213.6H985.77V218.6H981.87V214.5H977.97V217.0H974.08V212.7H970.18V217.6H966.28V217.9H962.38V213.0H958.49V220.1H954.59V216.7H950.69V214.9H946.79V216.3H942.90V217.0H939.00V213.6H935.10V219.8H931.21V216.9H927.31V217.0H923.41V218.0H919.51V212.5H915.62V213.7H911.72V211.6H907.82V214.0H903.92V216.9H900.03V216.3H896.13V212.8H892.23V216.2H888.34V213.6H884.44V216.1H880.54V218.6H876.64V213.9H872.75V214.5H868.85V214.2H864.95V213.3H861.05V213.1H857.16V215.1H853.26V211.9H849.36V214.2H845.47V217.6H841.57V217.5H837.67V211.9H833.77V214.9H829.88V212.4H825.98V214.0H822.08V216.8H818.18V216.8H814.29V218.1H810.39V210.9H806.49V217.2H802.60V215.8H798.70V217.2H794.80V213.2H790.90V220.9H787.01V216.9H783.11V216.8H779.21V214.8H775.32V217.1H771.42V213.4H767.52V212.6H763.62V213.4H759.73V210.8H755.83V212.7H751.93V218.1H748.03V211.4H744.14V219.1H740.24V212.0H736.34V210.9H732.45V218.4H728.55V213.3H724.65V211.0H720.75V214.9H716.86V210.9H712.96V215.8H709.06V213.3H705.16V214.2H701.27V212.4H697.37V210.0H693.47V215.0H689.58V216.1H685.68V213.3H681.78V215.4H677.88V209.1H673.99V213.1H670.09V210.0H666.19V214.0H662.29V215.6H658.40V207.9H654.50V213.3H650.60V221.5H646.71V210.4H642.81V212.3H638.91V213.2H635.01V211.9H631.12V218.7H627.22V207.7H623.32V212.3H619.42V213.1H615.53V209.4H611.63V211.9H607.73V208.1H603.84V208.9H599.94V212.9H596.04V208.1H592.14V208.6H588.25V210.6H584.35V211.3H580.45V210.8H576.55V210.8H572.66V211.2H568.76V210.7H564.86V211.0H560.97V206.8H557.07V213.3H553.17V209.8H549.27V211.6H545.38V209.7H541.48V211.3H537.58V208.4H533.68V209.3H529.79V209.7H525.89V208.4H521.99V209.3H518.10V218.1H514.20V208.2H510.30V210.4H506.40V212.7H502.51V210.6H498.61V206.5H494.71V208.8H490.82V212.5H486.92V204.7H483.02V208.4H479.12V214.1H475.23V211.7H471.33V208.4H467.43V209.2H463.53V207.6H459.64V211.8H455.74V216.7H451.84V214.7H447.95V211.1H444.05V212.3H440.15V209.4H436.25V206.2H432.36V213.9H428.46V216.9H424.56V206.6H420.66V210.0H416.77V210.5H412.87V205.8H408.97V209.6H405.08V215.5H401.18V204.0H397.28V211.5H393.38V207.0H389.49V212.2H385.59V208.3H381.69V205.4H377.79V205.2H373.90V207.9H370.00V209.5H366.10V205.8H362.21V208.9H358.31V208.2H354.41V210.5H350.51V207.5H346.62V215.3H342.72V207.0H338.82V210.3H334.92V211.9H331.03V209.6H327.13V209.9H323.23V217.2H319.34V210.0H315.44V212.0H311.54V215.6H307.64V206.3H303.75V212.3H299.85V211.3H295.95V208.6H292.05V212.4H288.16V210.6H284.26V205.0H280.36V212.6H276.47V208.3H272.57V212.2H268.67V207.3H264.77V211.3H260.88V211.2H256.98V209.3H253.08V212.2H249.18V211.7H245.29V209.4H241.39V206.6H237.49V212.0H233.60V213.1H229.70V210.8H225.80V211.1H221.90V208.4H218.01V212.6H214.11V210.3H210.21V207.2H206.32V210.8H202.42V209.5H198.52V209.1H194.62V209.1H190.73V209.1H186.83V207.0H182.93V211.1H179.03V217.8H175.14V216.0H171.24V212.8H167.34V210.4H163.45V212.2H159.55V210.3H155.65V214.8H151.75V211.3H147.86V213.2H143.96V210.4H140.06V209.6H136.16V213.0H132.27V208.6H128.37V206.8H124.47V208.8H120.58V206.3H116.68V212.6H112.78V212.9H108.88V214.1H104.99V214.8H101.09V212.2H97.19V212.1H93.29V215.6H89.40V212.9H85.50Z" fill="#d818d8" fill-opacity="0.036"/>
<path d="M85.50,198.9V198.9H89.40V197.7H93.29V199.6H97.19V197.3H101.09V203.0H104.99V195.7H108.88V197.3H112.78V198.4H116.68V204.1H120.58V194.6H124.47V201.6H128.37V196.4H132.27V194.7H136.16V194.1H140.06V199.7H143.96V199.3H147.86V198.1H151.75V201.4H155.65V202.0H159.55V192.5H163.45V197.6H167.34V198.1H171.24V201.0H175.14V196.2H179.03V198.3H182.93V199.1H186.83V198.3H190.73V200.4H194.62V194.9H198.52V202.1H202.42V198.0H206.32V194.9H210.21V194.9H214.11V197.0H218.01V195.4H221.90V202.0H225.80V198.8H229.70V199.5H233.60V196.7H237.49V198.3H241.39V196.8H245.29V200.0H249.18V198.6H253.08V194.1H256.98V199.0H260.88V199.1H264.77V195.8H268.67V202.1H272.57V196.3H276.47V201.4H280.36V199.6H284.26V196.9H288.16V197.7H292.05V195.3H295.95V201.4H299.85V196.4H303.75V197.9H307.64V197.6H311.54V196.2H315.44V197.9H319.34V200.2H323.23V196.1H327.13V194.8H331.03V193.2H334.92V198.8H338.82V196.9H342.72V202.3H346.62V200.1H350.51V202.0H354.41V197.1H358.31V197.7H362.21V194.4H366.10V199.1H370.00V197.3H373.90V198.0H377.79V195.4H381.69V199.9H385.59V195.6H389.49V193.7H393.38V197.4H397.28V200.5H401.18V200.3H405.08V200.2H408.97V195.8H412.87V193.8H416.77V191.9H420.66V198.1H424.56V195.5H428.46V197.8H432.36V200.4H436.25V199.8H440.15V196.6H444.05V201.2H447.95V199.2H451.84V200.7H455.74V200.9H459.64V199.3H463.53V200.6H467.43V195.9H471.33V194.7H475.23V192.7H479.12V192.2H483.02V191.5H486.92V195.3H490.82V201.7H494.71V198.5H498.61V195.2H502.51V197.9H506.40V199.7H510.30V198.3H514.20V196.5H518.10V197.2H521.99V197.2H525.89V200.5H529.79V203.5H533.68V198.5H537.58V201.1H541.48V201.5H545.38V199.8H549.27V200.2H553.17V199.7H557.07V201.1H560.97V197.9H564.86V197.4H568.76V195.4H572.66V197.4H576.55V201.4H580.45V200.5H584.35V199.5H588.25V200.3H592.14V201.2H596.04V201.9H599.94V199.3H603.84V201.0H607.73V200.1H611.63V199.7H615.53V200.5H619.42V200.5H623.32V197.4H627.22V198.4H631.12V200.7H635.01V199.1H638.91V201.2H642.81V198.5H646.71V203.6H650.60V197.4H654.50V199.1H658.40V199.2H662.29V199.7H666.19V199.0H670.09V196.4H673.99V201.0H677.88V195.2H681.78V203.8H685.68V199.0H689.58V205.7H693.47V198.7H697.37V199.3H701.27V198.5H705.16V199.1H709.06V202.6H712.96V199.2H716.86V199.8H720.75V197.9H724.65V202.1H728.55V198.1H732.45V198.9H736.34V203.9H740.24V204.1H744.14V199.9H748.03V199.8H751.93V198.9H755.83V201.9H759.73V200.4H763.62V195.9H767.52V202.6H771.42V201.2H775.32V204.0H779.21V199.4H783.11V201.8H787.01V203.7H790.90V203.2H794.80V204.0H798.70V204.0H802.60V204.4H806.49V202.1H810.39V205.6H814.29V201.1H818.18V203.4H822.08V203.6H825.98V203.6H829.88V203.2H833.77V207.1H837.67V203.7H841.57V205.3H845.47V199.0H849.36V202.6H853.26V204.1H857.16V204.5H861.05V199.5H864.95V209.5H868.85V204.4H872.75V204.9H876.64V208.4H880.54V203.0H884.44V205.2H888.34V198.5H892.23V206.3H896.13V202.5H900.03V207.5H903.92V203.9H907.82V202.5H911.72V205.1H915.62V207.7H919.51V204.1H923.41V206.0H927.31V204.3H931.21V201.2H935.10V208.9H939.00V204.9H942.90V205.5H946.79V206.2H950.69V205.6H954.59V210.7H958.49V209.0H962.38V207.6H966.28V204.0H970.18V208.5H974.08V208.1H977.97V207.4H981.87V210.2H985.77V208.3H989.66V209.2H993.56V211.7H997.46V211.4H1001.36V208.5H1005.25V207.9H1009.15V208.7H1013.05V210.1H1016.95V207.2H1020.84V211.3H1024.74V208.6H1028.64V209.3H1032.53V209.7H1036.43V207.5H1040.33V205.8H1044.23V210.4H1048.12V210.8H1052.02V209.1H1055.92V206.4H1059.82V209.5H1063.71V206.5H1067.61V209.4H1071.51V208.5H1075.40V208.9H1079.30V206.9H1083.20V208.3H1087.10V208.7H1090.99V210.2H1094.89V210.8H1098.79V208.9H1102.68V206.6H1106.58V210.2H1110.48V207.2H1114.38V208.8H1118.27V209.5H1122.17V208.9H1126.07V205.7H1129.97V206.1H1133.86V209.3H1137.76V209.2H1141.66V207.9H1145.55V206.4H1149.45V209.1H1153.35V209.9H1157.25V207.3H1161.14V210.0H1165.04V206.3H1168.94V209.2H1172.84V209.0H1176.73V210.5H1180.63V206.7H1184.53V205.9H1188.42V208.2H1192.32V209.2H1196.22V207.6H1200.12V207.9H1204.01V207.9H1207.91V207.8H1211.81V208.0H1215.71V209.9H1219.60V207.8H1223.50V203.7H1227.40V209.5H1231.29V207.5H1235.19V205.1H1239.09V207.4H1242.99V206.2H1246.88V206.8H1250.78V204.2H1254.68V206.8H1258.58V205.3H1262.47V206.4H1266.37V207.6H1270.27V207.6H1274.16V207.3H1278.06V203.9H1281.96V205.9H1285.86V203.5H1289.75V208.1H1293.65V203.9H1297.55V202.9H1301.45V205.8H1305.34V203.6H1309.24V202.7H1313.14V204.8H1317.03V205.2H1320.93V202.7H1324.83V206.5H1328.73V205.2H1332.62V204.2H1336.52V204.6H1340.42V206.9H1344.32V201.9H1348.21V205.4H1352.11V202.7H1356.01V204.5H1359.90V201.9H1363.80V201.7H1367.70V205.6H1371.60V203.8H1375.49V203.5H1379.39V204.8H1383.29V204.5H1387.18V202.2H1391.08V203.7H1394.98V202.2H1398.88V203.0H1402.77V204.7H1406.67V201.6H1410.57V203.8H1414.47V204.2H1418.36V204.0H1422.26V202.9H1426.16V201.4H1430.05V201.8H1433.95V202.3H1437.85V201.7H1441.75V202.7H1445.64V202.2H1449.54V202.9H1453.44V202.7H1457.34V203.9H1461.23V205.2H1465.13V201.4H1469.03V201.2H1472.92V202.4H1476.82V200.4H1480.72V201.8H1484.62V201.2H1488.51V200.7H1492.41V201.8H1496.31V201.4H1500.21V201.7H1504.10V202.6H1508.00V206.9H1504.10V207.9H1500.21V206.9H1496.31V209.5H1492.41V210.7H1488.51V209.4H1484.62V211.1H1480.72V208.1H1476.82V208.1H1472.92V210.4H1469.03V208.2H1465.13V208.2H1461.23V207.2H1457.34V209.9H1453.44V208.7H1449.54V207.3H1445.64V213.8H1441.75V207.6H1437.85V209.6H1433.95V211.3H1430.05V209.3H1426.16V206.1H1422.26V207.1H1418.36V210.1H1414.47V208.2H1410.57V209.1H1406.67V209.3H1402.77V206.6H1398.88V209.7H1394.98V209.4H1391.08V210.1H1387.18V212.4H1383.29V210.2H1379.39V208.3H1375.49V210.5H1371.60V207.8H1367.70V210.8H1363.80V209.9H1359.90V212.3H1356.01V213.2H1352.11V207.5H1348.21V211.9H1344.32V208.3H1340.42V209.7H1336.52V210.3H1332.62V211.2H1328.73V209.6H1324.83V212.8H1320.93V210.9H1317.03V212.0H1313.14V213.1H1309.24V210.9H1305.34V208.7H1301.45V209.8H1297.55V212.9H1293.65V213.7H1289.75V214.2H1285.86V212.2H1281.96V214.5H1278.06V212.8H1274.16V212.6H1270.27V213.7H1266.37V214.0H1262.47V213.1H1258.58V213.6H1254.68V213.7H1250.78V212.4H1246.88V216.8H1242.99V215.0H1239.09V213.3H1235.19V213.1H1231.29V213.9H1227.40V212.7H1223.50V215.4H1219.60V215.2H1215.71V214.9H1211.81V214.7H1207.91V215.3H1204.01V213.7H1200.12V213.7H1196.22V214.5H1192.32V216.2H1188.42V212.2H1184.53V213.5H1180.63V216.8H1176.73V214.5H1172.84V216.4H1168.94V213.9H1165.04V218.6H1161.14V215.3H1157.25V213.6H1153.35V215.0H1149.45V215.1H1145.55V217.9H1141.66V215.7H1137.76V215.2H1133.86V215.4H1129.97V216.4H1126.07V217.2H1122.17V215.9H1118.27V214.5H1114.38V214.5H1110.48V214.2H1106.58V217.0H1102.68V216.5H1098.79V219.8H1094.89V215.3H1090.99V218.6H1087.10V216.5H1083.20V216.3H1079.30V216.0H1075.40V218.0H1071.51V215.1H1067.61V214.8H1063.71V215.7H1059.82V217.9H1055.92V214.2H1052.02V213.8H1048.12V216.1H1044.23V216.3H1040.33V216.2H1036.43V216.6H1032.53V215.9H1028.64V213.7H1024.74V215.7H1020.84V217.6H1016.95V216.8H1013.05V216.8H1009.15V218.2H1005.25V218.0H1001.36V217.8H997.46V215.9H993.56V220.3H989.66V215.9H985.77V217.4H981.87V215.2H977.97V215.6H974.08V215.4H970.18V220.3H966.28V214.7H962.38V217.5H958.49V220.8H954.59V215.6H950.69V213.3H946.79V217.5H942.90V216.8H939.00V215.6H935.10V214.2H931.21V217.4H927.31V212.3H923.41V211.6H919.51V214.3H915.62V216.6H911.72V220.4H907.82V218.1H903.92V214.6H900.03V214.4H896.13V218.0H892.23V212.2H888.34V211.9H884.44V219.4H880.54V217.2H876.64V218.5H872.75V214.9H868.85V211.6H864.95V215.7H861.05V217.2H857.16V216.3H853.26V217.5H849.36V216.5H845.47V217.0H841.57V213.6H837.67V211.8H833.77V222.5H829.88V216.1H825.98V211.6H822.08V209.8H818.18V212.5H814.29V212.4H810.39V222.4H806.49V217.2H802.60V211.1H798.70V211.6H794.80V213.1H790.90V214.1H787.01V209.5H783.11V213.3H779.21V214.5H775.32V213.6H771.42V216.5H767.52V218.6H763.62V215.1H759.73V219.7H755.83V220.0H751.93V216.2H748.03V215.3H744.14V213.8H740.24V214.3H736.34V214.2H732.45V216.9H728.55V212.6H724.65V209.0H720.75V214.4H716.86V214.8H712.96V213.8H709.06V214.8H705.16V213.9H701.27V216.7H697.37V217.2H693.47V213.9H689.58V214.4H685.68V211.1H681.78V209.5H677.88V214.4H673.99V218.7H670.09V210.1H666.19V210.3H662.29V211.2H658.40V207.9H654.50V211.6H650.60V212.1H646.71V211.0H642.81V210.2H638.91V216.3H635.01V211.8H631.12V215.4H627.22V216.7H623.32V211.9H619.42V208.9H615.53V215.0H611.63V210.7H607.73V214.4H603.84V215.9H599.94V206.3H596.04V213.1H592.14V211.9H588.25V212.6H584.35V212.1H580.45V211.0H576.55V207.5H572.66V208.6H568.76V212.7H564.86V211.4H560.97V207.4H557.07V205.8H553.17V209.2H549.27V208.8H545.38V210.2H541.48V209.5H537.58V208.8H533.68V210.6H529.79V207.3H525.89V210.4H521.99V208.0H518.10V211.0H514.20V218.0H510.30V211.5H506.40V206.5H502.51V209.6H498.61V209.9H494.71V207.4H490.82V208.3H486.92V211.3H483.02V207.8H479.12V209.6H475.23V207.4H471.33V206.2H467.43V211.8H463.53V208.9H459.64V208.1H455.74V209.9H451.84V205.3H447.95V212.5H444.05V205.8H440.15V210.8H436.25V208.6H432.36V206.8H428.46V211.3H424.56V207.5H420.66V207.8H416.77V204.3H412.87V209.5H408.97V210.7H405.08V204.1H401.18V212.5H397.28V207.6H393.38V206.8H389.49V213.4H385.59V208.6H381.69V212.5H377.79V208.1H373.90V205.8H370.00V208.7H366.10V212.2H362.21V212.0H358.31V207.9H354.41V213.1H350.51V211.9H346.62V212.1H342.72V209.9H338.82V204.9H334.92V213.0H331.03V211.0H327.13V211.9H323.23V210.5H319.34V207.3H315.44V209.8H311.54V210.4H307.64V210.2H303.75V206.7H299.85V209.3H295.95V208.2H292.05V208.9H288.16V208.1H284.26V212.8H280.36V214.1H276.47V210.1H272.57V210.9H268.67V213.1H264.77V208.9H260.88V209.7H256.98V212.1H253.08V207.4H249.18V205.3H245.29V208.0H241.39V212.3H237.49V212.1H233.60V212.1H229.70V210.2H225.80V206.7H221.90V205.7H218.01V212.9H214.11V210.5H210.21V209.3H206.32V208.9H202.42V212.1H198.52V207.0H194.62V208.1H190.73V209.0H186.83V206.1H182.93V214.9H179.03V213.3H175.14V209.7H171.24V212.1H167.34V211.6H163.45V206.3H159.55V214.7H155.65V209.4H151.75V208.7H147.86V209.5H143.96V208.6H140.06V205.9H136.16V210.1H132.27V209.2H128.37V209.7H124.47V215.0H120.58V211.0H116.68V209.5H112.78V212.3H108.88V208.7H104.99V210.8H101.09V206.5H97.19V209.8H93.29V210.1H89.40V207.9H85.50Z" fill="#d818d8" fill-opacity="0.036"/>
<path d="M85.50,199.8V199.8H89.40V197.4H93.29V201.2H97.19V199.1H101.09V197.8H104.99V198.0H108.88V201.2H112.78V200.7H116.68V193.7H120.58V197.4H124.47V200.0H128.37V195.4H132.27V199.4H136.16V197.7H140.06V195.6H143.96V201.0H147.86V199.2H151.75V202.2H155.65V197.0H159.55V203.5H163.45V201.7H167.34V196.9H171.24V203.8H175.14V200.1H179.03V202.6H182.93V197.7H186.83V196.5H190.73V196.1H194.62V200.1H198.52V199.1H202.42V198.9H206.32V198.8H210.21V196.6H214.11V199.7H218.01V199.4H221.90V198.0H225.80V197.7H229.70V196.9H233.60V197.2H237.49V195.6H241.39V197.6H245.29V200.1H249.18V201.7H253.08V203.3H256.98V194.9H260.88V201.0H264.77V203.3H268.67V196.3H272.57V198.0H276.47V198.5H280.36V202.0H284.26V197.7H288.16V196.5H292.05V195.1H295.95V195.9H299.85V199.6H303.75V195.0H307.64V196.2H311.54V198.7H315.44V193.8H319.34V194.9H323.23V198.4H327.13V197.3H331.03V198.8H334.92V194.4H338.82V196.7H342.72V199.8H346.62V193.0H350.51V196.6H354.41V197.9H358.31V199.5H362.21V200.4H366.10V196.1H370.00V197.9H373.90V195.8H377.79V203.0H381.69V197.5H385.59V199.2H389.49V194.3H393.38V195.6H397.28V200.4H401.18V197.1H405.08V196.8H408.97V197.4H412.87V197.0H416.77V197.2H420.66V196.5H424.56V199.8H428.46V197.7H432.36V196.2H436.25V197.3H440.15V195.5H444.05V198.6H447.95V195.1H451.84V196.8H455.74V196.7H459.64V197.5H463.53V200.5H467.43V201.1H471.33V196.3H475.23V199.6H479.12V197.1H483.02V198.9H486.92V194.5H490.82V196.9H494.71V198.4H498.61V198.3H502.51V194.5H506.40V197.8H510.30V196.9H514.20V200.2H518.10V198.5H521.99V195.2H525.89V197.3H529.79V195.0H533.68V200.6H537.58V202.2H541.48V197.9H545.38V195.7H549.27V197.5H553.17V199.0H557.07V199.7H560.97V199.0H564.86V198.9H568.76V200.0H572.66V202.3H576.55V195.7H580.45V203.8H584.35V199.2H588.25V200.9H592.14V199.5H596.04V202.3H599.94V200.5H603.84V201.1H607.73V203.0H611.63V203.9H615.53V199.2H619.42V197.8H623.32V201.0H627.22V195.3H631.12V197.7H635.01V202.3H638.91V196.1H642.81V196.7H646.71V200.7H650.60V197.3H654.50V200.4H658.40V201.5H662.29V202.1H666.19V200.2H670.09V199.9H673.99V199.3H677.88V203.4H681.78V201.0H685.68V204.3H689.58V198.0H693.47V201.2H697.37V200.2H701.27V202.1H705.16V203.4H709.06V203.1H712.96V198.6H716.86V197.1H720.75V202.3H724.65V204.6H728.55V200.2H732.45V206.6H736.34V203.5H740.24V206.6H744.14V201.6H748.03V199.7H751.93V203.8H755.83V199.1H759.73V205.7H763.62V198.4H767.52V201.0H771.42V202.6H775.32V202.6H779.21V201.6H783.11V204.4H787.01V206.3H790.90V201.5H794.80V206.7H798.70V201.5H802.60V204.5H806.49V201.1H810.39V200.3H814.29V201.4H818.18V195.2H822.08V201.0H825.98V202.0H829.88V202.4H833.77V205.8H837.67V203.0H841.57V203.5H845.47V201.8H849.36V206.8H853.26V208.2H857.16V208.3H861.05V203.9H864.95V206.9H868.85V208.0H872.75V206.9H876.64V203.4H880.54V203.2H884.44V208.2H888.34V203.1H892.23V206.4H896.13V204.5H900.03V206.4H903.92V206.3H907.82V205.7H911.72V205.6H915.62V210.6H919.51V209.7H923.41V208.5H927.31V206.6H931.21V205.0H935.10V206.3H939.00V208.1H942.90V208.2H946.79V209.1H950.69V208.5H954.59V208.6H958.49V203.6H962.38V207.2H966.28V208.5H970.18V208.2H974.08V205.5H977.97V209.5H981.87V208.9H985.77V209.4H989.66V206.3H993.56V206.4H997.46V208.4H1001.36V208.7H1005.25V208.3H1009.15V206.6H1013.05V206.8H1016.95V206.8H1020.84V211.8H1024.74V208.5H1028.64V206.3H1032.53V208.4H1036.43V206.5H1040.33V206.5H1044.23V212.2H1048.12V211.0H1052.02V211.2H1055.92V209.1H1059.82V210.7H1063.71V206.6H1067.61V212.1H1071.51V205.9H1075.40V207.9H1079.30V210.1H1083.20V207.3H1087.10V208.3H1090.99V207.1H1094.89V206.9H1098.79V207.0H1102.68V207.9H1106.58V207.8H1110.48V209.0H1114.38V206.1H1118.27V210.9H1122.17V209.1H1126.07V208.4H1129.97V211.3H1133.86V210.9H1137.76V209.4H1141.66V209.9H1145.55V206.2H1149.45V209.3H1153.35V206.0H1157.25V207.5H1161.14V207.2H1165.04V205.5H1168.94V210.4H1172.84V208.3H1176.73V208.3H1180.63V207.2H1184.53V209.3H1188.42V205.6H1192.32V207.7H1196.22V210.6H1200.12V207.6H1204.01V207.3H1207.91V207.0H1211.81V208.3H1215.71V206.0H1219.60V203.7H1223.50V206.7H1227.40V206.2H1231.29V206.2H1235.19V205.2H1239.09V205.2H1242.99V207.0H1246.88V208.1H1250.78V205.6H1254.68V207.4H1258.58V206.4H1262.47V206.8H1266.37V207.9H1270.27V203.8H1274.16V202.3H1278.06V203.7H1281.96V205.5H1285.86V204.0H1289.75V204.8H1293.65V208.1H1297.55V206.5H1301.45V206.5H1305.34V206.0H1309.24V204.4H1313.14V203.0H1317.03V201.6H1320.93V205.7H1324.83V205.8H1328.73V205.2H1332.62V203.0H1336.52V202.9H1340.42V205.0H1344.32V204.8H1348.21V204.0H1352.11V203.2H1356.01V203.2H1359.90V202.4H1363.80V206.1H1367.70V201.8H1371.60V202.7H1375.49V205.0H1379.39V204.1H1383.29V203.1H1387.18V203.2H1391.08V202.9H1394.98V202.8H1398.88V202.9H1402.77V201.7H1406.67V203.6H1410.57V200.3H1414.47V203.0H1418.36V201.9H1422.26V201.8H1426.16V203.2H1430.05V202.3H1433.95V203.6H1437.85V199.0H1441.75V200.5H1445.64V201.5H1449.54V203.0H1453.44V200.6H1457.34V203.1H1461.23V201.6H1465.13V200.2H1469.03V202.8H1472.92V202.2H1476.82V202.8H1480.72V200.5H1484.62V204.9H1488.51V200.1H1492.41V202.8H1496.31V200.2H1500.21V202.5H1504.10V202.6H1508.00V208.8H1504.10V207.9H1500.21V211.8H1496.31V207.6H1492.41V206.4H1488.51V211.0H1484.62V208.5H1480.72V211.1H1476.82V211.0H1472.92V206.2H1469.03V210.7H1465.13V207.0H1461.23V208.5H1457.34V207.4H1453.44V209.4H1449.54V209.5H1445.64V207.2H1441.75V209.3H1437.85V207.7H1433.95V206.5H1430.05V210.6H1426.16V209.6H1422.26V208.4H1418.36V208.3H1414.47V208.3H1410.57V209.3H1406.67V209.0H1402.77V210.6H1398.88V211.3H1394.98V208.5H1391.08V210.5H1387.18V211.6H1383.29V211.6H1379.39V211.1H1375.49V210.2H1371.60V211.4H1367.70V209.6H1363.80V210.3H1359.90V209.8H1356.01V208.9H1352.11V209.9H1348.21V208.0H1344.32V209.2H1340.42V211.0H1336.52V209.8H1332.62V214.3H1328.73V211.8H1324.83V213.0H1320.93V211.8H1317.03V212.6H1313.14V209.0H1309.24V213.3H1305.34V211.8H1301.45V211.0H1297.55V214.0H1293.65V210.7H1289.75V211.0H1285.86V213.0H1281.96V210.4H1278.06V214.4H1274.16V210.9H1270.27V210.3H1266.37V209.8H1262.47V214.7H1258.58V213.8H1254.68V215.6H1250.78V212.2H1246.88V214.5H1242.99V210.4H1239.09V212.7H1235.19V214.1H1231.29V214.6H1227.40V212.6H1223.50V215.1H1219.60V212.9H1215.71V214.4H1211.81V215.7H1207.91V214.6H1204.01V217.0H1200.12V212.3H1196.22V214.0H1192.32V212.8H1188.42V214.0H1184.53V212.9H1180.63V211.9H1176.73V215.7H1172.84V215.3H1168.94V217.3H1165.04V212.9H1161.14V214.3H1157.25V214.4H1153.35V215.7H1149.45V216.2H1145.55V217.0H1141.66V217.1H1137.76V215.8H1133.86V212.6H1129.97V217.5H1126.07V218.0H1122.17V213.7H1118.27V216.8H1114.38V216.8H1110.48V216.5H1106.58V217.8H1102.68V219.2H1098.79V217.5H1094.89V215.3H1090.99V216.9H1087.10V216.3H1083.20V215.5H1079.30V216.6H1075.40V217.4H1071.51V216.6H1067.61V214.0H1063.71V217.5H1059.82V216.9H1055.92V217.0H1052.02V219.2H1048.12V213.4H1044.23V216.7H1040.33V216.1H1036.43V216.7H1032.53V216.8H1028.64V218.2H1024.74V215.4H1020.84V215.6H1016.95V219.0H1013.05V216.8H1009.15V219.5H1005.25V215.5H1001.36V213.8H997.46V216.1H993.56V217.2H989.66V217.7H985.77V215.0H981.87V216.3H977.97V217.6H974.08V216.6H970.18V214.6H966.28V213.3H962.38V212.1H958.49V212.2H954.59V215.5H950.69V216.1H946.79V215.8H942.90V218.5H939.00V217.7H935.10V219.8H931.21V218.8H927.31V215.9H923.41V217.9H919.51V215.6H915.62V216.2H911.72V216.5H907.82V213.5H903.92V215.5H900.03V218.1H896.13V217.9H892.23V216.3H888.34V217.0H884.44V215.1H880.54V212.3H876.64V217.3H872.75V218.0H868.85V215.1H864.95V213.4H861.05V212.9H857.16V214.3H853.26V216.0H849.36V211.8H845.47V215.4H841.57V218.8H837.67V216.5H833.77V217.5H829.88V214.1H825.98V216.4H822.08V215.1H818.18V211.7H814.29V216.2H810.39V215.7H806.49V217.5H802.60V215.8H798.70V216.1H794.80V218.4H790.90V213.5H787.01V210.6H783.11V217.6H779.21V217.5H775.32V212.3H771.42V210.8H767.52V215.3H763.62V214.3H759.73V208.9H755.83V213.8H751.93V213.4H748.03V215.6H744.14V214.1H740.24V218.5H736.34V212.1H732.45V216.3H728.55V212.4H724.65V218.5H720.75V210.3H716.86V219.0H712.96V217.3H709.06V217.2H705.16V214.7H701.27V211.4H697.37V210.9H693.47V211.4H689.58V215.0H685.68V212.9H681.78V214.5H677.88V212.3H673.99V209.2H670.09V211.7H666.19V211.7H662.29V216.8H658.40V211.4H654.50V213.4H650.60V214.1H646.71V211.3H642.81V214.4H638.91V208.8H635.01V215.4H631.12V216.3H627.22V213.0H623.32V217.7H619.42V209.2H615.53V214.3H611.63V206.0H607.73V211.1H603.84V210.4H599.94V211.5H596.04V210.1H592.14V209.8H588.25V217.3H584.35V209.3H580.45V208.6H576.55V210.9H572.66V215.4H568.76V208.3H564.86V206.4H560.97V209.7H557.07V212.1H553.17V216.3H549.27V206.4H545.38V211.1H541.48V210.4H537.58V208.8H533.68V211.1H529.79V205.4H525.89V210.4H521.99V212.3H518.10V209.4H514.20V205.7H510.30V213.8H506.40V205.1H502.51V208.3H498.61V211.8H494.71V208.0H490.82V206.9H486.92V211.1H483.02V212.0H479.12V208.3H475.23V210.5H471.33V208.4H467.43V206.1H463.53V210.0H459.64V205.4H455.74V212.7H451.84V208.2H447.95V208.3H444.05V213.7H440.15V204.3H436.25V208.3H432.36V211.0H428.46V205.0H424.56V207.6H420.66V211.5H416.77V209.7H412.87V205.3H408.97V210.3H405.08V210.0H401.18V210.0H397.28V210.5H393.38V207.4H389.49V210.1H385.59V211.4H381.69V204.1H377.79V213.5H373.90V210.2H370.00V209.4H366.10V208.0H362.21V208.5H358.31V208.7H354.41V210.8H350.51V211.4H346.62V215.4H342.72V213.6H338.82V207.9H334.92V213.9H331.03V214.3H327.13V210.5H323.23V209.3H319.34V208.8H315.44V214.2H311.54V212.6H307.64V214.0H303.75V212.1H299.85V208.7H295.95V207.7H292.05V208.5H288.16V208.5H284.26V210.4H280.36V212.4H276.47V212.8H272.57V209.1H268.67V210.2H264.77V206.0H260.88V211.3H256.98V211.8H253.08V208.5H249.18V205.9H245.29V210.6H241.39V213.8H237.49V211.5H233.60V208.2H229.70V208.4H225.80V211.6H221.90V206.9H218.01V211.5H214.11V212.8H210.21V212.2H206.32V211.5H202.42V210.0H198.52V214.6H194.62V210.0H190.73V210.0H186.83V211.6H182.93V209.7H179.03V212.7H175.14V216.2H171.24V214.3H167.34V214.1H163.45V208.8H159.55V208.1H155.65V210.5H151.75V210.5H147.86V212.1H143.96V210.3H140.06V211.5H136.16V211.6H132.27V207.4H128.37V213.7H124.47V211.7H120.58V207.4H116.68V208.0H112.78V208.8H108.88V206.6H104.99V213.6H101.09V205.8H97.19V213.2H93.29V213.9H89.40V211.5H85.50Z" fill="#d818d8" fill-opacity="0.036"/>
<path d="M85.50,200.4V200.4H89.40V201.9H93.29V199.9H97.19V198.0H101.09V201.2H104.99V198.8H108.88V198.8H112.78V200.6H116.68V201.6H120.58V194.2H124.47V197.0H128.37V195.5H132.27V196.9H136.16V204.3H140.06V197.3H143.96V194.8H147.86V203.1H151.75V195.8H155.65V203.1H159.55V200.6H163.45V199.2H167.34V201.0H171.24V201.8H175.14V200.3H179.03V202.9H182.93V200.0H186.83V197.7H190.73V201.5H194.62V198.4H198.52V198.3H202.42V201.0H206.32V195.5H210.21V201.2H214.11V198.6H218.01V201.4H221.90V197.3H225.80V201.7H229.70V197.5H233.60V195.9H237.49V199.5H241.39V198.6H245.29V198.9H249.18V200.4H253.08V200.1H256.98V195.4H260.88V199.0H264.77V196.6H268.67V197.5H272.57V193.7H276.47V198.3H280.36V201.5H284.26V195.6H288.16V198.4H292.05V203.0H295.95V200.4H299.85V200.3H303.75V198.9H307.64V197.5H311.54V201.7H315.44V201.5H319.34V194.9H323.23V194.1H327.13V201.2H331.03V197.3H334.92V195.7H338.82V200.2H342.72V196.2H346.62V197.0H350.51V193.8H354.41V198.9H358.31V201.1H362.21V195.1H366.10V195.0H370.00V198.8H373.90V195.0H377.79V195.7H381.69V197.4H385.59V195.3H389.49V195.4H393.38V201.7H397.28V199.5H401.18V196.7H405.08V196.7H408.97V197.8H412.87V196.7H416.77V191.7H420.66V192.4H424.56V195.8H428.46V195.9H432.36V197.5H436.25V197.9H440.15V198.2H444.05V200.7H447.95V196.5H451.84V195.1H455.74V199.2H459.64V197.4H463.53V195.0H467.43V199.2H471.33V197.3H475.23V196.3H479.12V193.5H483.02V198.4H486.92V197.0H490.82V194.9H494.71V197.6H498.61V196.4H502.51V194.9H506.40V200.2H510.30V202.8H514.20V201.0H518.10V197.4H521.99V195.1H525.89V194.4H529.79V192.8H533.68V196.2H537.58V198.5H541.48V197.2H545.38V193.0H549.27V202.0H553.17V198.6H557.07V198.0H560.97V196.3H564.86V201.0H568.76V199.1H572.66V199.9H576.55V197.6H580.45V199.8H584.35V198.7H588.25V197.2H592.14V195.8H596.04V194.1H599.94V199.0H603.84V199.6H607.73V196.3H611.63V196.0H615.53V199.4H619.42V201.7H623.32V195.6H627.22V197.2H631.12V205.1H635.01V202.7H638.91V196.7H642.81V198.4H646.71V197.9H650.60V203.5H654.50V203.5H658.40V200.9H662.29V200.4H666.19V194.2H670.09V200.1H673.99V199.4H677.88V202.5H681.78V199.1H685.68V200.3H689.58V202.9H693.47V200.9H697.37V200.7H701.27V201.1H705.16V197.7H709.06V201.1H712.96V200.6H716.86V200.2H720.75V202.5H724.65V204.4H728.55V206.9H732.45V202.2H736.34V199.4H740.24V199.4H744.14V205.2H748.03V197.7H751.93V202.7H755.83V203.2H759.73V200.5H763.62V203.6H767.52V201.1H771.42V205.5H775.32V197.9H779.21V199.4H783.11V203.3H787.01V200.2H790.90V203.6H794.80V201.6H798.70V207.9H802.60V203.5H806.49V205.7H810.39V205.7H814.29V207.3H818.18V202.9H822.08V205.0H825.98V203.1H829.88V201.9H833.77V201.1H837.67V206.2H841.57V204.8H845.47V206.6H849.36V203.8H853.26V205.9H857.16V202.7H861.05V205.6H864.95V209.7H868.85V205.2H872.75V202.6H876.64V203.0H880.54V207.9H884.44V201.6H888.34V202.9H892.23V205.8H896.13V203.5H900.03V206.2H903.92V204.5H907.82V206.6H911.72V209.9H915.62V206.3H919.51V208.6H923.41V204.2H927.31V204.1H931.21V209.3H935.10V206.9H939.00V206.4H942.90V206.5H946.79V211.1H950.69V207.0H954.59V209.8H958.49V208.5H962.38V209.7H966.28V209.9H970.18V210.0H974.08V207.6H977.97V209.2H981.87V205.4H985.77V208.9H989.66V204.3H993.56V208.4H997.46V209.4H1001.36V207.4H1005.25V207.9H1009.15V207.4H1013.05V210.0H1016.95V209.6H1020.84V209.8H1024.74V211.0H1028.64V209.0H1032.53V208.1H1036.43V208.9H1040.33V207.6H1044.23V210.8H1048.12V208.6H1052.02V207.3H1055.92V207.5H1059.82V209.9H1063.71V208.9H1067.61V208.0H1071.51V209.1H1075.40V211.5H1079.30V207.9H1083.20V207.4H1087.10V208.5H1090.99V210.7H1094.89V211.6H1098.79V209.8H1102.68V209.1H1106.58V209.6H1110.48V208.0H1114.38V206.0H1118.27V208.9H1122.17V207.7H1126.07V208.0H1129.97V207.1H1133.86V207.7H1137.76V209.0H1141.66V209.7H1145.55V209.1H1149.45V209.6H1153.35V207.7H1157.25V206.2H1161.14V207.3H1165.04V209.9H1168.94V207.9H1172.84V204.5H1176.73V208.3H1180.63V207.8H1184.53V206.9H1188.42V207.3H1192.32V205.0H1196.22V209.5H1200.12V206.5H1204.01V208.6H1207.91V207.7H1211.81V206.3H1215.71V209.7H1219.60V204.2H1223.50V206.7H1227.40V206.0H1231.29V209.3H1235.19V206.5H1239.09V204.9H1242.99V204.7H1246.88V206.3H1250.78V206.2H1254.68V205.3H1258.58V205.1H1262.47V203.0H1266.37V206.0H1270.27V207.3H1274.16V203.5H1278.06V206.0H1281.96V203.1H1285.86V204.6H1289.75V205.4H1293.65V206.1H1297.55V205.1H1301.45V202.1H1305.34V203.7H1309.24V206.2H1313.14V204.2H1317.03V201.6H1320.93V202.9H1324.83V204.5H1328.73V203.6H1332.62V203.4H1336.52V203.9H1340.42V206.1H1344.32V205.8H1348.21V200.4H1352.11V204.9H1356.01V203.3H1359.90V203.7H1363.80V205.3H1367.70V201.9H1371.60V204.0H1375.49V204.8H1379.39V201.2H1383.29V201.8H1387.18V204.9H1391.08V202.1H1394.98V204.1H1398.88V202.3H1402.77V203.2H1406.67V201.9H1410.57V201.7H1414.47V203.9H1418.36V202.3H1422.26V200.3H1426.16V202.6H1430.05V202.0H1433.95V202.1H1437.85V199.3H1441.75V202.3H1445.64V201.7H1449.54V200.4H1453.44V199.8H1457.34V201.6H1461.23V201.8H1465.13V201.7H1469.03V200.0H1472.92V203.9H1476.82V203.4H1480.72V201.6H1484.62V202.0H1488.51V200.4H1492.41V203.0H1496.31V200.0H1500.21V201.4H1504.10V201.4H1508.00V210.0H1504.10V206.1H1500.21V207.7H1496.31V208.5H1492.41V206.0H1488.51V207.2H1484.62V209.8H1480.72V208.8H1476.82V209.9H1472.92V207.5H1469.03V208.9H1465.13V207.8H1461.23V207.8H1457.34V210.8H1453.44V207.3H1449.54V211.0H1445.64V207.2H1441.75V206.0H1437.85V211.3H1433.95V209.3H1430.05V208.9H1426.16V210.2H1422.26V209.0H1418.36V212.0H1414.47V209.4H1410.57V209.7H1406.67V211.8H1402.77V210.2H1398.88V207.5H1394.98V209.3H1391.08V208.0H1387.18V209.9H1383.29V209.0H1379.39V208.6H1375.49V208.9H1371.60V207.1H1367.70V207.4H1363.80V211.3H1359.90V210.6H1356.01V211.0H1352.11V210.4H1348.21V208.8H1344.32V209.7H1340.42V210.9H1336.52V211.9H1332.62V211.6H1328.73V210.4H1324.83V211.8H1320.93V210.4H1317.03V211.3H1313.14V211.1H1309.24V208.9H1305.34V210.9H1301.45V214.0H1297.55V210.8H1293.65V213.6H1289.75V211.9H1285.86V209.5H1281.96V212.3H1278.06V212.6H1274.16V213.3H1270.27V214.3H1266.37V213.9H1262.47V211.6H1258.58V213.5H1254.68V213.8H1250.78V214.1H1246.88V212.4H1242.99V214.0H1239.09V214.8H1235.19V216.7H1231.29V212.0H1227.40V213.4H1223.50V213.1H1219.60V213.0H1215.71V214.0H1211.81V213.1H1207.91V217.1H1204.01V212.5H1200.12V216.4H1196.22V213.8H1192.32V217.3H1188.42V214.7H1184.53V215.4H1180.63V213.0H1176.73V212.1H1172.84V216.3H1168.94V213.5H1165.04V216.9H1161.14V216.9H1157.25V215.0H1153.35V216.6H1149.45V216.0H1145.55V216.0H1141.66V216.4H1137.76V216.5H1133.86V216.3H1129.97V214.0H1126.07V215.2H1122.17V214.3H1118.27V216.8H1114.38V214.4H1110.48V216.0H1106.58V213.3H1102.68V218.9H1098.79V216.5H1094.89V214.8H1090.99V218.1H1087.10V218.4H1083.20V218.6H1079.30V217.6H1075.40V214.2H1071.51V217.0H1067.61V218.8H1063.71V216.8H1059.82V215.0H1055.92V214.8H1052.02V219.5H1048.12V218.0H1044.23V218.4H1040.33V215.0H1036.43V215.3H1032.53V213.0H1028.64V217.0H1024.74V217.3H1020.84V216.8H1016.95V215.4H1013.05V217.8H1009.15V213.6H1005.25V217.6H1001.36V214.5H997.46V217.0H993.56V214.7H989.66V214.6H985.77V213.9H981.87V219.8H977.97V219.1H974.08V216.3H970.18V218.3H966.28V214.2H962.38V219.0H958.49V216.7H954.59V215.0H950.69V216.0H946.79V218.2H942.90V220.7H939.00V213.8H935.10V216.7H931.21V213.3H927.31V218.5H923.41V218.7H919.51V218.4H915.62V215.4H911.72V217.8H907.82V218.7H903.92V217.4H900.03V212.1H896.13V215.5H892.23V217.7H888.34V217.9H884.44V214.9H880.54V211.1H876.64V213.9H872.75V212.7H868.85V214.5H864.95V214.7H861.05V214.2H857.16V219.5H853.26V213.4H849.36V217.0H845.47V217.3H841.57V216.1H837.67V213.8H833.77V212.4H829.88V213.2H825.98V211.0H822.08V217.0H818.18V216.3H814.29V210.0H810.39V213.8H806.49V212.0H802.60V214.2H798.70V216.2H794.80V212.0H790.90V218.4H787.01V214.9H783.11V211.1H779.21V214.4H775.32V213.5H771.42V214.5H767.52V214.7H763.62V212.5H759.73V211.4H755.83V210.0H751.93V211.8H748.03V211.5H744.14V214.3H740.24V214.5H736.34V212.7H732.45V214.4H728.55V211.3H724.65V208.9H720.75V219.0H716.86V212.8H712.96V212.7H709.06V217.0H705.16V217.3H701.27V214.2H697.37V209.9H693.47V213.3H689.58V214.7H685.68V214.9H681.78V211.8H677.88V213.6H673.99V218.9H670.09V210.5H666.19V219.5H662.29V214.4H658.40V210.5H654.50V213.1H650.60V210.1H646.71V212.1H642.81V211.8H638.91V215.1H635.01V214.1H631.12V209.4H627.22V206.4H623.32V209.6H619.42V212.1H615.53V212.3H611.63V211.3H607.73V207.1H603.84V209.7H599.94V210.5H596.04V208.9H592.14V214.3H588.25V215.0H584.35V212.3H580.45V208.4H576.55V214.3H572.66V213.1H568.76V207.2H564.86V214.3H560.97V213.0H557.07V214.5H553.17V209.8H549.27V212.0H545.38V213.2H541.48V209.3H537.58V213.8H533.68V209.4H529.79V208.5H525.89V205.7H521.99V208.4H518.10V209.1H514.20V214.1H510.30V213.0H506.40V209.6H502.51V206.6H498.61V207.1H494.71V208.9H490.82V211.8H486.92V212.6H483.02V213.5H479.12V206.7H475.23V211.4H471.33V208.8H467.43V209.8H463.53V209.9H459.64V209.6H455.74V212.9H451.84V207.2H447.95V210.5H444.05V210.5H440.15V209.5H436.25V211.6H432.36V208.6H428.46V214.4H424.56V209.8H420.66V209.8H416.77V211.0H412.87V205.1H408.97V208.4H405.08V209.1H401.18V208.5H397.28V209.7H393.38V204.5H389.49V209.2H385.59V210.2H381.69V206.2H377.79V206.0H373.90V210.8H370.00V208.3H366.10V207.0H362.21V211.8H358.31V205.1H354.41V210.6H350.51V215.7H346.62V213.5H342.72V208.5H338.82V206.9H334.92V212.8H331.03V208.2H327.13V207.5H323.23V213.1H319.34V213.2H315.44V205.2H311.54V211.0H307.64V210.0H303.75V207.7H299.85V214.1H295.95V209.0H292.05V210.9H288.16V211.5H284.26V215.1H280.36V213.7H276.47V209.4H272.57V207.9H268.67V208.6H264.77V211.9H260.88V211.0H256.98V213.5H253.08V210.3H249.18V209.2H245.29V204.9H241.39V212.8H237.49V213.0H233.60V209.1H229.70V205.4H225.80V211.8H221.90V205.2H218.01V211.3H214.11V208.8H210.21V215.4H206.32V211.1H202.42V206.7H198.52V210.6H194.62V209.2H190.73V208.8H186.83V211.7H182.93V211.8H179.03V212.3H175.14V211.0H171.24V209.0H167.34V209.0H163.45V212.2H159.55V213.1H155.65V208.9H151.75V212.3H147.86V211.2H143.96V211.8H140.06V214.0H136.16V209.5H132.27V213.7H128.37V213.9H124.47V213.9H120.58V213.3H116.68V214.2H112.78V212.0H108.88V206.9H104.99V212.8H101.09V210.8H97.19V212.7H93.29V210.8H89.40V209.8H85.50Z" fill="#d818d8" fill-opacity="0.036"/>
<path d="M85.50,195.5V195.5H89.40V200.3H93.29V193.9H97.19V194.5H101.09V197.8H104.99V199.8H108.88V193.0H112.78V202.7H116.68V195.0H120.58V196.9H124.47V200.2H128.37V197.7H132.27V198.3H136.16V199.4H140.06V200.2H143.96V204.0H147.86V200.8H151.75V200.4H155.65V196.9H159.55V199.8H163.45V203.5H167.34V198.0H171.24V199.2H175.14V200.7H179.03V197.8H182.93V199.0H186.83V197.4H190.73V198.6H194.62V199.7H198.52V196.3H202.42V198.3H206.32V194.7H210.21V196.2H214.11V197.4H218.01V195.2H221.90V202.2H225.80V201.9H229.70V202.3H233.60V198.9H237.49V195.0H241.39V200.0H245.29V198.3H249.18V198.8H253.08V196.5H256.98V199.9H260.88V200.8H264.77V197.8H268.67V195.6H272.57V201.7H276.47V199.6H280.36V200.0H284.26V198.8H288.16V197.6H292.05V195.6H295.95V198.2H299.85V200.4H303.75V200.6H307.64V197.5H311.54V196.6H315.44V201.6H319.34V198.1H323.23V199.3H327.13V196.3H331.03V201.3H334.92V199.8H338.82V196.4H342.72V198.4H346.62V195.7H350.51V198.8H354.41V195.3H358.31V201.9H362.21V200.1H366.10V196.0H370.00V194.8H373.90V193.6H377.79V196.6H381.69V195.7H385.59V198.4H389.49V192.5H393.38V201.7H397.28V201.0H401.18V198.6H405.08V197.7H408.97V199.3H412.87V193.6H416.77V196.8H420.66V196.2H424.56V201.7H428.46V196.8H432.36V196.9H436.25V198.9H440.15V195.1H444.05V198.3H447.95V196.3H451.84V196.1H455.74V199.6H459.64V192.5H463.53V198.2H467.43V197.9H471.33V197.0H475.23V189.7H479.12V195.9H483.02V199.0H486.92V198.1H490.82V199.1H494.71V196.1H498.61V198.3H502.51V197.1H506.40V195.0H510.30V195.7H514.20V200.5H518.10V201.2H521.99V195.5H525.89V196.8H529.79V199.7H533.68V195.7H537.58V199.5H541.48V201.3H545.38V198.6H549.27V197.1H553.17V196.7H557.07V199.6H560.97V198.0H564.86V200.8H568.76V201.5H572.66V197.9H576.55V199.3H580.45V199.6H584.35V197.1H588.25V201.6H592.14V200.1H596.04V195.5H599.94V199.8H603.84V194.6H607.73V196.5H611.63V198.9H615.53V199.2H619.42V200.1H623.32V202.6H627.22V197.4H631.12V199.9H635.01V197.1H638.91V200.7H642.81V199.5H646.71V195.4H650.60V200.8H654.50V196.0H658.40V199.7H662.29V201.3H666.19V204.2H670.09V196.7H673.99V201.2H677.88V200.1H681.78V199.5H685.68V204.3H689.58V201.9H693.47V200.9H697.37V204.4H701.27V197.5H705.16V198.7H709.06V200.8H712.96V204.1H716.86V202.2H720.75V203.7H724.65V196.4H728.55V203.1H732.45V199.4H736.34V201.2H740.24V200.3H744.14V204.0H748.03V200.5H751.93V202.2H755.83V201.3H759.73V200.5H763.62V202.5H767.52V200.6H771.42V203.8H775.32V204.1H779.21V200.5H783.11V202.9H787.01V201.4H790.90V204.0H794.80V202.2H798.70V204.3H802.60V208.5H806.49V201.1H810.39V203.3H814.29V205.8H818.18V200.3H822.08V202.8H825.98V204.2H829.88V208.5H833.77V204.1H837.67V201.9H841.57V201.7H845.47V205.8H849.36V204.5H853.26V203.9H857.16V205.4H861.05V203.0H864.95V205.9H868.85V203.0H872.75V200.2H876.64V207.9H880.54V203.3H884.44V203.2H888.34V205.1H892.23V205.0H896.13V205.3H900.03V206.9H903.92V204.4H907.82V201.3H911.72V207.0H915.62V209.6H919.51V207.9H923.41V206.8H927.31V208.8H931.21V206.8H935.10V207.1H939.00V209.6H942.90V209.2H946.79V208.5H950.69V210.2H954.59V203.9H958.49V207.7H962.38V210.2H966.28V208.8H970.18V207.4H974.08V206.7H977.97V209.2H981.87V209.0H985.77V210.9H989.66V210.2H993.56V207.1H997.46V207.9H1001.36V208.7H1005.25V207.5H1009.15V209.6H1013.05V208.6H1016.95V207.5H1020.84V205.7H1024.74V205.1H1028.64V210.5H1032.53V211.6H1036.43V208.0H1040.33V210.0H1044.23V206.1H1048.12V210.0H1052.02V208.9H1055.92V209.9H1059.82V210.6H1063.71V206.8H1067.61V209.2H1071.51V210.1H1075.40V207.3H1079.30V208.7H1083.20V211.3H1087.10V207.0H1090.99V206.5H1094.89V206.3H1098.79V207.0H1102.68V208.9H1106.58V207.3H1110.48V208.2H1114.38V209.7H1118.27V208.1H1122.17V208.2H1126.07V205.7H1129.97V208.3H1133.86V210.5H1137.76V207.8H1141.66V210.6H1145.55V209.3H1149.45V207.3H1153.35V205.2H1157.25V209.7H1161.14V207.5H1165.04V208.6H1168.94V204.4H1172.84V208.0H1176.73V208.0H1180.63V207.2H1184.53V207.0H1188.42V208.6H1192.32V208.5H1196.22V208.7H1200.12V207.2H1204.01V208.0H1207.91V207.5H1211.81V205.9H1215.71V206.5H1219.60V204.9H1223.50V205.9H1227.40V204.9H1231.29V207.1H1235.19V205.4H1239.09V205.8H1242.99V206.9H1246.88V204.6H1250.78V206.8H1254.68V204.5H1258.58V205.3H1262.47V202.0H1266.37V205.6H1270.27V205.3H1274.16V205.4H1278.06V203.0H1281.96V203.0H1285.86V205.9H1289.75V205.7H1293.65V205.6H1297.55V203.2H1301.45V203.2H1305.34V202.5H1309.24V204.3H1313.14V204.7H1317.03V204.3H1320.93V205.5H1324.83V204.5H1328.73V205.4H1332.62V203.2H1336.52V204.1H1340.42V203.7H1344.32V205.1H1348.21V203.6H1352.11V203.8H1356.01V201.0H1359.90V204.9H1363.80V204.7H1367.70V203.3H1371.60V204.4H1375.49V203.6H1379.39V204.1H1383.29V203.4H1387.18V204.4H1391.08V204.0H1394.98V200.1H1398.88V198.8H1402.77V201.3H1406.67V203.5H1410.57V203.2H1414.47V200.8H1418.36V201.3H1422.26V204.9H1426.16V202.6H1430.05V202.4H1433.95V202.3H1437.85V203.8H1441.75V203.1H1445.64V201.6H1449.54V203.8H1453.44V202.4H1457.34V203.1H1461.23V201.6H1465.13V198.9H1469.03V203.5H1472.92V203.1H1476.82V201.4H1480.72V203.7H1484.62V203.7H1488.51V204.4H1492.41V203.6H1496.31V202.1H1500.21V201.9H1504.10V200.0H1508.00V208.1H1504.10V212.7H1500.21V210.9H1496.31V206.8H1492.41V210.0H1488.51V211.0H1484.62V206.8H1480.72V209.0H1476.82V210.6H1472.92V208.9H1469.03V209.9H1465.13V209.2H1461.23V206.8H1457.34V209.1H1453.44V207.0H1449.54V207.8H1445.64V206.2H1441.75V208.5H1437.85V211.3H1433.95V209.5H1430.05V207.9H1426.16V209.8H1422.26V210.2H1418.36V208.6H1414.47V209.1H1410.57V210.4H1406.67V211.0H1402.77V208.1H1398.88V208.0H1394.98V211.1H1391.08V210.9H1387.18V209.8H1383.29V210.8H1379.39V209.0H1375.49V209.0H1371.60V209.5H1367.70V208.4H1363.80V211.2H1359.90V208.0H1356.01V208.6H1352.11V210.6H1348.21V211.7H1344.32V214.2H1340.42V210.5H1336.52V210.2H1332.62V211.8H1328.73V209.4H1324.83V212.6H1320.93V209.1H1317.03V210.5H1313.14V211.1H1309.24V213.3H1305.34V210.8H1301.45V212.2H1297.55V215.3H1293.65V213.1H1289.75V212.1H1285.86V213.5H1281.96V211.1H1278.06V211.9H1274.16V215.2H1270.27V214.0H1266.37V213.0H1262.47V212.6H1258.58V212.9H1254.68V213.5H1250.78V214.0H1246.88V213.0H1242.99V213.1H1239.09V214.3H1235.19V213.6H1231.29V212.5H1227.40V215.4H1223.50V214.9H1219.60V212.1H1215.71V213.9H1211.81V214.7H1207.91V213.1H1204.01V215.9H1200.12V212.9H1196.22V213.0H1192.32V214.6H1188.42V215.0H1184.53V215.1H1180.63V216.6H1176.73V215.9H1172.84V214.4H1168.94V215.7H1165.04V214.7H1161.14V216.3H1157.25V215.4H1153.35V214.1H1149.45V215.4H1145.55V213.9H1141.66V215.0H1137.76V217.7H1133.86V217.2H1129.97V217.0H1126.07V215.6H1122.17V215.2H1118.27V214.6H1114.38V215.9H1110.48V215.0H1106.58V216.0H1102.68V215.0H1098.79V218.2H1094.89V217.8H1090.99V214.8H1087.10V218.5H1083.20V216.2H1079.30V217.5H1075.40V214.4H1071.51V215.0H1067.61V215.7H1063.71V217.4H1059.82V213.1H1055.92V217.9H1052.02V214.4H1048.12V217.3H1044.23V216.8H1040.33V216.2H1036.43V216.6H1032.53V213.1H1028.64V215.5H1024.74V216.9H1020.84V218.1H1016.95V212.9H1013.05V212.9H1009.15V217.1H1005.25V217.2H1001.36V221.9H997.46V214.1H993.56V214.9H989.66V213.8H985.77V216.5H981.87V215.4H977.97V213.2H974.08V214.5H970.18V220.4H966.28V215.9H962.38V216.5H958.49V216.8H954.59V218.1H950.69V213.3H946.79V217.4H942.90V217.6H939.00V217.4H935.10V215.8H931.21V214.8H927.31V212.1H923.41V212.3H919.51V217.1H915.62V218.6H911.72V213.9H907.82V213.1H903.92V211.9H900.03V214.6H896.13V212.7H892.23V213.0H888.34V213.8H884.44V213.6H880.54V213.3H876.64V215.2H872.75V214.8H868.85V214.7H864.95V214.3H861.05V214.2H857.16V216.0H853.26V217.8H849.36V217.7H845.47V215.5H841.57V211.4H837.67V213.9H833.77V214.3H829.88V215.7H825.98V213.2H822.08V217.3H818.18V219.6H814.29V214.0H810.39V215.8H806.49V217.1H802.60V215.5H798.70V214.0H794.80V214.8H790.90V211.3H787.01V215.8H783.11V217.7H779.21V212.6H775.32V211.4H771.42V210.3H767.52V212.4H763.62V214.2H759.73V214.4H755.83V215.1H751.93V216.9H748.03V217.1H744.14V219.5H740.24V211.7H736.34V214.7H732.45V215.3H728.55V214.8H724.65V214.4H720.75V210.8H716.86V209.4H712.96V214.8H709.06V212.7H705.16V209.0H701.27V217.0H697.37V208.5H693.47V216.0H689.58V220.0H685.68V216.9H681.78V217.3H677.88V214.8H673.99V209.8H670.09V211.8H666.19V212.2H662.29V215.4H658.40V212.6H654.50V211.3H650.60V214.3H646.71V217.6H642.81V215.1H638.91V210.1H635.01V214.2H631.12V213.6H627.22V216.7H623.32V216.4H619.42V214.3H615.53V212.0H611.63V207.1H607.73V207.8H603.84V208.3H599.94V214.3H596.04V208.7H592.14V212.6H588.25V215.7H584.35V207.6H580.45V211.9H576.55V207.5H572.66V211.9H568.76V213.3H564.86V209.9H560.97V211.9H557.07V211.9H553.17V215.6H549.27V209.7H545.38V214.8H541.48V208.1H537.58V209.6H533.68V210.7H529.79V209.6H525.89V209.1H521.99V208.5H518.10V209.1H514.20V204.5H510.30V208.8H506.40V209.7H502.51V207.8H498.61V207.4H494.71V207.5H490.82V204.1H486.92V209.9H483.02V206.2H479.12V211.9H475.23V213.0H471.33V210.1H467.43V208.8H463.53V205.1H459.64V206.8H455.74V210.8H451.84V211.5H447.95V208.8H444.05V211.5H440.15V207.7H436.25V211.7H432.36V206.2H428.46V211.5H424.56V207.2H420.66V207.6H416.77V206.6H412.87V215.2H408.97V212.6H405.08V211.0H401.18V208.2H397.28V209.9H393.38V206.9H389.49V205.8H385.59V207.6H381.69V211.2H377.79V211.0H373.90V207.1H370.00V210.2H366.10V209.3H362.21V207.1H358.31V205.3H354.41V205.4H350.51V209.4H346.62V209.0H342.72V212.8H338.82V206.0H334.92V211.8H331.03V207.8H327.13V206.1H323.23V209.2H319.34V207.9H315.44V209.9H311.54V209.8H307.64V214.0H303.75V207.4H299.85V209.7H295.95V212.7H292.05V212.1H288.16V208.3H284.26V210.3H280.36V213.8H276.47V211.4H272.57V207.8H268.67V211.2H264.77V205.7H260.88V207.4H256.98V208.6H253.08V213.0H249.18V211.5H245.29V209.0H241.39V212.5H237.49V209.9H233.60V209.6H229.70V208.7H225.80V208.9H221.90V209.4H218.01V210.7H214.11V209.9H210.21V212.8H206.32V210.4H202.42V212.1H198.52V211.8H194.62V209.0H190.73V210.3H186.83V210.4H182.93V214.9H179.03V212.7H175.14V212.0H171.24V206.4H167.34V209.5H163.45V214.2H159.55V215.3H155.65V211.4H151.75V210.3H147.86V210.3H143.96V210.9H140.06V213.0H136.16V214.0H132.27V208.9H128.37V211.3H124.47V206.7H120.58V207.4H116.68V207.0H112.78V210.2H108.88V212.4H104.99V212.0H101.09V213.9H97.19V217.4H93.29V210.3H89.40V208.5H85.50Z" fill="#d818d8" fill-opacity="0.036"/>
<path d="M85.50,197.5V197.5H89.40V198.6H93.29V196.4H97.19V195.8H101.09V201.7H104.99V202.3H108.88V195.5H112.78V198.1H116.68V202.2H120.58V198.3H124.47V202.8H128.37V200.7H132.27V197.5H136.16V201.8H140.06V200.3H143.96V198.6H147.86V199.9H151.75V195.3H155.65V197.4H159.55V203.1H163.45V199.4H167.34V199.8H171.24V197.2H175.14V199.5H179.03V196.2H182.93V195.7H186.83V196.7H190.73V197.7H194.62V200.3H198.52V198.7H202.42V193.9H206.32V198.4H210.21V200.4H214.11V201.2H218.01V197.3H221.90V199.3H225.80V193.3H229.70V200.3H233.60V196.6H237.49V195.4H241.39V198.4H245.29V198.4H249.18V200.1H253.08V199.3H256.98V201.0H260.88V199.6H264.77V201.9H268.67V197.1H272.57V200.2H276.47V198.2H280.36V195.6H284.26V194.2H288.16V196.6H292.05V199.6H295.95V199.7H299.85V200.1H303.75V197.0H307.64V193.4H311.54V194.8H315.44V198.2H319.34V198.5H323.23V196.8H327.13V195.6H331.03V194.1H334.92V196.3H338.82V195.7H342.72V200.1H346.62V201.3H350.51V200.6H354.41V200.0H358.31V193.6H362.21V196.1H366.10V199.6H370.00V197.9H373.90V198.6H377.79V201.1H381.69V196.9H385.59V199.3H389.49V197.3H393.38V195.4H397.28V202.6H401.18V192.4H405.08V201.8H408.97V196.9H412.87V194.8H416.77V199.4H420.66V199.3H424.56V198.9H428.46V192.7H432.36V191.1H436.25V196.2H440.15V198.5H444.05V201.4H447.95V197.5H451.84V196.6H455.74V202.6H459.64V192.7H463.53V200.5H467.43V197.4H471.33V198.3H475.23V194.1H479.12V199.5H483.02V199.4H486.92V196.5H490.82V196.8H494.71V199.4H498.61V196.8H502.51V196.2H506.40V198.0H510.30V192.2H514.20V198.6H518.10V198.4H521.99V195.2H525.89V200.3H529.79V200.3H533.68V199.5H537.58V197.8H541.48V196.3H545.38V193.8H549.27V200.5H553.17V200.1H557.07V196.6H560.97V199.8H564.86V197.5H568.76V198.0H572.66V199.8H576.55V197.6H580.45V203.1H584.35V201.1H588.25V197.3H592.14V198.8H596.04V199.2H599.94V198.6H603.84V197.8H607.73V201.6H611.63V195.3H615.53V201.0H619.42V200.7H623.32V197.1H627.22V203.6H631.12V204.9H635.01V201.3H638.91V198.6H642.81V202.2H646.71V199.8H650.60V202.8H654.50V205.3H658.40V203.2H662.29V199.4H666.19V203.9H670.09V201.1H673.99V199.8H677.88V199.5H681.78V199.3H685.68V198.8H689.58V205.5H693.47V198.6H697.37V201.4H701.27V201.9H705.16V203.4H709.06V202.1H712.96V198.7H716.86V198.2H720.75V194.1H724.65V199.8H728.55V205.0H732.45V203.2H736.34V205.2H740.24V199.1H744.14V203.6H748.03V204.7H751.93V195.8H755.83V200.8H759.73V203.2H763.62V199.4H767.52V197.2H771.42V202.3H775.32V201.1H779.21V204.7H783.11V200.7H787.01V205.3H790.90V205.0H794.80V202.6H798.70V199.2H802.60V204.9H806.49V202.7H810.39V204.0H814.29V204.3H818.18V198.7H822.08V203.2H825.98V205.7H829.88V201.4H833.77V202.2H837.67V204.6H841.57V205.1H845.47V202.6H849.36V207.0H853.26V203.9H857.16V204.6H861.05V206.1H864.95V204.6H868.85V205.0H872.75V200.4H876.64V204.8H880.54V201.9H884.44V203.8H888.34V204.8H892.23V205.0H896.13V208.3H900.03V204.2H903.92V205.6H907.82V206.7H911.72V210.1H915.62V204.0H919.51V203.9H923.41V206.5H927.31V203.6H931.21V210.0H935.10V205.0H939.00V208.8H942.90V209.6H946.79V207.2H950.69V206.8H954.59V206.0H958.49V208.8H962.38V209.7H966.28V205.8H970.18V205.5H974.08V207.0H977.97V209.0H981.87V205.7H985.77V207.9H989.66V211.6H993.56V208.6H997.46V211.8H1001.36V206.1H1005.25V208.2H1009.15V207.2H1013.05V207.8H1016.95V209.0H1020.84V207.7H1024.74V208.3H1028.64V209.4H1032.53V206.6H1036.43V209.2H1040.33V211.1H1044.23V207.2H1048.12V206.9H1052.02V208.5H1055.92V207.6H1059.82V209.6H1063.71V209.7H1067.61V210.1H1071.51V206.3H1075.40V206.5H1079.30V210.4H1083.20V208.3H1087.10V207.9H1090.99V207.5H1094.89V208.2H1098.79V209.6H1102.68V208.4H1106.58V208.2H1110.48V203.7H1114.38V207.7H1118.27V208.5H1122.17V208.5H1126.07V205.8H1129.97V209.6H1133.86V206.3H1137.76V207.9H1141.66V207.2H1145.55V209.1H1149.45V210.8H1153.35V207.7H1157.25V209.3H1161.14V206.2H1165.04V209.3H1168.94V207.4H1172.84V208.3H1176.73V205.9H1180.63V206.8H1184.53V208.6H1188.42V207.4H1192.32V207.7H1196.22V205.6H1200.12V207.4H1204.01V206.2H1207.91V207.6H1211.81V206.1H1215.71V206.2H1219.60V206.8H1223.50V206.8H1227.40V205.8H1231.29V205.4H1235.19V207.9H1239.09V209.0H1242.99V208.2H1246.88V206.7H1250.78V206.2H1254.68V204.5H1258.58V206.6H1262.47V207.8H1266.37V208.8H1270.27V204.6H1274.16V205.9H1278.06V205.1H1281.96V207.7H1285.86V204.7H1289.75V203.8H1293.65V205.0H1297.55V206.7H1301.45V207.4H1305.34V207.8H1309.24V207.1H1313.14V205.6H1317.03V203.4H1320.93V201.7H1324.83V205.0H1328.73V206.6H1332.62V203.0H1336.52V204.3H1340.42V204.5H1344.32V206.7H1348.21V203.5H1352.11V203.6H1356.01V201.3H1359.90V203.2H1363.80V202.4H1367.70V204.1H1371.60V201.8H1375.49V201.8H1379.39V203.7H1383.29V201.3H1387.18V200.9H1391.08V202.8H1394.98V202.8H1398.88V202.8H1402.77V202.6H1406.67V203.7H1410.57V201.4H1414.47V198.8H1418.36V203.1H1422.26V200.0H1426.16V202.0H1430.05V203.9H1433.95V201.8H1437.85V201.4H1441.75V199.5H1445.64V202.5H1449.54V202.3H1453.44V203.0H1457.34V199.8H1461.23V198.0H1465.13V202.6H1469.03V202.4H1472.92V202.0H1476.82V201.5H1480.72V197.9H1484.62V204.9H1488.51V198.9H1492.41V200.7H1496.31V204.5H1500.21V202.9H1504.10V201.4H1508.00V208.7H1504.10V208.0H1500.21V206.1H1496.31V207.5H1492.41V207.7H1488.51V207.2H1484.62V205.7H1480.72V206.2H1476.82V209.6H1472.92V209.7H1469.03V207.4H1465.13V209.1H1461.23V210.3H1457.34V205.8H1453.44V210.1H1449.54V207.4H1445.64V206.1H1441.75V211.0H1437.85V210.6H1433.95V208.6H1430.05V212.0H1426.16V206.1H1422.26V209.3H1418.36V210.5H1414.47V208.2H1410.57V209.3H1406.67V208.6H1402.77V212.5H1398.88V208.4H1394.98V209.6H1391.08V210.7H1387.18V211.4H1383.29V208.0H1379.39V210.5H1375.49V210.8H1371.60V212.1H1367.70V211.3H1363.80V208.5H1359.90V211.1H1356.01V209.9H1352.11V210.5H1348.21V210.0H1344.32V211.1H1340.42V209.9H1336.52V210.9H1332.62V211.3H1328.73V208.4H1324.83V212.4H1320.93V211.1H1317.03V211.6H1313.14V212.5H1309.24V211.9H1305.34V212.9H1301.45V212.4H1297.55V213.0H1293.65V213.1H1289.75V211.7H1285.86V210.7H1281.96V215.5H1278.06V210.4H1274.16V216.2H1270.27V212.0H1266.37V211.6H1262.47V214.7H1258.58V214.5H1254.68V212.8H1250.78V215.1H1246.88V216.1H1242.99V215.8H1239.09V213.5H1235.19V211.4H1231.29V214.9H1227.40V211.0H1223.50V213.3H1219.60V215.0H1215.71V216.2H1211.81V213.3H1207.91V211.8H1204.01V216.0H1200.12V213.2H1196.22V214.0H1192.32V214.0H1188.42V211.9H1184.53V218.7H1180.63V212.4H1176.73V217.8H1172.84V214.5H1168.94V212.1H1165.04V215.6H1161.14V217.2H1157.25V216.3H1153.35V215.6H1149.45V215.3H1145.55V216.4H1141.66V214.2H1137.76V217.1H1133.86V215.7H1129.97V215.5H1126.07V217.6H1122.17V217.3H1118.27V215.1H1114.38V214.6H1110.48V215.8H1106.58V218.4H1102.68V218.2H1098.79V216.8H1094.89V215.8H1090.99V217.5H1087.10V215.2H1083.20V215.7H1079.30V213.2H1075.40V217.9H1071.51V216.5H1067.61V216.5H1063.71V217.0H1059.82V216.7H1055.92V214.6H1052.02V215.1H1048.12V215.9H1044.23V214.5H1040.33V214.6H1036.43V217.6H1032.53V220.2H1028.64V215.4H1024.74V219.4H1020.84V213.4H1016.95V218.0H1013.05V217.1H1009.15V215.9H1005.25V221.4H1001.36V216.7H997.46V215.7H993.56V218.2H989.66V214.6H985.77V219.1H981.87V216.4H977.97V213.9H974.08V217.1H970.18V217.5H966.28V214.6H962.38V213.6H958.49V215.7H954.59V213.2H950.69V214.4H946.79V215.4H942.90V217.4H939.00V216.8H935.10V215.2H931.21V217.2H927.31V214.9H923.41V217.0H919.51V215.2H915.62V219.2H911.72V216.8H907.82V217.7H903.92V213.3H900.03V213.2H896.13V213.5H892.23V215.7H888.34V215.8H884.44V212.6H880.54V217.3H876.64V212.5H872.75V216.8H868.85V214.2H864.95V213.2H861.05V213.4H857.16V212.4H853.26V215.6H849.36V214.8H845.47V215.5H841.57V217.8H837.67V210.1H833.77V210.9H829.88V216.2H825.98V213.9H822.08V217.6H818.18V211.6H814.29V222.5H810.39V209.6H806.49V210.4H802.60V210.7H798.70V220.3H794.80V218.6H790.90V209.3H787.01V216.6H783.11V216.1H779.21V217.1H775.32V211.0H771.42V213.2H767.52V209.9H763.62V210.7H759.73V217.6H755.83V210.0H751.93V214.6H748.03V215.4H744.14V222.0H740.24V218.0H736.34V216.8H732.45V216.0H728.55V213.4H724.65V212.7H720.75V213.4H716.86V212.5H712.96V212.8H709.06V210.8H705.16V210.9H701.27V214.6H697.37V211.4H693.47V213.1H689.58V208.3H685.68V213.0H681.78V212.1H677.88V211.9H673.99V214.0H670.09V211.2H666.19V215.1H662.29V208.1H658.40V210.3H654.50V212.7H650.60V212.4H646.71V211.6H642.81V213.8H638.91V209.4H635.01V212.0H631.12V212.9H627.22V213.6H623.32V213.2H619.42V213.0H615.53V207.4H611.63V208.5H607.73V208.4H603.84V212.2H599.94V214.3H596.04V211.2H592.14V215.7H588.25V210.0H584.35V212.3H580.45V212.1H576.55V209.2H572.66V207.6H568.76V215.3H564.86V209.3H560.97V210.0H557.07V211.0H553.17V211.4H549.27V211.7H545.38V213.7H541.48V210.7H537.58V208.9H533.68V209.8H529.79V212.2H525.89V206.8H521.99V210.6H518.10V209.4H514.20V206.5H510.30V207.3H506.40V209.8H502.51V210.7H498.61V210.4H494.71V210.1H490.82V205.7H486.92V206.4H483.02V211.4H479.12V204.1H475.23V211.3H471.33V211.1H467.43V211.9H463.53V206.0H459.64V214.0H455.74V211.4H451.84V214.4H447.95V211.4H444.05V208.0H440.15V205.3H436.25V211.2H432.36V206.9H428.46V213.4H424.56V206.0H420.66V209.0H416.77V206.6H412.87V206.1H408.97V212.8H405.08V208.2H401.18V211.4H397.28V206.6H393.38V209.1H389.49V211.2H385.59V214.8H381.69V208.5H377.79V207.3H373.90V210.3H370.00V206.1H366.10V206.7H362.21V207.4H358.31V204.5H354.41V210.4H350.51V215.4H346.62V209.7H342.72V209.1H338.82V208.0H334.92V214.0H331.03V210.7H327.13V211.4H323.23V208.9H319.34V210.7H315.44V208.2H311.54V215.3H307.64V214.9H303.75V213.8H299.85V210.0H295.95V209.8H292.05V207.4H288.16V210.4H284.26V209.4H280.36V208.5H276.47V211.2H272.57V211.6H268.67V211.2H264.77V211.9H260.88V210.1H256.98V210.4H253.08V207.6H249.18V215.1H245.29V207.8H241.39V212.5H237.49V206.7H233.60V210.7H229.70V210.5H225.80V213.4H221.90V211.3H218.01V209.5H214.11V211.5H210.21V208.3H206.32V209.9H202.42V220.7H198.52V210.8H194.62V211.3H190.73V215.4H186.83V208.0H182.93V213.2H179.03V215.7H175.14V212.9H171.24V213.9H167.34V214.0H163.45V209.9H159.55V208.0H155.65V213.3H151.75V209.4H147.86V209.5H143.96V214.1H140.06V214.6H136.16V210.1H132.27V205.9H128.37V210.4H124.47V216.4H120.58V215.5H116.68V217.1H112.78V216.2H108.88V209.6H104.99V213.4H101.09V212.8H97.19V211.8H93.29V210.5H89.40V212.4H85.50Z" fill="#d818d8" fill-opacity="0.036"/>
<path d="M85.50,197.3V197.3H89.40V194.9H93.29V198.9H97.19V202.5H101.09V198.2H104.99V193.4H108.88V196.1H112.78V201.5H116.68V193.6H120.58V199.5H124.47V198.9H128.37V195.7H132.27V199.4H136.16V198.3H140.06V196.6H143.96V203.7H147.86V197.8H151.75V198.0H155.65V197.3H159.55V196.3H163.45V199.5H167.34V198.6H171.24V200.4H175.14V202.3H179.03V192.4H182.93V195.8H186.83V198.9H190.73V197.2H194.62V197.0H198.52V201.6H202.42V202.6H206.32V198.2H210.21V203.5H214.11V191.0H218.01V198.6H221.90V197.4H225.80V201.5H229.70V199.7H233.60V201.2H237.49V198.1H241.39V200.7H245.29V198.2H249.18V195.1H253.08V198.3H256.98V201.0H260.88V197.4H264.77V201.8H268.67V201.3H272.57V196.5H276.47V198.4H280.36V196.7H284.26V198.8H288.16V195.6H292.05V197.5H295.95V199.8H299.85V197.9H303.75V192.1H307.64V197.9H311.54V200.8H315.44V200.6H319.34V199.4H323.23V189.9H327.13V201.7H331.03V193.7H334.92V195.0H338.82V198.3H342.72V197.7H346.62V200.4H350.51V194.7H354.41V194.3H358.31V202.1H362.21V197.5H366.10V201.2H370.00V195.4H373.90V195.8H377.79V195.1H381.69V197.5H385.59V196.8H389.49V197.2H393.38V198.5H397.28V199.0H401.18V199.8H405.08V199.1H408.97V196.6H412.87V200.4H416.77V198.1H420.66V198.6H424.56V198.4H428.46V191.9H432.36V196.2H436.25V195.9H440.15V192.7H444.05V197.4H447.95V195.5H451.84V198.1H455.74V195.6H459.64V194.5H463.53V198.4H467.43V194.5H471.33V199.0H475.23V199.1H479.12V191.8H483.02V200.9H486.92V198.9H490.82V199.7H494.71V195.2H498.61V195.6H502.51V201.5H506.40V200.0H510.30V194.6H514.20V198.9H518.10V200.6H521.99V197.9H525.89V194.8H529.79V198.4H533.68V197.4H537.58V197.6H541.48V199.2H545.38V199.3H549.27V196.9H553.17V200.7H557.07V202.7H560.97V198.4H564.86V199.4H568.76V197.5H572.66V201.8H576.55V195.1H580.45V200.0H584.35V199.3H588.25V199.5H592.14V199.7H596.04V199.1H599.94V195.6H603.84V202.7H607.73V201.2H611.63V198.0H615.53V200.9H619.42V197.4H623.32V199.0H627.22V199.9H631.12V200.3H635.01V203.6H638.91V196.6H642.81V197.8H646.71V201.3H650.60V200.6H654.50V196.5H658.40V197.2H662.29V199.1H666.19V201.5H670.09V205.0H673.99V199.7H677.88V194.8H681.78V202.4H685.68V204.2H689.58V201.7H693.47V200.1H697.37V199.2H701.27V200.5H705.16V201.3H709.06V198.7H712.96V205.0H716.86V201.8H720.75V205.1H724.65V202.2H728.55V199.4H732.45V199.9H736.34V202.7H740.24V201.1H744.14V202.1H748.03V201.8H751.93V205.2H755.83V203.1H759.73V199.0H763.62V200.0H767.52V202.7H771.42V202.3H775.32V204.4H779.21V202.5H783.11V199.7H787.01V201.5H790.90V202.2H794.80V204.5H798.70V204.8H802.60V206.5H806.49V203.7H810.39V200.7H814.29V202.3H818.18V206.0H822.08V204.2H825.98V205.7H829.88V205.4H833.77V201.4H837.67V202.3H841.57V201.6H845.47V204.7H849.36V201.1H853.26V208.0H857.16V202.2H861.05V205.1H864.95V204.0H868.85V207.1H872.75V204.1H876.64V203.4H880.54V206.3H884.44V206.1H888.34V208.7H892.23V205.5H896.13V207.4H900.03V204.4H903.92V204.6H907.82V205.8H911.72V206.6H915.62V203.0H919.51V206.0H923.41V203.2H927.31V206.4H931.21V206.1H935.10V208.6H939.00V208.9H942.90V211.0H946.79V204.4H950.69V209.5H954.59V211.3H958.49V206.9H962.38V208.4H966.28V209.5H970.18V211.0H974.08V209.1H977.97V209.9H981.87V207.2H985.77V207.0H989.66V207.7H993.56V209.0H997.46V209.8H1001.36V206.9H1005.25V211.0H1009.15V207.9H1013.05V210.7H1016.95V208.7H1020.84V210.5H1024.74V210.0H1028.64V206.9H1032.53V209.0H1036.43V206.9H1040.33V207.9H1044.23V209.5H1048.12V208.0H1052.02V210.6H1055.92V207.6H1059.82V210.5H1063.71V211.0H1067.61V207.3H1071.51V209.0H1075.40V211.4H1079.30V209.2H1083.20V208.3H1087.10V209.6H1090.99V208.1H1094.89V205.1H1098.79V208.2H1102.68V207.2H1106.58V209.8H1110.48V208.3H1114.38V206.9H1118.27V208.4H1122.17V211.5H1126.07V207.5H1129.97V207.9H1133.86V208.1H1137.76V208.4H1141.66V209.7H1145.55V210.7H1149.45V207.1H1153.35V209.7H1157.25V205.1H1161.14V208.1H1165.04V207.3H1168.94V206.7H1172.84V206.3H1176.73V207.9H1180.63V207.9H1184.53V207.5H1188.42V207.0H1192.32V209.0H1196.22V210.5H1200.12V208.4H1204.01V208.6H1207.91V206.5H1211.81V206.6H1215.71V206.7H1219.60V207.3H1223.50V206.6H1227.40V205.0H1231.29V209.8H1235.19V204.2H1239.09V208.6H1242.99V205.0H1246.88V204.4H1250.78V205.3H1254.68V207.6H1258.58V205.1H1262.47V205.2H1266.37V207.0H1270.27V207.2H1274.16V203.6H1278.06V204.9H1281.96V204.4H1285.86V206.2H1289.75V204.5H1293.65V205.2H1297.55V205.7H1301.45V206.1H1305.34V204.7H1309.24V207.2H1313.14V204.7H1317.03V203.0H1320.93V206.4H1324.83V203.7H1328.73V204.0H1332.62V202.6H1336.52V202.3H1340.42V203.2H1344.32V204.5H1348.21V205.3H1352.11V204.5H1356.01V202.6H1359.90V202.8H1363.80V202.9H1367.70V204.4H1371.60V202.1H1375.49V205.1H1379.39V203.3H1383.29V202.8H1387.18V199.4H1391.08V204.1H1394.98V203.4H1398.88V202.5H1402.77V202.0H1406.67V200.6H1410.57V203.9H1414.47V204.8H1418.36V200.6H1422.26V201.5H1426.16V203.3H1430.05V204.3H1433.95V202.8H1437.85V201.8H1441.75V203.7H1445.64V204.4H1449.54V200.4H1453.44V201.2H1457.34V202.1H1461.23V201.8H1465.13V201.9H1469.03V204.5H1472.92V203.3H1476.82V201.8H1480.72V202.6H1484.62V200.7H1488.51V201.8H1492.41V203.3H1496.31V202.5H1500.21V203.6H1504.10V203.3H1508.00V207.4H1504.10V210.1H1500.21V208.7H1496.31V208.8H1492.41V209.3H1488.51V208.7H1484.62V208.2H1480.72V210.9H1476.82V209.4H1472.92V209.6H1469.03V211.8H1465.13V211.9H1461.23V209.4H1457.34V208.6H1453.44V209.4H1449.54V206.6H1445.64V210.2H1441.75V209.1H1437.85V206.1H1433.95V207.2H1430.05V210.1H1426.16V210.2H1422.26V209.3H1418.36V207.7H1414.47V209.6H1410.57V210.4H1406.67V209.4H1402.77V211.6H1398.88V209.4H1394.98V211.7H1391.08V212.3H1387.18V211.9H1383.29V209.4H1379.39V211.6H1375.49V211.0H1371.60V209.2H1367.70V212.1H1363.80V209.2H1359.90V212.1H1356.01V207.4H1352.11V210.3H1348.21V208.0H1344.32V210.9H1340.42V212.7H1336.52V208.9H1332.62V210.8H1328.73V211.3H1324.83V212.0H1320.93V214.4H1317.03V213.0H1313.14V212.2H1309.24V212.1H1305.34V212.7H1301.45V211.7H1297.55V211.1H1293.65V212.5H1289.75V214.1H1285.86V210.3H1281.96V209.6H1278.06V215.0H1274.16V210.2H1270.27V211.8H1266.37V215.7H1262.47V212.3H1258.58V212.3H1254.68V213.1H1250.78V214.9H1246.88V214.5H1242.99V213.3H1239.09V211.7H1235.19V214.6H1231.29V215.7H1227.40V210.8H1223.50V217.0H1219.60V214.0H1215.71V212.6H1211.81V214.7H1207.91V216.0H1204.01V215.6H1200.12V216.0H1196.22V213.7H1192.32V214.1H1188.42V216.3H1184.53V213.7H1180.63V215.0H1176.73V214.8H1172.84V216.8H1168.94V217.7H1165.04V216.9H1161.14V213.4H1157.25V215.1H1153.35V218.5H1149.45V216.3H1145.55V217.3H1141.66V216.9H1137.76V216.2H1133.86V214.2H1129.97V218.9H1126.07V215.7H1122.17V214.7H1118.27V218.4H1114.38V214.5H1110.48V216.4H1106.58V216.3H1102.68V215.7H1098.79V218.0H1094.89V215.7H1090.99V213.0H1087.10V213.1H1083.20V214.3H1079.30V214.2H1075.40V216.2H1071.51V213.2H1067.61V218.8H1063.71V215.3H1059.82V217.3H1055.92V217.4H1052.02V218.1H1048.12V215.4H1044.23V217.4H1040.33V217.3H1036.43V215.4H1032.53V216.1H1028.64V215.8H1024.74V215.2H1020.84V218.0H1016.95V218.1H1013.05V217.4H1009.15V215.6H1005.25V214.2H1001.36V215.0H997.46V215.6H993.56V215.5H989.66V217.8H985.77V216.3H981.87V218.0H977.97V214.4H974.08V214.5H970.18V221.3H966.28V220.0H962.38V214.6H958.49V216.3H954.59V216.5H950.69V215.8H946.79V217.3H942.90V215.1H939.00V214.3H935.10V218.3H931.21V214.4H927.31V215.2H923.41V215.5H919.51V217.4H915.62V214.3H911.72V218.3H907.82V221.3H903.92V217.4H900.03V216.5H896.13V217.3H892.23V216.2H888.34V215.4H884.44V211.4H880.54V213.8H876.64V213.0H872.75V215.7H868.85V216.1H864.95V217.0H861.05V214.2H857.16V215.0H853.26V217.7H849.36V214.3H845.47V215.1H841.57V214.3H837.67V216.6H833.77V215.4H829.88V217.3H825.98V216.4H822.08V211.0H818.18V214.5H814.29V210.4H810.39V213.4H806.49V213.5H802.60V213.2H798.70V217.6H794.80V209.5H790.90V211.4H787.01V216.7H783.11V214.7H779.21V212.9H775.32V213.1H771.42V217.6H767.52V217.0H763.62V211.3H759.73V215.8H755.83V219.0H751.93V215.7H748.03V209.6H744.14V214.2H740.24V215.5H736.34V213.9H732.45V214.3H728.55V212.1H724.65V215.2H720.75V213.9H716.86V218.7H712.96V213.6H709.06V217.5H705.16V214.4H701.27V210.0H697.37V215.2H693.47V214.7H689.58V211.0H685.68V210.0H681.78V215.4H677.88V211.0H673.99V213.9H670.09V209.6H666.19V212.7H662.29V215.3H658.40V213.0H654.50V209.8H650.60V212.0H646.71V215.9H642.81V208.6H638.91V211.8H635.01V213.1H631.12V206.5H627.22V209.5H623.32V209.7H619.42V212.7H615.53V211.1H611.63V210.5H607.73V209.2H603.84V213.3H599.94V211.8H596.04V212.5H592.14V213.6H588.25V211.9H584.35V208.0H580.45V208.9H576.55V211.7H572.66V209.4H568.76V208.6H564.86V214.3H560.97V212.2H557.07V210.0H553.17V211.3H549.27V208.6H545.38V211.7H541.48V208.5H537.58V208.6H533.68V205.1H529.79V211.8H525.89V213.0H521.99V209.4H518.10V206.8H514.20V205.4H510.30V208.6H506.40V211.7H502.51V211.1H498.61V211.2H494.71V211.5H490.82V207.6H486.92V212.6H483.02V209.6H479.12V207.3H475.23V210.8H471.33V204.5H467.43V212.0H463.53V210.7H459.64V203.9H455.74V208.7H451.84V216.1H447.95V215.8H444.05V207.3H440.15V211.1H436.25V207.2H432.36V215.3H428.46V209.3H424.56V205.4H420.66V210.9H416.77V211.3H412.87V215.4H408.97V211.3H405.08V207.4H401.18V210.2H397.28V209.9H393.38V209.1H389.49V204.3H385.59V210.9H381.69V206.7H377.79V205.8H373.90V208.5H370.00V206.9H366.10V207.8H362.21V208.4H358.31V208.2H354.41V208.7H350.51V209.5H346.62V213.6H342.72V205.8H338.82V207.1H334.92V211.3H331.03V211.0H327.13V210.1H323.23V212.6H319.34V210.7H315.44V209.0H311.54V209.8H307.64V215.2H303.75V213.0H299.85V207.1H295.95V209.4H292.05V211.1H288.16V206.4H284.26V206.7H280.36V209.7H276.47V208.8H272.57V205.9H268.67V211.0H264.77V209.8H260.88V212.3H256.98V207.5H253.08V208.9H249.18V211.2H245.29V212.1H241.39V209.2H237.49V210.2H233.60V210.7H229.70V209.7H225.80V211.7H221.90V211.2H218.01V214.4H214.11V208.9H210.21V209.2H206.32V210.5H202.42V210.3H198.52V212.8H194.62V207.0H190.73V211.3H186.83V211.0H182.93V205.9H179.03V212.6H175.14V206.1H171.24V210.6H167.34V206.3H163.45V211.8H159.55V213.8H155.65V216.4H151.75V209.6H147.86V210.0H143.96V206.1H140.06V211.0H136.16V210.5H132.27V206.1H128.37V209.8H124.47V214.1H120.58V212.2H116.68V213.8H112.78V208.1H108.88V211.9H104.99V209.1H101.09V211.1H97.19V216.0H93.29V213.0H89.40V211.4H85.50Z" fill="#d818d8" fill-opacity="0.036"/>
<path d="M85.50,201.3V201.3H89.40V196.5H93.29V199.9H97.19V193.7H101.09V200.0H104.99V197.5H108.88V197.9H112.78V199.2H116.68V203.1H120.58V197.1H124.47V198.9H128.37V199.0H132.27V197.2H136.16V197.8H140.06V203.3H143.96V198.6H147.86V202.3H151.75V196.7H155.65V198.6H159.55V198.3H163.45V199.2H167.34V200.9H171.24V201.9H175.14V200.8H179.03V198.9H182.93V199.6H186.83V197.8H190.73V196.0H194.62V203.2H198.52V200.0H202.42V200.7H206.32V202.6H210.21V193.7H214.11V194.9H218.01V198.6H221.90V198.5H225.80V200.6H229.70V195.6H233.60V196.3H237.49V201.1H241.39V196.1H245.29V202.2H249.18V199.5H253.08V198.7H256.98V199.0H260.88V197.1H264.77V196.5H268.67V197.8H272.57V202.4H276.47V197.9H280.36V196.6H284.26V198.8H288.16V197.8H292.05V198.4H295.95V200.3H299.85V198.6H303.75V197.8H307.64V196.3H311.54V203.1H315.44V200.7H319.34V198.6H323.23V198.4H327.13V195.7H331.03V195.3H334.92V193.9H338.82V194.3H342.72V199.8H346.62V201.9H350.51V197.1H354.41V200.0H358.31V197.8H362.21V198.6H366.10V197.7H370.00V198.1H373.90V198.1H377.79V199.0H381.69V197.5H385.59V196.3H389.49V195.4H393.38V198.1H397.28V196.9H401.18V200.4H405.08V198.9H408.97V192.0H412.87V197.9H416.77V196.9H420.66V196.8H424.56V198.6H428.46V200.4H432.36V194.5H436.25V195.2H440.15V197.3H444.05V196.2H447.95V193.4H451.84V199.9H455.74V198.4H459.64V201.8H463.53V199.3H467.43V200.7H471.33V197.9H475.23V198.9H479.12V193.3H483.02V197.8H486.92V197.4H490.82V197.4H494.71V198.6H498.61V192.3H502.51V198.4H506.40V197.3H510.30V197.8H514.20V198.6H518.10V199.4H521.99V196.8H525.89V194.9H529.79V202.5H533.68V197.8H537.58V200.9H541.48V197.2H545.38V195.6H549.27V198.4H553.17V198.6H557.07V195.6H560.97V200.7H564.86V190.8H568.76V192.9H572.66V197.0H576.55V197.8H580.45V200.1H584.35V201.0H588.25V201.6H592.14V198.3H596.04V201.2H599.94V198.8H603.84V198.0H607.73V204.9H611.63V200.7H615.53V198.6H619.42V198.6H623.32V193.9H627.22V196.5H631.12V201.3H635.01V196.8H638.91V200.5H642.81V200.5H646.71V198.3H650.60V197.2H654.50V196.5H658.40V196.9H662.29V201.3H666.19V205.0H670.09V199.9H673.99V202.4H677.88V197.7H681.78V201.6H685.68V200.5H689.58V203.2H693.47V198.9H697.37V196.8H701.27V198.7H705.16V203.4H709.06V202.0H712.96V197.5H716.86V201.9H720.75V201.4H724.65V202.9H728.55V201.1H732.45V203.0H736.34V202.1H740.24V200.3H744.14V202.1H748.03V202.1H751.93V202.6H755.83V199.7H759.73V203.2H763.62V201.1H767.52V203.4H771.42V201.9H775.32V198.6H779.21V200.9H783.11V208.0H787.01V203.6H790.90V205.0H794.80V201.2H798.70V204.5H802.60V199.4H806.49V206.4H810.39V201.2H814.29V203.4H818.18V205.3H822.08V203.7H825.98V203.1H829.88V202.9H833.77V204.0H837.67V203.3H841.57V201.8H845.47V201.0H849.36V202.7H853.26V208.3H857.16V207.7H861.05V204.0H864.95V201.1H868.85V204.5H872.75V205.7H876.64V202.4H880.54V201.1H884.44V205.4H888.34V205.1H892.23V204.3H896.13V204.1H900.03V206.1H903.92V206.2H907.82V208.7H911.72V208.0H915.62V206.9H919.51V208.9H923.41V207.1H927.31V200.5H931.21V206.7H935.10V206.0H939.00V204.6H942.90V207.6H946.79V205.5H950.69V209.4H954.59V208.3H958.49V210.6H962.38V208.3H966.28V207.1H970.18V209.3H974.08V208.7H977.97V207.7H981.87V210.3H985.77V209.6H989.66V208.8H993.56V206.7H997.46V206.6H1001.36V207.2H1005.25V206.8H1009.15V209.1H1013.05V208.6H1016.95V205.7H1020.84V209.2H1024.74V206.3H1028.64V209.1H1032.53V209.7H1036.43V207.8H1040.33V212.2H1044.23V210.6H1048.12V209.4H1052.02V206.0H1055.92V209.0H1059.82V209.5H1063.71V209.1H1067.61V209.4H1071.51V207.0H1075.40V206.6H1079.30V211.1H1083.20V208.4H1087.10V207.4H1090.99V209.2H1094.89V209.6H1098.79V206.5H1102.68V210.2H1106.58V207.3H1110.48V209.2H1114.38V210.8H1118.27V211.2H1122.17V206.1H1126.07V207.1H1129.97V208.0H1133.86V210.4H1137.76V209.8H1141.66V211.8H1145.55V210.6H1149.45V208.4H1153.35V209.8H1157.25V210.5H1161.14V209.4H1165.04V208.4H1168.94V207.7H1172.84V207.6H1176.73V209.9H1180.63V208.5H1184.53V208.7H1188.42V207.4H1192.32V209.2H1196.22V207.2H1200.12V208.4H1204.01V208.0H1207.91V207.6H1211.81V208.2H1215.71V209.4H1219.60V207.3H1223.50V205.3H1227.40V205.7H1231.29V206.2H1235.19V207.3H1239.09V208.8H1242.99V205.1H1246.88V206.9H1250.78V206.7H1254.68V205.0H1258.58V205.8H1262.47V202.4H1266.37V205.3H1270.27V206.2H1274.16V205.9H1278.06V207.0H1281.96V203.0H1285.86V205.8H1289.75V206.3H1293.65V202.8H1297.55V205.6H1301.45V205.3H1305.34V204.2H1309.24V203.6H1313.14V204.0H1317.03V206.2H1320.93V205.2H1324.83V205.3H1328.73V205.3H1332.62V202.1H1336.52V206.2H1340.42V204.4H1344.32V204.4H1348.21V201.9H1352.11V205.9H1356.01V205.0H1359.90V202.1H1363.80V204.6H1367.70V203.6H1371.60V203.1H1375.49V202.2H1379.39V201.3H1383.29V204.1H1387.18V205.0H1391.08V202.7H1394.98V202.5H1398.88V201.3H1402.77V202.5H1406.67V202.8H1410.57V202.9H1414.47V203.0H1418.36V202.7H1422.26V202.5H1426.16V203.0H1430.05V202.9H1433.95V205.0H1437.85V200.8H1441.75V200.2H1445.64V203.0H1449.54V201.4H1453.44V200.1H1457.34V201.4H1461.23V200.9H1465.13V201.5H1469.03V201.0H1472.92V202.3H1476.82V200.4H1480.72V202.2H1484.62V200.7H1488.51V203.9H1492.41V203.8H1496.31V203.2H1500.21V201.3H1504.10V201.7H1508.00V210.4H1504.10V210.5H1500.21V206.1H1496.31V208.1H1492.41V209.4H1488.51V207.5H1484.62V209.9H1480.72V211.6H1476.82V209.5H1472.92V209.1H1469.03V208.3H1465.13V207.7H1461.23V208.2H1457.34V207.8H1453.44V207.2H1449.54V210.3H1445.64V211.7H1441.75V207.5H1437.85V207.8H1433.95V210.2H1430.05V206.7H1426.16V208.3H1422.26V209.0H1418.36V210.9H1414.47V211.6H1410.57V211.1H1406.67V207.1H1402.77V209.7H1398.88V209.4H1394.98V208.9H1391.08V209.1H1387.18V211.5H1383.29V209.7H1379.39V213.6H1375.49V207.4H1371.60V211.4H1367.70V207.4H1363.80V208.7H1359.90V210.0H1356.01V209.3H1352.11V208.0H1348.21V209.3H1344.32V210.3H1340.42V209.8H1336.52V211.1H1332.62V210.4H1328.73V212.5H1324.83V210.4H1320.93V210.8H1317.03V210.5H1313.14V211.4H1309.24V211.4H1305.34V213.1H1301.45V209.4H1297.55V211.1H1293.65V213.9H1289.75V212.1H1285.86V211.6H1281.96V212.5H1278.06V213.0H1274.16V214.6H1270.27V213.8H1266.37V212.7H1262.47V215.6H1258.58V211.6H1254.68V212.6H1250.78V212.0H1246.88V211.9H1242.99V214.4H1239.09V214.4H1235.19V215.0H1231.29V213.2H1227.40V212.9H1223.50V214.6H1219.60V213.1H1215.71V216.7H1211.81V212.7H1207.91V213.5H1204.01V214.0H1200.12V215.2H1196.22V215.2H1192.32V214.7H1188.42V214.0H1184.53V214.6H1180.63V216.4H1176.73V216.3H1172.84V215.8H1168.94V216.5H1165.04V216.7H1161.14V214.5H1157.25V216.1H1153.35V214.9H1149.45V214.7H1145.55V214.5H1141.66V216.8H1137.76V215.2H1133.86V213.4H1129.97V215.2H1126.07V216.3H1122.17V217.6H1118.27V219.2H1114.38V213.4H1110.48V216.4H1106.58V220.1H1102.68V217.6H1098.79V216.2H1094.89V216.5H1090.99V213.8H1087.10V214.6H1083.20V216.3H1079.30V214.1H1075.40V216.8H1071.51V214.6H1067.61V216.2H1063.71V217.1H1059.82V215.1H1055.92V218.1H1052.02V217.5H1048.12V215.7H1044.23V219.3H1040.33V213.0H1036.43V214.6H1032.53V218.8H1028.64V216.2H1024.74V217.3H1020.84V217.7H1016.95V218.1H1013.05V217.5H1009.15V215.5H1005.25V216.6H1001.36V218.8H997.46V215.2H993.56V217.4H989.66V219.5H985.77V217.6H981.87V214.8H977.97V217.1H974.08V217.9H970.18V213.5H966.28V217.7H962.38V219.0H958.49V217.9H954.59V212.3H950.69V220.1H946.79V216.6H942.90V218.9H939.00V215.7H935.10V215.1H931.21V218.4H927.31V214.2H923.41V214.1H919.51V213.0H915.62V215.9H911.72V216.4H907.82V216.6H903.92V217.2H900.03V213.4H896.13V212.1H892.23V215.2H888.34V211.8H884.44V215.0H880.54V214.2H876.64V210.9H872.75V214.4H868.85V218.6H864.95V219.3H861.05V214.1H857.16V216.0H853.26V214.9H849.36V215.6H845.47V220.4H841.57V216.1H837.67V214.2H833.77V212.2H829.88V214.9H825.98V218.7H822.08V214.2H818.18V212.2H814.29V209.8H810.39V217.6H806.49V215.9H802.60V210.1H798.70V210.0H794.80V216.0H790.90V215.4H787.01V215.4H783.11V217.1H779.21V216.4H775.32V214.4H771.42V215.5H767.52V211.3H763.62V218.0H759.73V214.0H755.83V211.3H751.93V210.6H748.03V213.7H744.14V211.0H740.24V213.3H736.34V212.0H732.45V215.3H728.55V217.1H724.65V214.5H720.75V217.4H716.86V213.3H712.96V212.1H709.06V213.5H705.16V215.0H701.27V212.1H697.37V215.4H693.47V217.1H689.58V210.3H685.68V212.7H681.78V212.3H677.88V216.8H673.99V210.1H670.09V212.4H666.19V211.4H662.29V213.3H658.40V212.7H654.50V211.6H650.60V216.7H646.71V208.9H642.81V211.8H638.91V210.2H635.01V206.4H631.12V211.8H627.22V209.5H623.32V212.8H619.42V213.6H615.53V213.0H611.63V211.3H607.73V214.1H603.84V211.0H599.94V209.4H596.04V213.1H592.14V213.8H588.25V213.7H584.35V207.1H580.45V213.5H576.55V211.7H572.66V211.2H568.76V212.3H564.86V217.2H560.97V208.8H557.07V210.7H553.17V208.2H549.27V207.5H545.38V214.6H541.48V213.3H537.58V212.2H533.68V208.5H529.79V209.4H525.89V210.8H521.99V206.3H518.10V204.9H514.20V210.3H510.30V206.3H506.40V209.8H502.51V210.7H498.61V209.7H494.71V209.3H490.82V212.8H486.92V209.0H483.02V207.3H479.12V208.5H475.23V211.0H471.33V207.0H467.43V206.9H463.53V208.5H459.64V208.8H455.74V209.4H451.84V205.3H447.95V209.4H444.05V204.3H440.15V212.2H436.25V206.0H432.36V208.3H428.46V206.7H424.56V208.9H420.66V208.0H416.77V215.8H412.87V204.7H408.97V207.8H405.08V209.0H401.18V208.1H397.28V207.4H393.38V205.7H389.49V206.7H385.59V212.7H381.69V209.0H377.79V210.1H373.90V210.0H370.00V209.4H366.10V207.4H362.21V211.1H358.31V207.1H354.41V207.0H350.51V211.2H346.62V207.9H342.72V209.7H338.82V208.3H334.92V214.3H331.03V209.4H327.13V208.9H323.23V212.3H319.34V204.6H315.44V209.8H311.54V213.4H307.64V210.4H303.75V207.2H299.85V213.4H295.95V208.7H292.05V211.8H288.16V211.1H284.26V215.8H280.36V209.5H276.47V210.8H272.57V210.7H268.67V209.8H264.77V207.2H260.88V209.5H256.98V214.8H253.08V211.1H249.18V211.8H245.29V213.5H241.39V209.6H237.49V213.5H233.60V208.8H229.70V211.1H225.80V210.6H221.90V213.0H218.01V206.8H214.11V212.1H210.21V208.8H206.32V209.7H202.42V212.6H198.52V206.5H194.62V210.0H190.73V214.5H186.83V216.2H182.93V209.5H179.03V210.5H175.14V213.1H171.24V214.3H167.34V208.5H163.45V206.1H159.55V208.3H155.65V212.1H151.75V214.6H147.86V211.0H143.96V213.3H140.06V209.9H136.16V213.7H132.27V206.7H128.37V209.1H124.47V206.4H120.58V209.8H116.68V207.4H112.78V210.8H108.88V211.1H104.99V209.6H101.09V211.4H97.19V209.3H93.29V211.5H89.40V207.2H85.50Z" fill="#d818d8" fill-opacity="0.036"/>
<path d="M85.50,198.0V198.0H89.40V200.3H93.29V204.5H97.19V202.1H101.09V201.2H104.99V202.2H108.88V203.0H112.78V198.8H116.68V202.0H120.58V193.9H124.47V198.1H128.37V196.4H132.27V198.3H136.16V200.5H140.06V202.8H143.96V197.4H147.86V196.7H151.75V194.7H155.65V198.3H159.55V199.4H163.45V201.1H167.34V196.7H171.24V198.7H175.14V202.3H179.03V195.7H182.93V202.1H186.83V199.0H190.73V199.5H194.62V197.7H198.52V198.2H202.42V197.4H206.32V199.6H210.21V197.6H214.11V199.2H218.01V197.9H221.90V200.1H225.80V201.8H229.70V199.7H233.60V199.3H237.49V194.7H241.39V195.5H245.29V202.9H249.18V199.0H253.08V197.1H256.98V198.0H260.88V193.1H264.77V195.5H268.67V198.4H272.57V202.4H276.47V197.6H280.36V198.0H284.26V198.2H288.16V196.7H292.05V202.3H295.95V201.6H299.85V200.0H303.75V198.7H307.64V200.5H311.54V195.5H315.44V198.0H319.34V194.4H323.23V199.9H327.13V200.5H331.03V202.0H334.92V194.2H338.82V194.0H342.72V198.3H346.62V194.3H350.51V197.2H354.41V200.6H358.31V198.0H362.21V203.0H366.10V192.8H370.00V198.4H373.90V197.8H377.79V198.9H381.69V194.1H385.59V199.9H389.49V197.1H393.38V196.0H397.28V193.5H401.18V197.7H405.08V201.8H408.97V192.1H412.87V192.9H416.77V197.2H420.66V198.3H424.56V196.8H428.46V197.3H432.36V197.7H436.25V194.5H440.15V196.2H444.05V196.8H447.95V197.3H451.84V199.6H455.74V196.0H459.64V200.3H463.53V198.8H467.43V198.2H471.33V198.2H475.23V201.0H479.12V199.8H483.02V199.2H486.92V196.0H490.82V197.7H494.71V198.5H498.61V198.5H502.51V202.5H506.40V194.3H510.30V195.4H514.20V194.0H518.10V201.3H521.99V198.6H525.89V197.9H529.79V197.5H533.68V195.5H537.58V202.8H541.48V203.4H545.38V192.3H549.27V202.4H553.17V196.6H557.07V202.1H560.97V200.8H564.86V195.7H568.76V197.2H572.66V202.7H576.55V200.0H580.45V196.5H584.35V198.9H588.25V198.2H592.14V201.7H596.04V202.3H599.94V203.7H603.84V198.9H607.73V200.6H611.63V199.3H615.53V199.4H619.42V199.4H623.32V204.0H627.22V197.0H631.12V200.3H635.01V194.2H638.91V202.4H642.81V201.6H646.71V202.7H650.60V205.0H654.50V201.5H658.40V199.6H662.29V203.4H666.19V200.4H670.09V206.3H673.99V201.5H677.88V203.8H681.78V198.9H685.68V203.2H689.58V199.4H693.47V197.9H697.37V199.1H701.27V204.1H705.16V200.3H709.06V199.5H712.96V206.2H716.86V198.9H720.75V202.2H724.65V202.4H728.55V203.4H732.45V206.9H736.34V202.9H740.24V202.6H744.14V200.8H748.03V202.7H751.93V201.2H755.83V201.5H759.73V202.8H763.62V203.0H767.52V200.9H771.42V204.2H775.32V206.1H779.21V200.8H783.11V203.5H787.01V208.1H790.90V203.3H794.80V199.3H798.70V201.8H802.60V203.5H806.49V206.7H810.39V202.3H814.29V203.5H818.18V200.4H822.08V205.5H825.98V204.9H829.88V204.8H833.77V203.1H837.67V199.9H841.57V207.9H845.47V202.2H849.36V206.5H853.26V207.1H857.16V208.7H861.05V203.8H864.95V207.2H868.85V203.2H872.75V206.2H876.64V206.4H880.54V204.0H884.44V204.6H888.34V206.7H892.23V204.8H896.13V204.9H900.03V205.8H903.92V205.1H907.82V210.2H911.72V206.1H915.62V204.8H919.51V207.6H923.41V207.2H927.31V208.7H931.21V209.4H935.10V210.8H939.00V208.0H942.90V205.3H946.79V210.5H950.69V209.1H954.59V207.0H958.49V209.4H962.38V205.5H966.28V211.4H970.18V208.3H974.08V207.5H977.97V204.9H981.87V209.4H985.77V207.1H989.66V207.6H993.56V210.9H997.46V208.4H1001.36V205.4H1005.25V206.5H1009.15V206.1H1013.05V207.5H1016.95V208.0H1020.84V211.0H1024.74V209.1H1028.64V209.5H1032.53V206.8H1036.43V208.4H1040.33V207.8H1044.23V211.0H1048.12V209.6H1052.02V211.3H1055.92V208.7H1059.82V209.2H1063.71V206.4H1067.61V209.4H1071.51V209.4H1075.40V211.2H1079.30V208.9H1083.20V208.6H1087.10V206.9H1090.99V208.2H1094.89V210.0H1098.79V207.7H1102.68V211.5H1106.58V208.0H1110.48V207.5H1114.38V206.9H1118.27V208.0H1122.17V209.7H1126.07V208.6H1129.97V208.4H1133.86V211.3H1137.76V205.8H1141.66V209.7H1145.55V207.5H1149.45V208.3H1153.35V208.3H1157.25V208.7H1161.14V207.4H1165.04V205.2H1168.94V206.7H1172.84V210.6H1176.73V209.8H1180.63V205.8H1184.53V207.2H1188.42V206.8H1192.32V208.6H1196.22V209.5H1200.12V207.2H1204.01V208.0H1207.91V207.8H1211.81V209.4H1215.71V210.3H1219.60V207.8H1223.50V206.7H1227.40V208.4H1231.29V207.3H1235.19V207.4H1239.09V208.4H1242.99V206.6H1246.88V205.8H1250.78V207.6H1254.68V205.0H1258.58V205.4H1262.47V204.7H1266.37V206.4H1270.27V206.8H1274.16V207.4H1278.06V204.9H1281.96V205.0H1285.86V204.3H1289.75V207.4H1293.65V204.0H1297.55V203.2H1301.45V202.7H1305.34V206.3H1309.24V204.5H1313.14V205.8H1317.03V204.6H1320.93V203.8H1324.83V206.0H1328.73V204.9H1332.62V205.2H1336.52V204.3H1340.42V203.3H1344.32V205.2H1348.21V201.1H1352.11V205.8H1356.01V203.7H1359.90V202.5H1363.80V203.6H1367.70V202.3H1371.60V205.5H1375.49V202.2H1379.39V205.5H1383.29V200.5H1387.18V205.9H1391.08V203.9H1394.98V203.7H1398.88V202.2H1402.77V202.9H1406.67V204.7H1410.57V201.2H1414.47V201.6H1418.36V203.2H1422.26V202.0H1426.16V201.0H1430.05V201.1H1433.95V200.1H1437.85V202.3H1441.75V201.9H1445.64V201.7H1449.54V204.4H1453.44V204.0H1457.34V200.3H1461.23V200.0H1465.13V204.2H1469.03V200.6H1472.92V200.4H1476.82V198.4H1480.72V200.7H1484.62V202.5H1488.51V200.3H1492.41V202.2H1496.31V201.3H1500.21V204.2H1504.10V203.2H1508.00V209.5H1504.10V208.0H1500.21V206.4H1496.31V207.9H1492.41V209.2H1488.51V208.1H1484.62V209.3H1480.72V211.3H1476.82V208.1H1472.92V208.6H1469.03V207.5H1465.13V207.7H1461.23V211.2H1457.34V209.1H1453.44V209.8H1449.54V205.9H1445.64V209.9H1441.75V209.1H1437.85V210.4H1433.95V208.2H1430.05V207.5H1426.16V206.7H1422.26V207.3H1418.36V208.6H1414.47V209.0H1410.57V212.1H1406.67V209.9H1402.77V207.8H1398.88V210.3H1394.98V210.3H1391.08V210.3H1387.18V209.5H1383.29V209.7H1379.39V213.0H1375.49V207.9H1371.60V213.0H1367.70V211.1H1363.80V207.9H1359.90V210.1H1356.01V208.3H1352.11V211.5H1348.21V212.1H1344.32V210.3H1340.42V210.9H1336.52V212.4H1332.62V210.1H1328.73V211.1H1324.83V210.6H1320.93V210.8H1317.03V211.4H1313.14V210.8H1309.24V209.7H1305.34V213.9H1301.45V212.2H1297.55V212.5H1293.65V211.4H1289.75V211.3H1285.86V209.8H1281.96V211.4H1278.06V211.5H1274.16V214.3H1270.27V213.6H1266.37V213.1H1262.47V214.8H1258.58V210.9H1254.68V211.9H1250.78V214.7H1246.88V213.2H1242.99V211.1H1239.09V213.5H1235.19V212.9H1231.29V211.2H1227.40V216.0H1223.50V214.2H1219.60V212.3H1215.71V214.6H1211.81V214.5H1207.91V213.3H1204.01V217.0H1200.12V211.8H1196.22V212.9H1192.32V215.7H1188.42V213.4H1184.53V213.6H1180.63V216.9H1176.73V218.5H1172.84V217.6H1168.94V214.2H1165.04V212.4H1161.14V213.2H1157.25V216.4H1153.35V213.5H1149.45V219.4H1145.55V216.1H1141.66V213.2H1137.76V219.5H1133.86V214.2H1129.97V215.1H1126.07V213.7H1122.17V215.3H1118.27V215.8H1114.38V214.6H1110.48V215.7H1106.58V216.3H1102.68V214.7H1098.79V215.6H1094.89V217.0H1090.99V216.0H1087.10V218.7H1083.20V215.7H1079.30V218.0H1075.40V214.7H1071.51V217.9H1067.61V219.1H1063.71V217.7H1059.82V214.1H1055.92V215.1H1052.02V217.4H1048.12V214.3H1044.23V218.0H1040.33V215.1H1036.43V217.5H1032.53V214.5H1028.64V215.7H1024.74V216.7H1020.84V217.2H1016.95V215.0H1013.05V215.9H1009.15V217.9H1005.25V217.8H1001.36V213.5H997.46V216.1H993.56V216.1H989.66V221.5H985.77V215.8H981.87V216.1H977.97V218.4H974.08V217.8H970.18V212.4H966.28V214.6H962.38V215.6H958.49V215.7H954.59V213.0H950.69V216.9H946.79V217.0H942.90V216.6H939.00V213.0H935.10V217.2H931.21V219.7H927.31V211.8H923.41V216.9H919.51V214.8H915.62V215.4H911.72V216.4H907.82V215.6H903.92V215.7H900.03V214.5H896.13V218.4H892.23V211.3H888.34V212.9H884.44V219.2H880.54V213.0H876.64V215.1H872.75V215.0H868.85V217.6H864.95V215.8H861.05V213.0H857.16V218.8H853.26V215.7H849.36V214.1H845.47V217.3H841.57V221.0H837.67V214.7H833.77V214.7H829.88V217.0H825.98V218.3H822.08V214.4H818.18V215.2H814.29V210.1H810.39V212.8H806.49V212.9H802.60V213.3H798.70V216.7H794.80V216.6H790.90V210.6H787.01V216.0H783.11V220.6H779.21V213.8H775.32V211.8H771.42V212.4H767.52V219.7H763.62V215.7H759.73V216.5H755.83V214.9H751.93V216.9H748.03V214.1H744.14V217.5H740.24V213.3H736.34V212.9H732.45V213.8H728.55V215.5H724.65V208.3H720.75V216.0H716.86V219.5H712.96V216.6H709.06V213.1H705.16V209.3H701.27V208.2H697.37V213.1H693.47V213.5H689.58V211.9H685.68V212.0H681.78V208.6H677.88V214.2H673.99V212.9H670.09V213.1H666.19V210.7H662.29V212.1H658.40V209.1H654.50V213.5H650.60V209.1H646.71V211.7H642.81V212.2H638.91V215.9H635.01V210.0H631.12V213.1H627.22V209.2H623.32V212.2H619.42V214.6H615.53V218.4H611.63V216.6H607.73V208.9H603.84V210.0H599.94V206.1H596.04V210.6H592.14V212.4H588.25V215.7H584.35V207.6H580.45V215.8H576.55V210.0H572.66V211.8H568.76V209.5H564.86V210.3H560.97V211.3H557.07V208.0H553.17V208.8H549.27V209.7H545.38V210.7H541.48V205.5H537.58V207.6H533.68V212.3H529.79V212.1H525.89V210.4H521.99V215.0H518.10V205.9H514.20V211.9H510.30V209.1H506.40V211.6H502.51V206.0H498.61V205.6H494.71V205.3H490.82V208.4H486.92V206.5H483.02V210.7H479.12V210.1H475.23V210.1H471.33V205.8H467.43V206.9H463.53V211.1H459.64V209.4H455.74V214.3H451.84V207.8H447.95V206.0H444.05V209.3H440.15V212.2H436.25V206.8H432.36V211.5H428.46V208.8H424.56V203.7H420.66V211.1H416.77V212.6H412.87V206.0H408.97V212.1H405.08V210.1H401.18V212.9H397.28V210.4H393.38V215.0H389.49V212.2H385.59V209.2H381.69V207.4H377.79V212.4H373.90V214.0H370.00V207.7H366.10V211.9H362.21V205.5H358.31V215.9H354.41V208.0H350.51V214.7H346.62V206.1H342.72V207.0H338.82V209.0H334.92V207.0H331.03V207.3H327.13V209.2H323.23V213.4H319.34V206.7H315.44V208.6H311.54V212.8H307.64V212.8H303.75V204.6H299.85V208.9H295.95V210.5H292.05V208.2H288.16V210.3H284.26V211.0H280.36V212.5H276.47V209.6H272.57V209.1H268.67V216.2H264.77V207.1H260.88V211.8H256.98V208.9H253.08V211.9H249.18V210.5H245.29V206.1H241.39V209.0H237.49V208.8H233.60V211.9H229.70V209.7H225.80V210.6H221.90V211.8H218.01V212.1H214.11V211.5H210.21V211.9H206.32V213.9H202.42V214.7H198.52V210.4H194.62V212.0H190.73V208.7H186.83V213.3H182.93V211.2H179.03V208.7H175.14V209.7H171.24V207.7H167.34V208.3H163.45V213.5H159.55V212.0H155.65V209.9H151.75V209.0H147.86V207.9H143.96V213.4H140.06V211.5H136.16V211.8H132.27V211.6H128.37V206.3H124.47V209.8H120.58V209.9H116.68V207.3H112.78V215.2H108.88V213.7H104.99V213.3H101.09V207.5H97.19V207.0H93.29V211.0H89.40V212.3H85.50Z" fill="#d818d8" fill-opacity="0.036"/>
<path d="M85.50,198.9V198.9H89.40V195.6H93.29V193.6H97.19V197.4H101.09V202.8H104.99V198.6H108.88V200.9H112.78V195.1H116.68V197.1H120.58V199.5H124.47V198.4H128.37V198.1H132.27V193.2H136.16V201.0H140.06V200.4H143.96V202.5H147.86V193.1H151.75V202.1H155.65V195.7H159.55V200.2H163.45V195.9H167.34V198.2H171.24V198.4H175.14V197.3H179.03V194.9H182.93V195.6H186.83V198.0H190.73V199.8H194.62V198.7H198.52V200.8H202.42V203.5H206.32V196.9H210.21V197.3H214.11V196.4H218.01V196.7H221.90V196.1H225.80V200.5H229.70V197.6H233.60V197.5H237.49V199.6H241.39V199.0H245.29V198.7H249.18V199.2H253.08V196.8H256.98V196.9H260.88V199.0H264.77V200.2H268.67V198.3H272.57V195.5H276.47V196.6H280.36V200.1H284.26V198.5H288.16V200.0H292.05V198.3H295.95V199.2H299.85V199.5H303.75V199.2H307.64V192.8H311.54V195.9H315.44V196.4H319.34V200.6H323.23V196.0H327.13V194.8H331.03V198.3H334.92V197.5H338.82V199.0H342.72V198.5H346.62V198.4H350.51V193.5H354.41V194.8H358.31V200.0H362.21V198.4H366.10V195.7H370.00V202.8H373.90V199.6H377.79V199.2H381.69V199.8H385.59V202.8H389.49V197.2H393.38V200.1H397.28V195.4H401.18V198.1H405.08V198.1H408.97V197.8H412.87V194.9H416.77V198.4H420.66V194.3H424.56V194.0H428.46V194.5H432.36V202.3H436.25V191.5H440.15V193.1H444.05V195.8H447.95V195.3H451.84V195.9H455.74V201.4H459.64V197.8H463.53V195.7H467.43V194.9H471.33V190.2H475.23V198.8H479.12V198.1H483.02V195.2H486.92V194.1H490.82V198.9H494.71V199.7H498.61V197.4H502.51V194.8H506.40V197.8H510.30V197.8H514.20V197.5H518.10V199.9H521.99V200.8H525.89V198.3H529.79V200.8H533.68V198.8H537.58V203.1H541.48V198.9H545.38V198.7H549.27V197.4H553.17V196.7H557.07V191.6H560.97V200.4H564.86V195.9H568.76V197.3H572.66V199.2H576.55V200.1H580.45V199.2H584.35V198.9H588.25V199.5H592.14V195.6H596.04V202.7H599.94V195.3H603.84V192.5H607.73V200.9H611.63V195.6H615.53V201.0H619.42V196.6H623.32V200.1H627.22V197.2H631.12V197.6H635.01V198.2H638.91V196.4H642.81V195.7H646.71V200.4H650.60V200.9H654.50V201.8H658.40V199.7H662.29V199.7H666.19V202.8H670.09V202.3H673.99V202.8H677.88V196.4H681.78V201.1H685.68V203.6H689.58V200.8H693.47V196.9H697.37V202.7H701.27V202.0H705.16V201.3H709.06V200.7H712.96V199.3H716.86V201.7H720.75V204.5H724.65V201.9H728.55V199.6H732.45V200.0H736.34V197.3H740.24V199.2H744.14V204.0H748.03V201.2H751.93V199.0H755.83V200.4H759.73V201.8H763.62V201.7H767.52V201.5H771.42V205.3H775.32V204.6H779.21V203.7H783.11V202.6H787.01V199.8H790.90V201.6H794.80V198.7H798.70V205.4H802.60V199.3H806.49V201.9H810.39V204.5H814.29V201.3H818.18V204.0H822.08V204.7H825.98V203.3H829.88V206.5H833.77V206.4H837.67V205.1H841.57V203.0H845.47V203.5H849.36V203.1H853.26V206.1H857.16V205.7H861.05V205.5H864.95V206.9H868.85V206.6H872.75V203.5H876.64V203.2H880.54V209.1H884.44V206.2H888.34V206.4H892.23V208.1H896.13V207.2H900.03V208.0H903.92V204.9H907.82V209.6H911.72V201.0H915.62V205.9H919.51V209.6H923.41V209.2H927.31V206.7H931.21V208.1H935.10V206.8H939.00V205.2H942.90V204.8H946.79V210.2H950.69V208.4H954.59V206.9H958.49V209.5H962.38V206.3H966.28V205.9H970.18V204.5H974.08V207.1H977.97V204.8H981.87V209.8H985.77V206.9H989.66V206.3H993.56V206.3H997.46V204.9H1001.36V208.1H1005.25V209.6H1009.15V208.7H1013.05V211.0H1016.95V211.4H1020.84V207.0H1024.74V209.3H1028.64V205.9H1032.53V209.2H1036.43V207.2H1040.33V209.0H1044.23V210.1H1048.12V212.0H1052.02V207.9H1055.92V207.0H1059.82V210.4H1063.71V208.6H1067.61V206.5H1071.51V206.8H1075.40V210.8H1079.30V209.4H1083.20V206.0H1087.10V209.9H1090.99V210.6H1094.89V208.2H1098.79V207.7H1102.68V209.1H1106.58V207.2H1110.48V207.3H1114.38V209.1H1118.27V209.6H1122.17V210.0H1126.07V205.9H1129.97V207.5H1133.86V208.7H1137.76V208.7H1141.66V208.6H1145.55V206.5H1149.45V207.1H1153.35V209.1H1157.25V205.7H1161.14V208.7H1165.04V207.9H1168.94V210.3H1172.84V205.5H1176.73V204.7H1180.63V208.9H1184.53V207.2H1188.42V207.2H1192.32V208.5H1196.22V207.6H1200.12V208.7H1204.01V207.2H1207.91V205.4H1211.81V207.2H1215.71V209.0H1219.60V206.4H1223.50V205.8H1227.40V206.2H1231.29V207.6H1235.19V204.4H1239.09V206.2H1242.99V205.8H1246.88V208.2H1250.78V206.2H1254.68V209.2H1258.58V207.9H1262.47V206.2H1266.37V206.5H1270.27V205.2H1274.16V202.3H1278.06V206.1H1281.96V207.8H1285.86V205.0H1289.75V206.1H1293.65V205.0H1297.55V206.0H1301.45V206.4H1305.34V204.7H1309.24V204.0H1313.14V203.3H1317.03V202.6H1320.93V204.4H1324.83V202.5H1328.73V203.0H1332.62V202.8H1336.52V203.7H1340.42V204.6H1344.32V202.4H1348.21V202.8H1352.11V201.3H1356.01V203.7H1359.90V202.5H1363.80V203.6H1367.70V205.8H1371.60V205.1H1375.49V201.1H1379.39V203.2H1383.29V203.5H1387.18V205.7H1391.08V202.7H1394.98V200.2H1398.88V204.7H1402.77V203.0H1406.67V201.9H1410.57V198.6H1414.47V201.9H1418.36V203.2H1422.26V204.0H1426.16V200.9H1430.05V201.8H1433.95V203.4H1437.85V205.0H1441.75V200.0H1445.64V203.7H1449.54V203.5H1453.44V203.5H1457.34V204.2H1461.23V203.3H1465.13V203.0H1469.03V202.9H1472.92V202.1H1476.82V202.2H1480.72V202.0H1484.62V200.6H1488.51V203.8H1492.41V200.8H1496.31V202.4H1500.21V200.9H1504.10V202.7H1508.00V207.5H1504.10V211.5H1500.21V210.1H1496.31V209.0H1492.41V209.5H1488.51V206.9H1484.62V206.6H1480.72V209.9H1476.82V206.2H1472.92V208.3H1469.03V207.9H1465.13V206.8H1461.23V207.2H1457.34V210.0H1453.44V211.6H1449.54V207.0H1445.64V210.6H1441.75V211.4H1437.85V208.0H1433.95V209.9H1430.05V208.7H1426.16V209.0H1422.26V209.1H1418.36V208.6H1414.47V209.5H1410.57V211.0H1406.67V210.2H1402.77V210.9H1398.88V207.3H1394.98V211.0H1391.08V210.3H1387.18V208.6H1383.29V212.7H1379.39V209.0H1375.49V208.5H1371.60V209.1H1367.70V209.9H1363.80V212.5H1359.90V209.5H1356.01V213.8H1352.11V212.5H1348.21V209.7H1344.32V212.2H1340.42V211.4H1336.52V211.6H1332.62V211.4H1328.73V212.4H1324.83V211.0H1320.93V209.7H1317.03V210.3H1313.14V209.9H1309.24V211.2H1305.34V210.3H1301.45V214.3H1297.55V209.5H1293.65V213.1H1289.75V215.9H1285.86V211.7H1281.96V211.8H1278.06V216.0H1274.16V209.6H1270.27V216.0H1266.37V214.0H1262.47V212.3H1258.58V213.5H1254.68V212.6H1250.78V213.4H1246.88V216.4H1242.99V214.2H1239.09V215.7H1235.19V214.2H1231.29V214.0H1227.40V214.1H1223.50V213.8H1219.60V216.9H1215.71V213.9H1211.81V212.2H1207.91V214.0H1204.01V217.4H1200.12V212.7H1196.22V215.0H1192.32V212.1H1188.42V214.8H1184.53V214.3H1180.63V214.9H1176.73V215.5H1172.84V215.9H1168.94V216.6H1165.04V215.9H1161.14V214.2H1157.25V215.7H1153.35V215.6H1149.45V214.1H1145.55V214.0H1141.66V217.5H1137.76V216.4H1133.86V213.9H1129.97V216.0H1126.07V218.1H1122.17V219.6H1118.27V216.5H1114.38V218.4H1110.48V215.5H1106.58V214.3H1102.68V215.4H1098.79V218.1H1094.89V217.1H1090.99V216.9H1087.10V216.5H1083.20V213.4H1079.30V219.8H1075.40V215.5H1071.51V218.3H1067.61V216.2H1063.71V215.2H1059.82V219.1H1055.92V214.3H1052.02V218.1H1048.12V215.0H1044.23V218.2H1040.33V218.6H1036.43V215.3H1032.53V216.2H1028.64V218.4H1024.74V214.7H1020.84V216.8H1016.95V217.2H1013.05V220.5H1009.15V213.3H1005.25V216.3H1001.36V218.5H997.46V217.4H993.56V217.2H989.66V217.3H985.77V219.1H981.87V215.9H977.97V217.6H974.08V214.0H970.18V216.9H966.28V213.2H962.38V214.8H958.49V214.3H954.59V216.0H950.69V216.1H946.79V216.3H942.90V215.6H939.00V215.6H935.10V216.2H931.21V219.6H927.31V212.1H923.41V213.8H919.51V213.1H915.62V216.8H911.72V216.3H907.82V213.5H903.92V216.9H900.03V217.9H896.13V213.2H892.23V212.7H888.34V212.8H884.44V215.0H880.54V218.7H876.64V214.2H872.75V210.9H868.85V214.8H864.95V214.2H861.05V215.2H857.16V214.3H853.26V216.7H849.36V214.1H845.47V214.7H841.57V217.5H837.67V213.0H833.77V214.2H829.88V211.2H825.98V216.1H822.08V214.6H818.18V210.5H814.29V215.9H810.39V211.0H806.49V214.8H802.60V215.2H798.70V209.6H794.80V217.0H790.90V210.7H787.01V216.2H783.11V214.6H779.21V214.6H775.32V214.9H771.42V212.5H767.52V210.7H763.62V213.6H759.73V217.2H755.83V213.5H751.93V217.7H748.03V215.8H744.14V212.2H740.24V213.8H736.34V216.8H732.45V213.0H728.55V211.7H724.65V216.3H720.75V211.9H716.86V211.4H712.96V217.0H709.06V213.0H705.16V215.2H701.27V213.1H697.37V216.6H693.47V213.8H689.58V211.3H685.68V210.2H681.78V209.0H677.88V215.2H673.99V213.5H670.09V210.8H666.19V215.6H662.29V211.6H658.40V212.2H654.50V211.8H650.60V210.4H646.71V213.2H642.81V212.0H638.91V211.4H635.01V207.6H631.12V209.9H627.22V213.4H623.32V211.6H619.42V212.4H615.53V212.7H611.63V208.8H607.73V214.6H603.84V208.0H599.94V210.2H596.04V214.3H592.14V214.4H588.25V213.0H584.35V210.6H580.45V208.5H576.55V212.3H572.66V209.3H568.76V209.2H564.86V206.5H560.97V209.3H557.07V210.8H553.17V209.5H549.27V208.0H545.38V211.9H541.48V209.3H537.58V211.0H533.68V206.9H529.79V207.9H525.89V210.6H521.99V209.5H518.10V207.3H514.20V209.9H510.30V209.1H506.40V210.8H502.51V211.6H498.61V214.5H494.71V203.9H490.82V211.9H486.92V208.9H483.02V204.9H479.12V208.9H475.23V214.4H471.33V211.2H467.43V213.1H463.53V209.4H459.64V211.7H455.74V207.4H451.84V210.3H447.95V211.1H444.05V212.3H440.15V208.6H436.25V209.7H432.36V207.5H428.46V210.5H424.56V207.6H420.66V210.5H416.77V210.0H412.87V206.9H408.97V205.7H405.08V211.9H401.18V211.1H397.28V211.9H393.38V212.7H389.49V212.8H385.59V214.9H381.69V209.5H377.79V205.3H373.90V211.0H370.00V213.9H366.10V213.3H362.21V208.8H358.31V209.9H354.41V204.9H350.51V209.2H346.62V209.2H342.72V214.0H338.82V210.5H334.92V216.5H331.03V211.0H327.13V209.4H323.23V211.5H319.34V209.7H315.44V212.7H311.54V214.5H307.64V215.0H303.75V213.1H299.85V206.7H295.95V208.1H292.05V205.7H288.16V207.6H284.26V205.0H280.36V212.3H276.47V214.9H272.57V209.8H268.67V207.5H264.77V215.9H260.88V211.4H256.98V210.3H253.08V210.0H249.18V210.9H245.29V211.7H241.39V211.1H237.49V208.4H233.60V209.1H229.70V205.8H225.80V208.1H221.90V210.1H218.01V205.4H214.11V205.9H210.21V213.7H206.32V210.4H202.42V211.7H198.52V208.6H194.62V209.8H190.73V206.6H186.83V205.7H182.93V212.8H179.03V206.4H175.14V209.2H171.24V208.6H167.34V212.4H163.45V212.8H159.55V212.3H155.65V212.3H151.75V210.9H147.86V213.2H143.96V214.4H140.06V209.1H136.16V210.4H132.27V214.8H128.37V214.6H124.47V214.6H120.58V210.9H116.68V207.9H112.78V211.0H108.88V208.1H104.99V211.4H101.09V211.4H97.19V212.2H93.29V208.0H89.40V207.4H85.50Z" fill="#d818d8" fill-opacity="0.036"/>
</g>
<path d="M85.5,101.65H1508.0M85.5,128.30H1508.0M85.5,154.95H1508.0M85.5,181.60H1508.0M85.5,208.25H1508.0M85.5,234.90H1508.0M85.5,261.55H1508.0M85.5,288.20H1508.0M85.5,314.85H1508.0M85.5,341.50H1508.0M85.5,368.15H1508.0M85.5,394.80H1508.0M85.5,421.45H1508.0M85.5,448.10H1508.0M85.5,474.75H1508.0M85.5,501.40H1508.0M85.5,528.05H1508.0M85.5,554.70H1508.0M85.5,581.35H1508.0" stroke="#ffffff" stroke-width="1.05" stroke-opacity="0.31" fill="none"/>
<path d="M206.32,75.0V608.0M315.44,75.0V608.0M436.25,75.0V608.0M553.17,75.0V608.0M673.99,75.0V608.0M790.90,75.0V608.0M911.72,75.0V608.0M1032.53,75.0V608.0M1149.45,75.0V608.0M1270.27,75.0V608.0M1387.18,75.0V608.0" stroke="#ffffff" stroke-width="1.2" stroke-opacity="0.38" fill="none"/>
<path d="M85.5,341.6H1508.0" stroke="#d8d8d8" stroke-width="1.6" fill="none"/>
<path d="M85.5,200.0L90.3,200.0L95.0,200.0L99.8,200.1L104.5,200.1L109.3,200.2L114.0,200.3L118.8,200.3L123.6,200.4L128.3,200.4L133.1,200.5L137.8,200.6L142.6,200.7L147.3,200.7L152.1,200.8L156.9,200.9L161.6,201.0L166.4,201.0L171.1,201.1L175.9,201.2L180.7,201.3L185.4,201.4L190.2,201.5L194.9,201.6L199.7,201.6L204.4,201.7L209.2,201.8L214.0,201.9L218.7,202.0L223.5,202.1L228.2,202.2L233.0,202.4L237.7,202.5L242.5,202.6L247.3,202.7L252.0,202.8L256.8,202.9L261.5,203.1L266.3,203.2L271.0,203.3L275.8,203.4L280.6,203.6L285.3,203.7L290.1,203.8L294.8,204.0L299.6,204.1L304.3,204.2L309.1,204.3L313.9,204.5L318.6,204.6L323.4,204.7L328.1,204.9L332.9,205.0L337.6,205.1L342.4,205.2L347.2,205.4L351.9,205.5L356.7,205.6L361.4,205.8L366.2,205.9L371.0,206.0L375.7,206.2L380.5,206.3L385.2,206.4L390.0,206.5L394.7,206.7L399.5,206.8L404.3,206.9L409.0,207.1L413.8,207.2L418.5,207.3L423.3,207.5L428.0,207.6L432.8,207.7L437.6,207.8L442.3,208.0L447.1,208.1L451.8,208.2L456.6,208.4L461.3,208.5L466.1,208.6L470.9,208.7L475.6,208.9L480.4,209.0L485.1,209.1L489.9,209.2L494.6,209.4L499.4,209.5L504.2,209.6L508.9,209.7L513.7,209.9L518.4,210.0L523.2,210.1L527.9,210.2L532.7,210.3L537.5,210.4L542.2,210.6L547.0,210.7L551.7,210.8L556.5,210.9L561.3,211.0L566.0,211.1L570.8,211.2L575.5,211.3L580.3,211.4L585.0,211.5L589.8,211.6L594.6,211.7L599.3,211.8L604.1,211.9L608.8,212.0L613.6,212.1L618.3,212.1L623.1,212.2L627.9,212.3L632.6,212.4L637.4,212.5L642.1,212.6L646.9,212.6L651.6,212.7L656.4,212.8L661.2,212.8L665.9,212.9L670.7,212.9L675.4,213.0L680.2,213.1L684.9,213.1L689.7,213.2L694.5,213.2L699.2,213.2L704.0,213.3L708.7,213.3L713.5,213.4L718.3,213.4L723.0,213.4L727.8,213.4L732.5,213.5L737.3,213.5L742.0,213.5L746.8,213.5L751.6,213.5L756.3,213.5L761.1,213.5L765.8,213.5L770.6,213.5L775.3,213.4L780.1,213.4L784.9,213.4L789.6,213.4L794.4,213.4L799.1,213.4L803.9,213.3L808.6,213.3L813.4,213.3L818.2,213.2L822.9,213.2L827.7,213.1L832.4,213.1L837.2,213.0L841.9,213.0L846.7,212.9L851.5,212.9L856.2,212.8L861.0,212.7L865.7,212.6L870.5,212.6L875.2,212.5L880.0,212.4L884.8,212.3L889.5,212.3L894.3,212.2L899.0,212.1L903.8,212.0L908.6,211.9L913.3,211.9L918.1,211.8L922.8,211.7L927.6,211.6L932.3,211.5L937.1,211.4L941.9,211.3L946.6,211.2L951.4,211.1L956.1,211.0L960.9,210.9L965.6,210.8L970.4,210.7L975.2,210.6L979.9,210.5L984.7,210.3L989.4,210.2L994.2,210.1L998.9,210.0L1003.7,209.9L1008.5,209.8L1013.2,209.7L1018.0,209.5L1022.7,209.4L1027.5,209.3L1032.2,209.2L1037.0,209.1L1041.8,209.0L1046.5,208.9L1051.3,208.7L1056.0,208.6L1060.8,208.5L1065.6,208.4L1070.3,208.3L1075.1,208.2L1079.8,208.1L1084.6,207.9L1089.3,207.8L1094.1,207.7L1098.9,207.6L1103.6,207.5L1108.4,207.4L1113.1,207.2L1117.9,207.1L1122.6,207.0L1127.4,206.9L1132.2,206.8L1136.9,206.6L1141.7,206.5L1146.4,206.4L1151.2,206.3L1155.9,206.1L1160.7,206.0L1165.5,205.9L1170.2,205.7L1175.0,205.6L1179.7,205.5L1184.5,205.3L1189.2,205.2L1194.0,205.0L1198.8,204.9L1203.5,204.7L1208.3,204.6L1213.0,204.5L1217.8,204.3L1222.5,204.2L1227.3,204.0L1232.1,203.9L1236.8,203.8L1241.6,203.6L1246.3,203.5L1251.1,203.4L1255.9,203.3L1260.6,203.1L1265.4,203.0L1270.1,202.9L1274.9,202.8L1279.6,202.7L1284.4,202.6L1289.2,202.5L1293.9,202.4L1298.7,202.2L1303.4,202.1L1308.2,202.0L1312.9,201.9L1317.7,201.8L1322.5,201.7L1327.2,201.6L1332.0,201.5L1336.7,201.4L1341.5,201.3L1346.2,201.3L1351.0,201.2L1355.8,201.1L1360.5,201.0L1365.3,200.9L1370.0,200.9L1374.8,200.8L1379.5,200.7L1384.3,200.6L1389.1,200.6L1393.8,200.5L1398.6,200.5L1403.3,200.4L1408.1,200.4L1412.8,200.3L1417.6,200.3L1422.4,200.2L1427.1,200.2L1431.9,200.1L1436.6,200.1L1441.4,200.1L1446.2,200.0L1450.9,200.0L1455.7,200.0L1460.4,200.0L1465.2,200.0L1469.9,200.0L1474.7,199.9L1479.5,199.9L1484.2,199.9L1489.0,199.9L1493.7,199.9L1498.5,199.9L1503.2,199.9L1508.0,199.9" stroke="#16e01e" stroke-width="1.4" fill="none"/>
<path d="M85.5,205.3L90.3,205.3L95.0,205.2L99.8,205.2L104.5,205.2L109.3,205.1L114.0,205.1L118.8,205.0L123.6,205.0L128.3,204.9L133.1,204.9L137.8,204.8L142.6,204.8L147.3,204.7L152.1,204.7L156.9,204.6L161.6,204.6L166.4,204.6L171.1,204.5L175.9,204.5L180.7,204.5L185.4,204.4L190.2,204.4L194.9,204.4L199.7,204.3L204.4,204.3L209.2,204.3L214.0,204.3L218.7,204.3L223.5,204.2L228.2,204.2L233.0,204.2L237.7,204.2L242.5,204.2L247.3,204.2L252.0,204.2L256.8,204.2L261.5,204.1L266.3,204.1L271.0,204.1L275.8,204.1L280.6,204.1L285.3,204.1L290.1,204.1L294.8,204.1L299.6,204.0L304.3,204.0L309.1,204.0L313.9,204.0L318.6,204.0L323.4,203.9L328.1,203.9L332.9,203.9L337.6,203.8L342.4,203.8L347.2,203.8L351.9,203.7L356.7,203.7L361.4,203.6L366.2,203.6L371.0,203.5L375.7,203.5L380.5,203.4L385.2,203.4L390.0,203.4L394.7,203.3L399.5,203.3L404.3,203.3L409.0,203.2L413.8,203.2L418.5,203.2L423.3,203.2L428.0,203.1L432.8,203.1L437.6,203.1L442.3,203.1L447.1,203.1L451.8,203.1L456.6,203.1L461.3,203.1L466.1,203.2L470.9,203.2L475.6,203.2L480.4,203.2L485.1,203.2L489.9,203.3L494.6,203.3L499.4,203.4L504.2,203.4L508.9,203.5L513.7,203.6L518.4,203.7L523.2,203.8L527.9,203.9L532.7,204.0L537.5,204.1L542.2,204.2L547.0,204.3L551.7,204.4L556.5,204.5L561.3,204.6L566.0,204.7L570.8,204.8L575.5,204.9L580.3,204.9L585.0,205.0L589.8,205.1L594.6,205.2L599.3,205.3L604.1,205.3L608.8,205.4L613.6,205.5L618.3,205.6L623.1,205.7L627.9,205.8L632.6,205.9L637.4,206.0L642.1,206.1L646.9,206.2L651.6,206.4L656.4,206.5L661.2,206.6L665.9,206.7L670.7,206.8L675.4,206.9L680.2,207.0L684.9,207.1L689.7,207.2L694.5,207.3L699.2,207.3L704.0,207.4L708.7,207.5L713.5,207.6L718.3,207.7L723.0,207.7L727.8,207.8L732.5,207.9L737.3,208.0L742.0,208.0L746.8,208.1L751.6,208.2L756.3,208.3L761.1,208.3L765.8,208.4L770.6,208.5L775.3,208.6L780.1,208.7L784.9,208.7L789.6,208.8L794.4,208.9L799.1,209.0L803.9,209.0L808.6,209.1L813.4,209.2L818.2,209.3L822.9,209.4L827.7,209.4L832.4,209.5L837.2,209.6L841.9,209.7L846.7,209.8L851.5,209.8L856.2,209.9L861.0,210.0L865.7,210.1L870.5,210.2L875.2,210.3L880.0,210.4L884.8,210.5L889.5,210.6L894.3,210.7L899.0,210.8L903.8,210.9L908.6,210.9L913.3,211.0L918.1,211.1L922.8,211.2L927.6,211.3L932.3,211.3L937.1,211.4L941.9,211.5L946.6,211.6L951.4,211.6L956.1,211.7L960.9,211.8L965.6,211.8L970.4,211.9L975.2,212.0L979.9,212.0L984.7,212.1L989.4,212.2L994.2,212.2L998.9,212.3L1003.7,212.4L1008.5,212.4L1013.2,212.4L1018.0,212.5L1022.7,212.5L1027.5,212.5L1032.2,212.6L1037.0,212.6L1041.8,212.6L1046.5,212.6L1051.3,212.6L1056.0,212.6L1060.8,212.6L1065.6,212.6L1070.3,212.6L1075.1,212.6L1079.8,212.6L1084.6,212.6L1089.3,212.6L1094.1,212.6L1098.9,212.5L1103.6,212.5L1108.4,212.5L1113.1,212.4L1117.9,212.4L1122.6,212.3L1127.4,212.3L1132.2,212.2L1136.9,212.2L1141.7,212.1L1146.4,212.0L1151.2,212.0L1155.9,211.9L1160.7,211.8L1165.5,211.8L1170.2,211.7L1175.0,211.6L1179.7,211.5L1184.5,211.4L1189.2,211.3L1194.0,211.2L1198.8,211.1L1203.5,211.0L1208.3,210.9L1213.0,210.8L1217.8,210.7L1222.5,210.6L1227.3,210.4L1232.1,210.3L1236.8,210.2L1241.6,210.0L1246.3,209.9L1251.1,209.8L1255.9,209.6L1260.6,209.5L1265.4,209.3L1270.1,209.2L1274.9,209.1L1279.6,208.9L1284.4,208.8L1289.2,208.7L1293.9,208.5L1298.7,208.4L1303.4,208.3L1308.2,208.2L1312.9,208.0L1317.7,207.9L1322.5,207.8L1327.2,207.7L1332.0,207.6L1336.7,207.4L1341.5,207.3L1346.2,207.2L1351.0,207.1L1355.8,207.0L1360.5,206.9L1365.3,206.8L1370.0,206.7L1374.8,206.6L1379.5,206.5L1384.3,206.4L1389.1,206.3L1393.8,206.2L1398.6,206.1L1403.3,206.0L1408.1,205.9L1412.8,205.8L1417.6,205.8L1422.4,205.7L1427.1,205.7L1431.9,205.6L1436.6,205.6L1441.4,205.5L1446.2,205.5L1450.9,205.5L1455.7,205.5L1460.4,205.5L1465.2,205.4L1469.9,205.4L1474.7,205.4L1479.5,205.4L1484.2,205.4L1489.0,205.4L1493.7,205.4L1498.5,205.4L1503.2,205.4L1508.0,205.4" stroke="#f868f8" stroke-width="1.6" fill="none"/>
<path d="M85.5,219.4L90.3,219.4L95.0,219.4L99.8,219.4L104.5,219.4L109.3,219.4L114.0,219.4L118.8,219.4L123.6,219.4L128.3,219.5L133.1,219.5L137.8,219.5L142.6,219.5L147.3,219.5L152.1,219.6L156.9,219.6L161.6,219.7L166.4,219.8L171.1,219.8L175.9,219.9L180.7,220.0L185.4,220.1L190.2,220.2L194.9,220.3L199.7,220.5L204.4,220.6L209.2,220.7L214.0,220.9L218.7,221.0L223.5,221.2L228.2,221.3L233.0,221.4L237.7,221.6L242.5,221.7L247.3,221.8L252.0,221.9L256.8,221.9L261.5,221.9L266.3,221.9L271.0,221.9L275.8,221.9L280.6,221.8L285.3,221.8L290.1,221.7L294.8,221.6L299.6,221.5L304.3,221.4L309.1,221.3L313.9,221.2L318.6,221.1L323.4,221.0L328.1,220.9L332.9,220.8L337.6,220.7L342.4,220.6L347.2,220.5L351.9,220.5L356.7,220.4L361.4,220.3L366.2,220.3L371.0,220.3L375.7,220.3L380.5,220.3L385.2,220.3L390.0,220.3L394.7,220.3L399.5,220.3L404.3,220.3L409.0,220.3L413.8,220.4L418.5,220.4L423.3,220.4L428.0,220.5L432.8,220.5L437.6,220.5L442.3,220.5L447.1,220.6L451.8,220.6L456.6,220.6L461.3,220.6L466.1,220.7L470.9,220.7L475.6,220.7L480.4,220.8L485.1,220.8L489.9,220.9L494.6,220.9L499.4,221.0L504.2,221.1L508.9,221.3L513.7,221.4L518.4,221.6L523.2,221.8L527.9,222.1L532.7,222.4L537.5,222.7L542.2,223.0L547.0,223.4L551.7,223.7L556.5,224.0L561.3,224.3L566.0,224.5L570.8,224.8L575.5,225.0L580.3,225.2L585.0,225.4L589.8,225.5L594.6,225.7L599.3,225.8L604.1,225.9L608.8,226.0L613.6,226.1L618.3,226.1L623.1,226.2L627.9,226.3L632.6,226.3L637.4,226.4L642.1,226.4L646.9,226.5L651.6,226.5L656.4,226.6L661.2,226.7L665.9,226.7L670.7,226.8L675.4,226.8L680.2,226.9L684.9,227.0L689.7,227.1L694.5,227.1L699.2,227.2L704.0,227.3L708.7,227.3L713.5,227.4L718.3,227.5L723.0,227.5L727.8,227.5L732.5,227.6L737.3,227.6L742.0,227.5L746.8,227.5L751.6,227.5L756.3,227.4L761.1,227.3L765.8,227.2L770.6,227.1L775.3,226.9L780.1,226.8L784.9,226.7L789.6,226.6L794.4,226.5L799.1,226.4L803.9,226.2L808.6,226.1L813.4,226.0L818.2,226.0L822.9,225.9L827.7,225.8L832.4,225.7L837.2,225.6L841.9,225.5L846.7,225.3L851.5,225.2L856.2,225.1L861.0,224.9L865.7,224.8L870.5,224.6L875.2,224.4L880.0,224.2L884.8,224.0L889.5,223.7L894.3,223.5L899.0,223.2L903.8,222.9L908.6,222.7L913.3,222.4L918.1,222.2L922.8,221.9L927.6,221.7L932.3,221.5L937.1,221.3L941.9,221.1L946.6,221.0L951.4,220.8L956.1,220.7L960.9,220.5L965.6,220.4L970.4,220.3L975.2,220.2L979.9,220.1L984.7,220.0L989.4,219.9L994.2,219.8L998.9,219.7L1003.7,219.6L1008.5,219.5L1013.2,219.4L1018.0,219.2L1022.7,219.1L1027.5,219.0L1032.2,218.8L1037.0,218.6L1041.8,218.5L1046.5,218.3L1051.3,218.1L1056.0,218.0L1060.8,217.8L1065.6,217.7L1070.3,217.5L1075.1,217.4L1079.8,217.3L1084.6,217.3L1089.3,217.2L1094.1,217.2L1098.9,217.1L1103.6,217.1L1108.4,217.0L1113.1,217.0L1117.9,216.9L1122.6,216.9L1127.4,216.9L1132.2,216.8L1136.9,216.8L1141.7,216.8L1146.4,216.7L1151.2,216.7L1155.9,216.7L1160.7,216.6L1165.5,216.6L1170.2,216.5L1175.0,216.5L1179.7,216.5L1184.5,216.4L1189.2,216.4L1194.0,216.3L1198.8,216.3L1203.5,216.2L1208.3,216.2L1213.0,216.2L1217.8,216.1L1222.5,216.1L1227.3,216.0L1232.1,215.9L1236.8,215.9L1241.6,215.8L1246.3,215.8L1251.1,215.7L1255.9,215.7L1260.6,215.6L1265.4,215.6L1270.1,215.5L1274.9,215.5L1279.6,215.4L1284.4,215.4L1289.2,215.4L1293.9,215.3L1298.7,215.3L1303.4,215.3L1308.2,215.2L1312.9,215.2L1317.7,215.2L1322.5,215.1L1327.2,215.1L1332.0,215.1L1336.7,215.0L1341.5,214.9L1346.2,214.9L1351.0,214.8L1355.8,214.7L1360.5,214.5L1365.3,214.4L1370.0,214.3L1374.8,214.1L1379.5,214.0L1384.3,213.8L1389.1,213.7L1393.8,213.5L1398.6,213.4L1403.3,213.2L1408.1,213.1L1412.8,213.0L1417.6,212.9L1422.4,212.8L1427.1,212.7L1431.9,212.7L1436.6,212.6L1441.4,212.6L1446.2,212.5L1450.9,212.5L1455.7,212.5L1460.4,212.5L1465.2,212.5L1469.9,212.5L1474.7,212.4L1479.5,212.4L1484.2,212.4L1489.0,212.4L1493.7,212.4L1498.5,212.4L1503.2,212.4L1508.0,212.4" stroke="#f2ee30" stroke-width="1.5" fill="none"/>
<path d="M85.5,405.1L90.3,405.1L95.0,405.1L99.8,405.1L104.5,405.1L109.3,405.1L114.0,405.1L118.8,405.1L123.6,405.1L128.3,405.1L133.1,405.2L137.8,405.2L142.6,405.3L147.3,405.4L152.1,405.5L156.9,405.7L161.6,406.0L166.4,406.3L171.1,406.8L175.9,407.2L180.7,407.7L185.4,408.3L190.2,408.9L194.9,409.6L199.7,410.2L204.4,410.9L209.2,411.5L214.0,412.1L218.7,412.7L223.5,413.2L228.2,413.7L233.0,414.1L237.7,414.5L242.5,414.8L247.3,415.0L252.0,415.1L256.8,415.1L261.5,415.1L266.3,414.9L271.0,414.6L275.8,414.2L280.6,413.6L285.3,412.9L290.1,412.1L294.8,411.0L299.6,409.9L304.3,408.6L309.1,407.3L313.9,405.8L318.6,404.4L323.4,403.0L328.1,401.6L332.9,400.4L337.6,399.2L342.4,398.2L347.2,397.4L351.9,396.7L356.7,396.0L361.4,395.6L366.2,395.2L371.0,394.8L375.7,394.6L380.5,394.3L385.2,394.1L390.0,394.0L394.7,393.8L399.5,393.6L404.3,393.4L409.0,393.1L413.8,392.9L418.5,392.6L423.3,392.3L428.0,391.9L432.8,391.6L437.6,391.2L442.3,390.9L447.1,390.5L451.8,390.2L456.6,389.9L461.3,389.6L466.1,389.4L470.9,389.2L475.6,389.1L480.4,388.9L485.1,388.9L489.9,388.8L494.6,388.8L499.4,388.9L504.2,388.9L508.9,389.1L513.7,389.2L518.4,389.4L523.2,389.7L527.9,389.9L532.7,390.2L537.5,390.5L542.2,390.9L547.0,391.3L551.7,391.6L556.5,392.0L561.3,392.4L566.0,392.7L570.8,393.1L575.5,393.4L580.3,393.7L585.0,393.9L589.8,394.1L594.6,394.3L599.3,394.4L604.1,394.4L608.8,394.5L613.6,394.4L618.3,394.3L623.1,394.1L627.9,393.8L632.6,393.4L637.4,392.8L642.1,392.1L646.9,391.3L651.6,390.3L656.4,389.2L661.2,388.0L665.9,386.7L670.7,385.3L675.4,384.0L680.2,382.7L684.9,381.5L689.7,380.3L694.5,379.3L699.2,378.4L704.0,377.6L708.7,376.9L713.5,376.3L718.3,375.8L723.0,375.4L727.8,375.0L732.5,374.7L737.3,374.4L742.0,374.0L746.8,373.7L751.6,373.3L756.3,372.8L761.1,372.3L765.8,371.8L770.6,371.1L775.3,370.4L780.1,369.7L784.9,368.8L789.6,367.9L794.4,367.0L799.1,366.1L803.9,365.1L808.6,364.3L813.4,363.5L818.2,362.8L822.9,362.2L827.7,361.7L832.4,361.3L837.2,361.0L841.9,360.8L846.7,360.5L851.5,360.4L856.2,360.2L861.0,360.0L865.7,359.8L870.5,359.6L875.2,359.4L880.0,359.1L884.8,358.8L889.5,358.5L894.3,358.1L899.0,357.7L903.8,357.3L908.6,356.9L913.3,356.4L918.1,356.0L922.8,355.6L927.6,355.2L932.3,354.9L937.1,354.6L941.9,354.4L946.6,354.2L951.4,354.0L956.1,353.9L960.9,353.8L965.6,353.7L970.4,353.7L975.2,353.6L979.9,353.6L984.7,353.5L989.4,353.5L994.2,353.4L998.9,353.4L1003.7,353.3L1008.5,353.3L1013.2,353.2L1018.0,353.2L1022.7,353.1L1027.5,353.0L1032.2,353.0L1037.0,352.9L1041.8,352.8L1046.5,352.7L1051.3,352.6L1056.0,352.5L1060.8,352.5L1065.6,352.4L1070.3,352.3L1075.1,352.3L1079.8,352.3L1084.6,352.3L1089.3,352.3L1094.1,352.4L1098.9,352.5L1103.6,352.6L1108.4,352.8L1113.1,353.0L1117.9,353.2L1122.6,353.5L1127.4,353.7L1132.2,354.0L1136.9,354.4L1141.7,354.7L1146.4,355.1L1151.2,355.4L1155.9,355.8L1160.7,356.1L1165.5,356.4L1170.2,356.7L1175.0,356.9L1179.7,357.1L1184.5,357.3L1189.2,357.5L1194.0,357.6L1198.8,357.7L1203.5,357.7L1208.3,357.8L1213.0,357.9L1217.8,358.0L1222.5,358.2L1227.3,358.3L1232.1,358.5L1236.8,358.7L1241.6,359.0L1246.3,359.3L1251.1,359.6L1255.9,360.0L1260.6,360.3L1265.4,360.7L1270.1,361.0L1274.9,361.4L1279.6,361.7L1284.4,362.1L1289.2,362.4L1293.9,362.6L1298.7,362.9L1303.4,363.1L1308.2,363.3L1312.9,363.4L1317.7,363.5L1322.5,363.6L1327.2,363.7L1332.0,363.7L1336.7,363.7L1341.5,363.8L1346.2,363.8L1351.0,363.8L1355.8,363.8L1360.5,363.8L1365.3,363.8L1370.0,363.8L1374.8,363.8L1379.5,363.8L1384.3,363.8L1389.1,363.8L1393.8,363.8L1398.6,363.8L1403.3,363.8L1408.1,363.8L1412.8,363.8L1417.6,363.8L1422.4,363.8L1427.1,363.8L1431.9,363.8L1436.6,363.8L1441.4,363.8L1446.2,363.8L1450.9,363.8L1455.7,363.8L1460.4,363.8L1465.2,363.8L1469.9,363.8L1474.7,363.8L1479.5,363.8L1484.2,363.8L1489.0,363.8L1493.7,363.8L1498.5,363.8L1503.2,363.8L1508.0,363.8" stroke="#1a8cf0" stroke-width="1.5" fill="none"/>
<path d="M85.4,75.0V608.0" stroke="#c8c8c8" stroke-width="1.6" fill="none" stroke-linecap="square"/>
<path d="M1508.0,341.5V608.0" stroke="#b4b8bc" stroke-width="1.6" fill="none"/>
<path d="M85.5,74.8H1508.0M85.5,608.1H1508.0M1508.0,75.0V341.5" stroke="#c6c6c6" stroke-width="1.9" fill="none" stroke-linecap="square"/>
<path d="M85.50,608.0V613.5M206.32,608.0V613.5M315.44,608.0V613.5M436.25,608.0V613.5M553.17,608.0V613.5M673.99,608.0V613.5M790.90,608.0V613.5M911.72,608.0V613.5M1032.53,608.0V613.5M1149.45,608.0V613.5M1270.27,608.0V613.5M1387.18,608.0V613.5M1508.00,608.0V613.5" stroke="#a4a4a4" stroke-width="1.6" fill="none"/>
<path d="M79.8,75.00H85.5M79.8,128.30H85.5M79.8,181.60H85.5M79.8,234.90H85.5M79.8,288.20H85.5M79.8,341.50H85.5M79.8,394.80H85.5M79.8,448.10H85.5M79.8,501.40H85.5M79.8,554.70H85.5M79.8,608.00H85.5M1508.0,341.50H1513.7M1508.0,274.88H1513.7M1508.0,208.25H1513.7M1508.0,141.62H1513.7M1508.0,75.00H1513.7M1508.0,408.12H1513.7M1508.0,474.75H1513.7M1508.0,541.38H1513.7M1508.0,608.00H1513.7" stroke="#c2c2c2" stroke-width="1.6" fill="none"/>
<path d="M1508.0,330.40H1511.5M1508.0,319.29H1511.5M1508.0,308.19H1511.5M1508.0,297.08H1511.5M1508.0,285.98H1511.5M1508.0,263.77H1511.5M1508.0,252.67H1511.5M1508.0,241.56H1511.5M1508.0,230.46H1511.5M1508.0,219.35H1511.5M1508.0,197.15H1511.5M1508.0,186.04H1511.5M1508.0,174.94H1511.5M1508.0,163.83H1511.5M1508.0,152.73H1511.5M1508.0,130.52H1511.5M1508.0,119.42H1511.5M1508.0,108.31H1511.5M1508.0,97.21H1511.5M1508.0,86.10H1511.5" stroke="#cfcfcf" stroke-width="1.2" fill="none"/>
<text class="tk" x="72.4" y="80.1" text-anchor="end">50</text>
<text class="tk" x="72.4" y="133.4" text-anchor="end">40</text>
<text class="tk" x="72.4" y="186.7" text-anchor="end">30</text>
<text class="tk" x="72.4" y="240.0" text-anchor="end">20</text>
<text class="tk" x="72.4" y="293.3" text-anchor="end">10</text>
<text class="tk" x="72.4" y="346.6" text-anchor="end">0</text>
<text class="tk" x="72.4" y="399.9" text-anchor="end">-10</text>
<text class="tk" x="72.4" y="453.2" text-anchor="end">-20</text>
<text class="tk" x="72.4" y="506.5" text-anchor="end">-30</text>
<text class="tk" x="72.4" y="559.8" text-anchor="end">-40</text>
<text class="tk" x="72.4" y="613.1" text-anchor="end">-50</text>
<text class="tk" x="1541.3" y="346.8" text-anchor="end">0</text>
<text class="tk" x="1541.3" y="280.2" text-anchor="end">6</text>
<text class="tk" x="1541.3" y="213.6" text-anchor="end">12</text>
<text class="tk" x="1541.3" y="146.9" text-anchor="end">18</text>
<text class="tk" x="1541.3" y="80.3" text-anchor="end">24</text>
<text class="tk" x="1541.3" y="413.4" text-anchor="end">10</text>
<text class="tk" x="1541.3" y="480.1" text-anchor="end">20</text>
<text class="tk" x="1541.3" y="546.7" text-anchor="end">30</text>
<text class="tk" x="1541.3" y="613.3" text-anchor="end">40</text>
<text class="tk" x="145.9" y="631.5" text-anchor="middle">Jan</text>
<text class="tk" x="260.9" y="631.5" text-anchor="middle">Feb</text>
<text class="tk" x="375.8" y="631.5" text-anchor="middle">Mär</text>
<text class="tk" x="494.7" y="631.5" text-anchor="middle">Apr</text>
<text class="tk" x="613.6" y="631.5" text-anchor="middle">Mai</text>
<text class="tk" x="732.4" y="631.5" text-anchor="middle">Jun</text>
<text class="tk" x="851.3" y="631.5" text-anchor="middle">Jul</text>
<text class="tk" x="972.1" y="631.5" text-anchor="middle">Aug</text>
<text class="tk" x="1091.0" y="631.5" text-anchor="middle">Sep</text>
<text class="tk" x="1209.9" y="631.5" text-anchor="middle">Okt</text>
<text class="tk" x="1328.7" y="631.5" text-anchor="middle">Nov</text>
<text class="tk" x="1447.6" y="631.5" text-anchor="middle">Dez</text>
<text x="797" y="30.8" text-anchor="middle" style="font-size:23.43px;fill:#e4e4e4">Klimawandel in Flying Fish Cove</text>
<text x="796.5" y="57.4" text-anchor="middle" style="font-size:15.6px;fill:#d0d0d0">Breitengrad -10.439 - Längengrad 105.687 - Höhe 133.0</text>
<text x="86.5" y="67.8" style="font-size:23.2px">1940 - 1950</text>
<text class="ax" transform="translate(42.5,341.5) rotate(-90)" text-anchor="middle">Temperatur °C</text>
<text class="ax" transform="translate(1554.3,208) rotate(90)" text-anchor="middle">Tag / Sonne (h)</text>
<text class="ax" transform="translate(1554.3,475) rotate(90)" text-anchor="middle">Regen / Schnee (mm)</text>
<text class="lg" x="86" y="683">Temperatur °C</text>
<text class="lg" x="553" y="683">Tag / Sonne (h)</text>
<text class="lg" x="943.5" y="683">Regen (mm)</text>
<text class="lg" x="1255.5" y="683">Schnee (mm)</text>
<rect x="85.3" y="699.0" width="16" height="31" fill="url(#gMag)"/>
<text class="lg" x="108.6" y="722">Bereich min / max pro Tag</text>
<path d="M85.3,754.7h16" stroke="#ff66ff" stroke-width="1.4"/>
<text class="lg" x="108.6" y="761">Monatlicher Durchschnitt</text>
<path d="M553,715.7h16" stroke="#18e018" stroke-width="1.4"/>
<text class="lg" x="576.7" y="722">Tageslicht pro Tag</text>
<rect x="553" y="738.0" width="16" height="31" fill="url(#gYel)"/>
<text class="lg" x="576.7" y="761">Sonnenschein pro Tag</text>
<path d="M553,793.7h16" stroke="#f2f030" stroke-width="1.4"/>
<text class="lg" x="576.7" y="800">Sonnenschein Monatsdurchschnitt</text>
<rect x="942.7" y="699.0" width="16" height="31" fill="url(#gBlu)"/>
<text class="lg" x="966.5" y="722">Regen pro Tag</text>
<path d="M942.7,754.7h16" stroke="#1e8ae6" stroke-width="1.4"/>
<text class="lg" x="966.5" y="761">Monatsdurchschnitt</text>
<rect x="1254.6" y="699.0" width="16" height="31" fill="url(#gWht)"/>
<text class="lg" x="1278.5" y="722">Schnee pro Tag</text>
<path d="M1254.6,754.7h16" stroke="#e8e8e8" stroke-width="1.4"/>
<text class="lg" x="1278.5" y="761">Monatsdurchschnitt</text>
<text x="1569.5" y="802" text-anchor="end" style="font-size:15.6px">© ClimeChart.com</text>
</svg></body></html>
